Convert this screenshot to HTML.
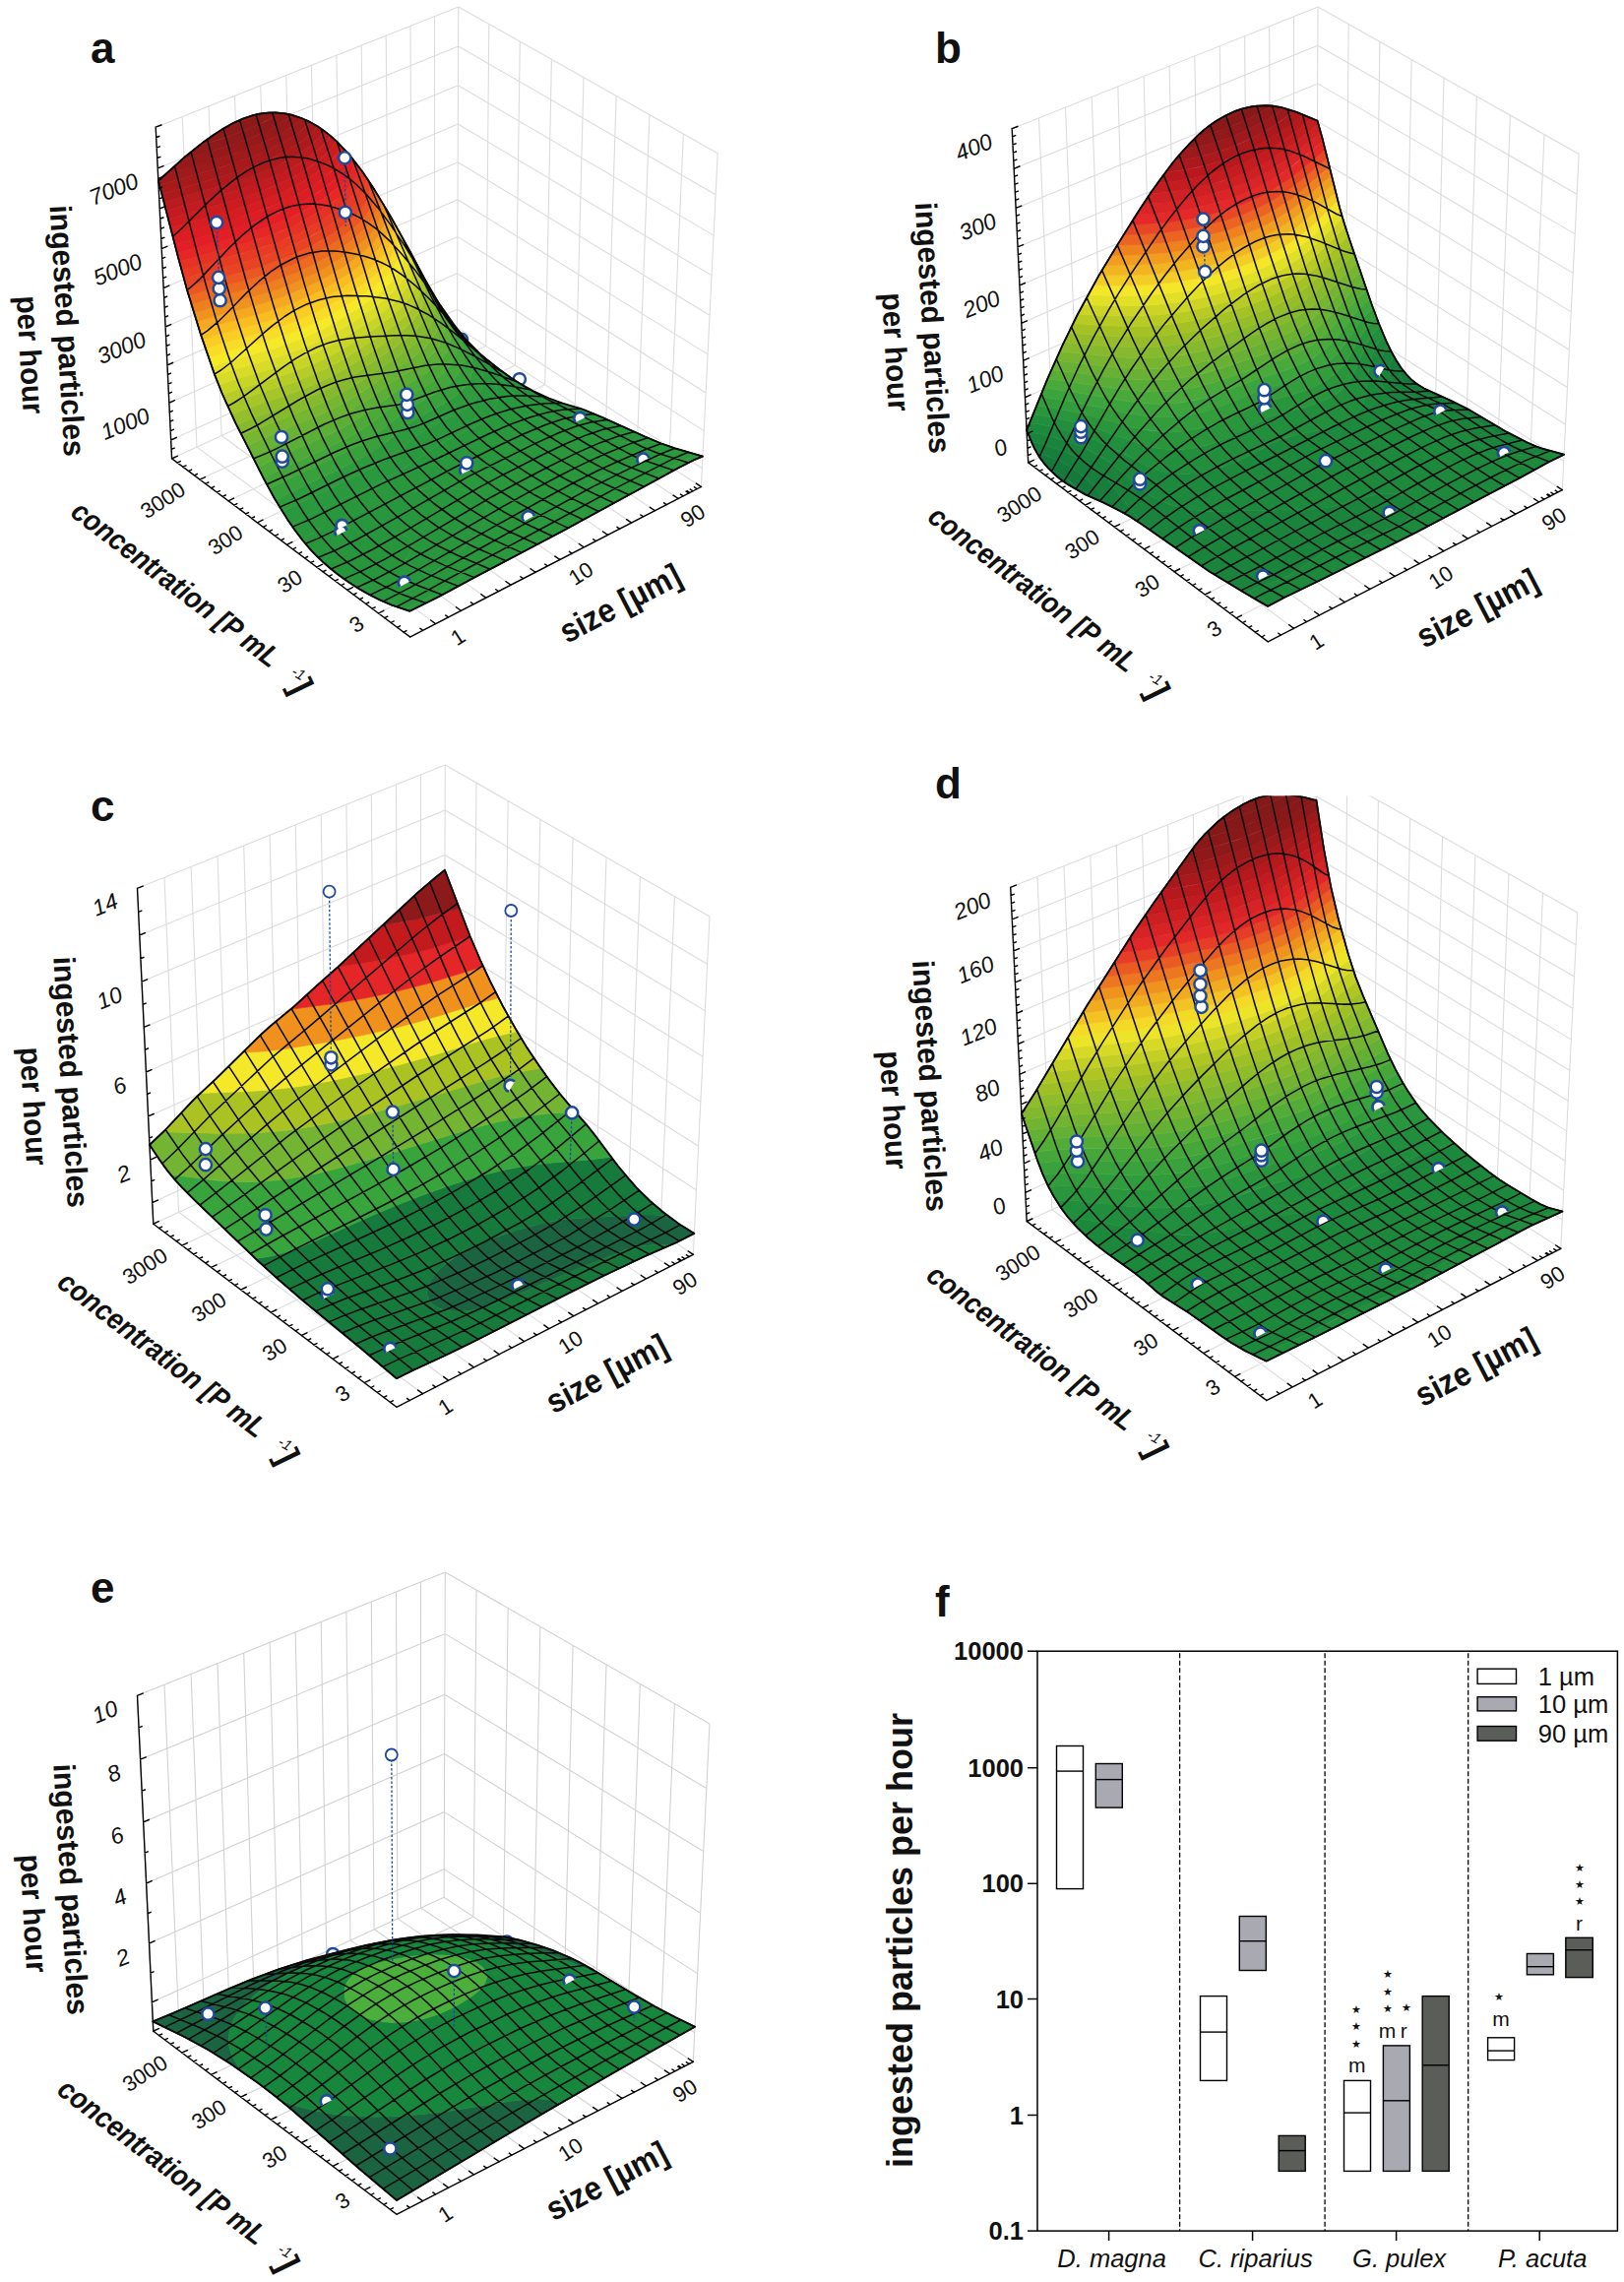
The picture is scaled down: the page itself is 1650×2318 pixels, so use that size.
<!DOCTYPE html>
<html><head><meta charset="utf-8"><title>Figure</title>
<style>html,body{margin:0;padding:0;background:#fff}svg{display:block}text{font-family:"Liberation Sans",Arial,Helvetica,sans-serif;fill:#111}</style>
</head><body>
<svg xmlns="http://www.w3.org/2000/svg" width="1650" height="2318" viewBox="0 0 1650 2318" fill="none">
<rect width="1650" height="2318" fill="#fff"/>
<g id="pa"><path d="M174.6 465.8L158.2 129.2M416.6 647L174.6 465.8M200 454.1L185.2 118.5M442.5 633.6L200 454.1M225.2 442.5L212 107.8M468.3 620.3L225.2 442.5M250.1 431.1L238.5 97.3M493.8 607.2L250.1 431.1M274.8 419.7L264.7 86.9M519 594.2L274.8 419.7M299.3 408.4L290.7 76.5M544 581.3L299.3 408.4M323.5 397.3L316.4 66.3M568.8 568.5L323.5 397.3M347.5 386.2L341.9 56.2M593.3 555.9L347.5 386.2M371.3 375.3L367.2 46.1M617.6 543.4L371.3 375.3M395 364.4L392.2 36.2M641.6 531L395 364.4M418.4 353.7L417 26.3M665.4 518.7L418.4 353.7M441.5 343L441.5 16.6M689.1 506.5L441.5 343M464.5 332.4L465.8 6.9M712.4 494.5L464.5 332.4M712.4 494.5L729.2 155.7M416.6 647L712.4 494.5M679.6 473L694.3 135.9M384.4 623L679.6 473M647.4 452L659.9 116.5M352.9 599.3L647.4 452M615.6 431.2L626.1 97.4M321.9 576.1L615.6 431.2M584.4 410.8L593 78.7M291.4 553.3L584.4 410.8M553.7 390.7L560.4 60.3M261.5 530.8L553.7 390.7M523.5 371L528.3 42.2M232 508.8L523.5 371M493.8 351.5L496.8 24.4M203.1 487.1L493.8 351.5M464.5 332.4L465.8 6.9M174.6 465.8L464.5 332.4M173.7 447L464.6 314.3M464.6 314.3L713.4 475.7M171.9 409.2L464.7 277.6M464.7 277.6L715.3 437.6M170 370.9L464.9 240.4M464.9 240.4L717.2 399M168.1 332L465 202.8M465 202.8L719.1 359.9M166.2 292.6L465.2 164.7M465.2 164.7L721.1 320.2M164.2 252.6L465.4 126M465.4 126L723.1 279.9M162.3 212L465.5 86.8M465.5 86.8L725.1 239.1M160.3 170.9L465.7 47.1M465.7 47.1L727.1 197.7M158.2 129.2L465.8 6.9M465.8 6.9L729.2 155.7M158.2 129.2L465.8 6.9M465.8 6.9L729.2 155.7" stroke="#dcdcde" stroke-width="1.1" fill="none"/>
<circle cx="469" cy="344.9" r="6.1" fill="#fff" stroke="#1f4a9c" stroke-width="2.5"/>
<circle cx="527.8" cy="385.3" r="6.1" fill="#fff" stroke="#1f4a9c" stroke-width="2.5"/>
<path d="M600.3 419.6 603.8 420.5 591.8 415.6 571.6 409.6 557.8 404.5 542.1 397.4 528.2 389.5 508.4 376 481.6 354.8 467.6 341.9 459.7 331.8 462.5 335.9 467.8 341.7 484 356.4 512.7 379.6 522.2 386.6 532.4 393.3 546.4 401.2 562.4 408.2 580.6 414.2 600.3 419.6Z" fill="#26943c" stroke="#26943c" stroke-width="0.6"/>
<path d="M371 595.8 376.1 594.5 383.3 591.7 392.8 586.5 401 580.5 410.2 571.2 415.4 563.8 417.3 559.6 418.2 555.9 418.2 552.6 417.5 549.8 416 547.3 413.7 545.2 410.7 543.5 406.7 542.3 401.7 541.5 395.5 541.4 387.6 542.1 377.3 544 362.3 548.2 348.4 553.8 339.1 558.9 336.1 561 331.7 565.5 328.5 571.3 341.6 582.2 352.1 589.9 363 597 371 595.8ZM636.1 434.9 603.8 420.5 576.8 413.1 559 406.9 546.4 401.2 535 394.9 524.6 388.3 512.7 379.6 479.7 352.7 465.9 339.8 462.5 335.9 456 326.9 460.6 333 467.9 340.6 512.3 381.8 527.6 394.9 542.4 405.3 551.1 410 557.4 412.9 571.6 418 619.4 430.9 636.1 434.9Z" fill="#27953c" stroke="#27953c" stroke-width="0.6"/>
<path d="M392 612.1 393.2 612.6 406.5 606 418.4 598.5 429.6 590.5 456.2 569.3 467.9 558.8 478.8 548 484 542.1 489 535.4 492.1 530 494.5 523.9 495 520.4 494.3 514.3 491.6 509.3 489.6 507.1 484.4 503.3 477.8 500.3 470.1 497.8 461.6 495.7 451.8 494.2 446.3 494.1 437.6 494.9 432.9 495.9 421.3 499 405.3 504.4 344.5 528.3 331.1 534.3 321.6 539.2 312.8 544.7 307.4 548.8 318 561 328.5 571.3 331.7 565.5 336.1 561 339.1 558.9 345.1 555.4 351.7 552.3 366.1 547 382.3 543 395.5 541.4 401.7 541.5 406.7 542.3 410.7 543.5 413.7 545.2 416 547.3 417.5 549.8 418.2 552.6 418.2 555.9 417.3 559.6 415.4 563.8 412.3 568.6 407.6 574.2 398.4 582.6 386.6 590.1 376.1 594.5 371 595.8 363 597 375.9 604.4 392 612.1ZM668.1 449.7 669.7 449.7 636.6 435 619.4 430.9 571.6 418 557.4 412.9 551.1 410 542.4 405.3 532.3 398.5 520.8 389.3 475.7 348.1 460.6 333 452.6 321.9 460.6 331.9 485 356.8 498.1 371 510.6 385.9 531.7 412.8 539.8 420.8 547.4 426.1 553.5 429.2 564.5 432.9 618.2 446.4 632.5 448.7 643.3 449.5 668.1 449.7Z" fill="#28963c" stroke="#28963c" stroke-width="0.6"/>
<path d="M411 619 431.4 609.3 447 600.3 475.6 581 541.1 538.4 551.7 530.8 559.2 524.7 586.7 499.6 594.4 494 602.7 488.8 611.8 484.2 625 478.9 653.5 469.8 676.7 460.8 692 457.2 680.1 453.5 669.7 449.7 649.2 449.8 637.8 449.2 627.5 448 613.8 445.5 560.6 431.8 553.5 429.2 547.4 426.1 539.8 420.8 531.7 412.8 501.3 374.7 486.9 358.7 458.9 330 454 324 449.3 316.9 455.6 324.9 474.2 345.3 483.6 356.4 492.9 369.2 499.4 380.4 503.9 391.7 505.3 398.1 505.6 403 505.4 406.3 504 412.2 499.7 419.7 493.5 426 485.8 431.3 477.3 436.1 452.9 448 444.1 452.8 436 458 412.3 474.6 395.1 484.9 370.1 497.4 317.3 521.3 304.8 528 296.2 533.6 307.4 548.8 315.6 542.8 324.7 537.5 347.9 526.9 410.5 502.6 425.8 497.6 437.6 494.9 445.6 494.1 451.8 494.2 461.6 495.7 470.1 497.8 477.8 500.3 484.4 503.3 487.2 505.1 491.6 509.3 493.2 511.7 494.9 517.2 495 520.7 493.4 527.1 491.1 532.1 488 536.8 481.3 545.2 472.5 554.4 458.2 567.5 442.9 580.2 429.6 590.5 415.5 600.4 403.3 607.8 393.2 612.6 411 619Z" fill="#29973c" stroke="#29973c" stroke-width="0.6"/>
<path d="M416.4 620.8 446.1 606 485.2 584.9 567.9 541.4 638.6 502.7 649 494.9 662.2 486 677.3 476.5 687.1 470.9 699.7 465.3 711.5 462.7 692 457.2 684 458.8 673.2 462 651 470.7 621.6 480.2 605.6 487.2 597 492.2 586.7 499.6 559.2 524.7 546.5 534.6 507.4 560.6 472.7 582.9 447 600.3 431.4 609.3 411.2 619 416.4 620.8ZM294.6 531.3 296.2 533.6 304.8 528 317.3 521.3 370.1 497.4 395.1 484.9 412.3 474.6 436 458 444.1 452.8 452.9 448 477.3 436.1 485.8 431.3 491.1 427.8 495.7 424 501.3 417.3 504 412.2 504.8 409.3 505.6 403 505.5 399.5 503.9 391.7 502.5 387.3 498 377.6 492.9 369.2 485.2 358.5 475.1 346.4 453.9 322.9 449.3 316.9 446.2 311.7 450.7 317.8 465.9 335.6 474 345.8 481.2 356.5 486.6 366.7 488.9 373 490.2 378.2 490.8 386.4 490.5 389.6 488.9 395.4 484.8 402.9 478.9 409.4 471.8 415.1 460.9 421.7 437 433.9 428.6 438.9 423.4 442.5 401.4 460.2 382.4 472.8 358 485.8 305.8 510 296.3 515 287.4 520.3 294.6 531.3Z" fill="#2a983c" stroke="#2a983c" stroke-width="0.6"/>
<path d="M638.6 502.7 693.2 473.1 705.1 467.2 714 463.6 711.5 462.7 703.3 464.3 696.3 466.6 687.1 470.9 677.3 476.5 662.2 486 649 494.9 638.6 502.7ZM286.7 519.3 287.4 520.3 296.3 515 305.8 510 358 485.8 382.4 472.8 401.4 460.2 423.4 442.5 428.6 438.9 437 433.9 460.9 421.7 471.8 415.1 478.9 409.4 484.8 402.9 488.9 395.4 490.5 389.6 490.8 386.4 490.2 378.2 488.9 373 486.6 366.7 481.2 356.5 475.5 347.9 467.6 337.7 449.1 315.8 443.2 306.5 466.7 337 473.4 348 477.6 357.4 480.1 367.6 480.1 375.9 477.7 384.6 473.3 391.9 467.3 398.3 460.2 404 449.5 410.7 420.4 426.4 414.4 430.7 393.6 447.9 374.8 460.7 350.8 473.8 298.7 498.1 279.9 508 286.7 519.3Z" fill="#2e9b3c" stroke="#2e9b3c" stroke-width="0.6"/>
<path d="M278.9 506.3 279.9 508 298.7 498.1 350.8 473.8 372 462.4 380.4 457.2 391.1 449.8 414.4 430.7 420.4 426.4 449.5 410.7 460.2 404 467.3 398.3 473.3 391.9 477.7 384.6 480.1 375.9 480.1 367.6 477.6 357.4 473.4 348 468.1 339.1 460.6 328.7 444.6 308.5 440.3 301.1 454 319.5 461 329.9 466.7 340.2 470.1 349.1 471.8 359 471.3 366.7 468.5 375.1 463.9 382.3 457.9 388.6 450.8 394.3 440.2 401.1 414.2 415.4 384.8 438.7 365.7 451.2 344.5 462.6 292.4 486.7 273.4 496.4 278.9 506.3Z" fill="#38a13b" stroke="#38a13b" stroke-width="0.6"/>
<path d="M271 492 273.4 496.4 295.7 485.2 341.4 464.1 362.8 452.9 374.2 446 384.8 438.7 414.2 415.4 440.2 401.1 450.8 394.3 457.9 388.6 463.9 382.3 468.5 375.1 471.3 366.7 471.8 359 470.1 349.1 466.7 340.2 461.1 330.1 455.5 321.6 440.3 301.1 437.5 295.8 448.9 312 455.9 323.2 460.7 332.9 463.4 341.3 464.5 350 463.6 358.3 460.5 366.4 455.7 373.5 449.6 379.8 442.6 385.5 432 392.4 406.8 407.1 379.5 428.1 363.2 438.9 351.4 445.6 339 451.8 289.9 474.2 267.6 485.4 271 492Z" fill="#42a63a" stroke="#42a63a" stroke-width="0.6"/>
<path d="M265.7 481.7 267.6 485.4 289.9 474.2 339 451.8 357.4 442.3 376.9 430 406.8 407.1 432 392.4 440 387.2 447.4 381.7 453.8 375.7 457.5 371.2 460.5 366.4 463.4 359 464.2 355.3 464.5 350 463.4 341.3 460.7 332.9 455.9 323.2 448.9 312 437.5 295.8 434.7 290.4 445.2 306.2 451.3 316.7 455.2 325.9 457.4 334 458 341.1 456.7 350.3 453.3 358.3 448.3 365.2 442.2 371.5 432.6 378.9 402.7 397.5 374.8 418.1 358.3 428.7 346.5 435.3 334 441.5 284.5 463.5 262.2 474.7 265.7 481.7Z" fill="#4eaa38" stroke="#4eaa38" stroke-width="0.6"/>
<path d="M260.4 471.1 262.2 474.7 281.2 465 330.8 443 352.5 432 372.2 419.9 402.7 397.5 432.6 378.9 439.9 373.4 446.4 367.4 450.1 363 453.3 358.3 456.7 350.3 458 341.1 457.4 334 455.2 325.9 451.3 316.7 445.2 306.2 434.7 290.4 431.9 284.9 441.2 299.7 446 308.6 449.7 318 451.7 326.8 452 333.8 450.2 342.7 446.6 350.4 441.5 357.3 435.3 363.5 425.7 371 398.9 388.1 370.6 408.3 353.9 418.8 329.4 431.4 279.3 452.9 256.8 463.9 260.4 471.1Z" fill="#5bae36" stroke="#5bae36" stroke-width="0.6"/>
<path d="M318.7 436.2 345 423.7 356.8 417.1 367.9 410.1 396.3 389.9 428.2 369.2 437.4 361.5 445 352.8 449.2 345.4 451.1 339.8 452 330.9 451.1 323.1 448.7 314.9 444.9 306.3 440 297.6 431.9 284.9 429.2 279.4 435.3 289.6 440.5 299.5 444.1 308.4 446 316.3 446.5 323.9 445.1 332.5 443.1 337.9 438.7 345.2 431 353.8 419.2 363.3 392.8 380.7 366.7 398.8 352.7 407.5 340.9 414 325.1 421.5 270.8 443.8 251.2 453 256.8 463.9 279.3 452.9 318.7 436.2Z" fill="#68b234" stroke="#68b234" stroke-width="0.6"/>
<path d="M297.7 432.9 315.2 425.8 331.5 418.6 343.9 412.4 358.4 404.1 419.2 363.3 428.8 355.8 436.9 347.5 441.8 340.5 445.1 332.5 446.5 323.9 446 316.3 444.1 308.4 440.5 299.5 426.4 274 432.1 284.1 436.8 293.8 439.6 302.1 441.2 311.1 440.9 319.6 439.5 325.4 435.9 333.2 430.9 340.1 422.6 348.3 410.5 357.6 365.8 387.7 346 399.6 333.8 405.9 317.7 413.3 265.8 433.4 245.6 442.2 251.2 453 270.8 443.8 297.7 432.9Z" fill="#77b631" stroke="#77b631" stroke-width="0.6"/>
<path d="M281.8 427.3 304.2 418.8 321 411.8 336.9 404.4 351.9 396.3 368.5 386 413 355.8 422.6 348.3 430.9 340.1 435.9 333.2 439.5 325.4 441.2 316.7 441.1 309.7 439.6 302.1 436.7 293.6 432.1 284.1 423.6 268.5 428.9 278.6 432.9 287.7 435.3 295.8 436.4 303.7 435.7 312.4 434 318.4 430.2 326 425 332.8 414.3 342.9 402 352 362.4 378.5 342.4 390.3 327 398 310.5 405.1 257.4 424.5 240.3 431.5 245.6 442.2 262.3 434.8 281.8 427.3Z" fill="#86ba2e" stroke="#86ba2e" stroke-width="0.6"/>
<path d="M296.6 410.5 313.9 403.7 330.1 396.5 342.4 390.3 356.9 382 407 348.5 416.6 341 425 332.8 430.2 326 434 318.4 436.2 309.7 436.4 303.1 435.3 295.8 432.3 286.3 428.3 277.2 420.7 263 427.1 276.4 430.3 285.8 431.6 293.5 431.3 303 428.8 311.5 424.7 318.9 419.4 325.7 410.9 333.8 396.2 344.8 364.6 366 347.9 376.2 332.9 384.2 316.9 391.5 299.9 398.3 249.2 415.6 235.2 421 240.3 431.5 257.4 424.5 296.6 410.5Z" fill="#95be2b" stroke="#95be2b" stroke-width="0.6"/>
<path d="M309 394.8 323.4 388.7 336 382.6 350.7 374.6 364.6 366 393.6 346.6 406.2 337.6 415.3 329.8 423.1 321.3 427.6 314.1 430 308.2 431.6 299.9 431.6 293.2 430.3 285.8 427.6 277.5 423.5 268.3 417.8 257.5 422.9 268.7 426.3 279.7 427.2 288.7 426.4 296.4 423.7 304.7 419.4 312 411.9 320.7 402.9 328.6 388 339.5 361.5 357.1 344.7 367.2 329.6 375 313.4 382.3 296.3 388.9 244.8 405.5 230.6 410.8 235.2 421 249.2 415.6 289.3 402.1 309 394.8Z" fill="#a6c529" stroke="#a6c529" stroke-width="0.6"/>
<path d="M285.1 392.7 303.3 386.3 320 379.4 332.7 373.5 347.6 365.5 367 353.6 393.1 335.9 405.3 326.6 413.9 318.6 419.4 312 423.7 304.7 426.2 297.4 427.2 290.2 426.9 283.3 424.6 273.4 420.4 262.8 414.8 252 419.7 263.3 422.3 273.1 422.9 281 421.7 289.8 418.7 297.9 414.1 305.1 406.5 313.7 397.5 321.5 379.9 334.2 355.8 349.9 338.6 359.8 323.2 367.4 310.1 373.1 292.8 379.6 274.6 385.6 240.6 395.7 226.2 400.8 230.6 410.8 244.8 405.5 285.1 392.7Z" fill="#b8cc27" stroke="#b8cc27" stroke-width="0.6"/>
<path d="M289.5 380.7 306.7 374.4 320 368.9 335.6 361.4 350.2 353.2 369.4 341.2 390.1 327 402.1 317.7 410.5 309.5 415.8 302.8 419.9 295.3 422.4 286.9 422.9 280.6 422.4 273.6 420.5 265.7 416.9 256.5 411.8 246.5 415.7 256 418.1 265.3 418.6 274.3 417.1 283.3 413.7 291.2 407.2 300.5 399 308.7 389.6 316.4 371.8 328.9 353 341 335.6 350.8 320.1 358.4 303.5 365.3 285.9 371.6 236.7 386.1 222.2 391.1 226.2 400.8 240.6 395.7 289.5 380.7Z" fill="#c8d426" stroke="#c8d426" stroke-width="0.6"/>
<path d="M292.7 369.3 306.9 364 323.3 356.9 335.6 350.8 350.1 342.7 366.5 332.4 384.7 320 396.7 310.7 405.3 302.6 410.7 296 415 288.7 417.4 282.1 418.6 274.3 418.4 267.6 416.4 258 412.9 248.7 408.8 241 412.3 250.3 414.4 260.1 414.4 268.3 412.2 277.5 408.9 284.5 402.1 293.6 393.7 301.8 381.8 311.2 363.8 323.7 347.3 333.9 329.7 343.5 313.9 350.9 300.4 356.3 282.6 362.4 233.1 376.7 218.5 381.6 222.2 391.1 234.6 386.8 274.8 375.1 292.7 369.3Z" fill="#d8db27" stroke="#d8db27" stroke-width="0.6"/>
<path d="M294.7 358.3 310.6 352.2 323.5 346.5 335.7 340.4 350.1 332.2 366.4 321.9 381.8 311.2 393.7 301.8 402.1 293.6 407.4 286.9 410.2 282.1 413.3 274.3 414.4 268.1 414.4 260.1 413 252.6 409.8 243.2 405.8 235.5 409 244.8 410.5 255.4 409.7 264.8 406.8 273 402.5 280.2 395 288.9 386.2 296.9 374.1 306.1 358.4 316.7 341.7 326.7 326.9 334.6 311 341.9 297.4 347.3 279.5 353.4 229.7 367.4 215.1 372.3 218.5 381.6 233.1 376.7 271.5 365.9 294.7 358.3Z" fill="#e7e227" stroke="#e7e227" stroke-width="0.6"/>
<path d="M295.8 347.9 311 341.9 323.8 336.2 335.9 330 350.2 321.8 366.3 311.4 379 302.5 388.5 294.9 397.1 286.9 402.5 280.2 406.8 273 408.9 267.6 410.4 260.4 410.3 252.3 409 244.8 405.8 235.5 402.7 229.9 405.6 239.4 406.6 249.3 405.3 258.4 402.2 266.4 397.7 273.6 390 282.1 381.1 290 368.8 299.2 353 309.7 336.1 319.6 321 327.3 304.8 334.4 291 339.6 276.5 344.4 226.5 358.2 211.8 363.1 215.1 372.3 229.7 367.4 275.8 354.5 295.8 347.9Z" fill="#f6e928" stroke="#f6e928" stroke-width="0.6"/>
<path d="M295.7 337.9 308.1 333.1 321 327.3 333.2 321.2 347.5 313 363.6 302.7 376.3 293.7 385.7 286.1 394 278 399.3 271.3 402.2 266.4 405.3 258.5 406.4 252.5 406.5 246 405.4 238.7 402.7 229.9 399.5 224.4 402.1 234 402.7 243.2 401 252.1 397.6 259.9 392.9 266.9 385 275.4 373.9 284.7 361 294 344.9 304.3 330.5 312.4 315.1 320 302 325.6 288.1 330.7 273.6 335.4 227.2 348 208.7 354 211.8 363.1 230.3 357.1 272.8 345.5 295.7 337.9Z" fill="#f8dc26" stroke="#f8dc26" stroke-width="0.6"/>
<path d="M294.6 328.4 308.6 322.8 321.4 317.1 344.9 304.3 358.4 295.8 371.1 286.8 380.6 279.3 389.1 271.2 394.6 264.6 397.6 259.9 400.5 253.7 402.3 246.3 402.7 239.1 401.6 231.5 399.5 224.4 396.3 218.9 398.6 228.6 398.7 237.1 396.7 245.7 393 253.4 386.2 262.4 378.2 270.2 366 280 353.1 288.8 339.5 297.3 324.9 305.3 309.2 312.6 295.8 318.1 270.7 326.5 224.2 339 205.7 344.9 208.7 354 227.2 348 273.6 335.4 294.6 328.4Z" fill="#f9cd24" stroke="#f9cd24" stroke-width="0.6"/>
<path d="M292.6 319.3 305.9 314 318.7 308.3 330.8 302.2 342.3 295.7 355.8 287.1 366 280 375.6 272.5 384.2 264.5 389.9 258 393.6 252.4 396.7 245.7 398.2 240.1 398.9 233.8 398.2 226.1 396.3 218.9 393.1 213.3 394.9 223.2 394.7 230.9 392.4 239.4 388.5 246.8 381.4 255.7 372.8 263.8 360.9 273.1 347.9 281.9 334 290.3 322.3 296.6 306.5 303.9 293.1 309.3 267.9 317.6 221.3 330 202.7 335.9 205.7 344.9 224.2 339 270.7 326.5 292.6 319.3Z" fill="#f9bd22" stroke="#f9bd22" stroke-width="0.6"/>
<path d="M289.6 310.6 303.3 305.3 316.1 299.6 328.2 293.5 339.7 287 353.2 278.4 363.3 271.3 372.8 263.8 380.5 256.6 385.2 251.4 389.9 244.4 393.1 237.5 394.6 231.4 395 224.5 394.1 217.4 393.1 213.3 389.8 207.8 391.1 215.2 391.2 220.5 390.7 224.7 388.1 233 383.9 240.3 376.6 249 367.9 257 355.8 266.2 342.7 275 328.6 283.2 316.6 289.4 303.9 295.2 290.5 300.5 265.2 308.8 218.5 321.1 199.9 327 202.7 335.9 221.3 330 267.9 317.6 289.6 310.6Z" fill="#f5a820" stroke="#f5a820" stroke-width="0.6"/>
<path d="M286.1 302.1 310.4 292.3 322.7 286.3 334.4 280 348 271.5 358.3 264.4 367.9 257 376.6 249 382.2 242.6 385.4 237.9 389.1 230.3 390.7 224.7 391.2 218.5 390.6 211.5 389.8 207.8 386.4 202.3 387.4 209.8 386.6 218.5 383.7 226.6 379.3 233.7 371.8 242.3 362.9 250.2 350.7 259.3 337.4 268 323.2 276.1 311 282.2 298.1 287.8 284.4 293 262.6 300 215.9 312.3 197.1 318.1 199.9 327 218.5 321.1 265.2 308.8 286.1 302.1Z" fill="#f0931e" stroke="#f0931e" stroke-width="0.6"/>
<path d="M281.9 293.9 294.7 289.2 307.8 283.6 320.2 277.7 331.9 271.3 342.8 264.6 353.2 257.5 362.9 250.2 371.8 242.3 377.6 236 380.9 231.4 384.7 224.4 386.6 218.5 387.4 212.4 386.9 204.7 386.4 202.3 383 196.7 383.7 204.4 382.5 212.2 379.4 220.1 374.8 227.2 367 235.6 357.9 243.4 345.6 252.5 332.2 261 320.7 267.5 308.5 273.5 295.6 279.1 281.9 284.3 260 291.3 213.2 303.5 194.4 309.2 197.1 318.1 215.9 312.3 262.6 300 281.9 293.9Z" fill="#ee7f1f" stroke="#ee7f1f" stroke-width="0.6"/>
<path d="M277.5 285.8 302.1 276.4 314.7 270.5 326.5 264.3 337.7 257.7 348.1 250.7 357.9 243.4 367 235.6 373 229.4 376.4 224.9 380.6 217.6 382.5 212.2 383.6 206.3 383.4 199.2 383 196.7 379.5 191.2 379.8 199 378.4 205.9 375 213.7 370.1 220.6 362.2 228.9 353 236.5 340.5 245.6 326.9 254 315.2 260.3 302.8 266.3 289.7 271.8 275.8 276.8 253.7 283.6 210.7 294.8 191.8 300.4 194.4 309.2 213.2 303.5 256.2 292.3 277.5 285.8Z" fill="#ec6b21" stroke="#ec6b21" stroke-width="0.6"/>
<path d="M272.7 277.8 286.3 273.1 299.6 267.7 321.2 257.2 332.5 250.7 343.1 243.8 353 236.5 362.2 228.9 368.3 222.7 371.9 218.3 376.3 211.2 378.4 205.9 379.8 199 379.5 191.2 375.9 185.7 375.7 193.7 374.3 199.6 370.6 207.2 365.5 214 357.3 222.2 348 229.7 335.4 238.7 324.4 245.4 312.8 251.7 300.4 257.6 287.2 263.1 273.3 268.1 251.1 274.9 208.3 286.1 189.3 291.7 191.8 300.4 210.7 294.8 253.7 283.6 272.7 277.8Z" fill="#ea5722" stroke="#ea5722" stroke-width="0.6"/>
<path d="M267.8 269.9 293.9 260.4 315.8 250.2 335.4 238.7 345.6 231.6 355.3 223.9 361.6 218.2 367.3 211.8 371 206.4 374.2 199.6 375.7 193.7 375.9 185.7 372.2 180.2 371.7 187.7 370 193.2 366.1 200.6 360.9 207.3 352.8 215.1 343.1 222.9 332.9 230 319.2 238.4 307.3 244.6 294.7 250.3 270.8 259.4 248.7 266.2 205.9 277.4 186.8 283 189.3 291.7 208.3 286.1 251.1 274.9 267.8 269.9Z" fill="#e84423" stroke="#e84423" stroke-width="0.6"/>
<path d="M262.6 262.1 288.1 253.1 310.3 243 330.3 231.7 340.6 224.7 350.2 217.3 356.9 211.5 362.7 205.2 366.1 200.6 369.4 194.6 371.7 187.7 372.2 180.2 368.4 174.7 367.6 181.4 364.6 189.3 359.9 196.3 355.4 201.5 347.7 208.6 335.6 217.9 325.1 224.8 313.8 231.3 292.3 241.7 268.4 250.7 246.3 257.5 203.5 268.8 184.5 274.3 186.8 283 202 278.5 244.9 267.2 262.6 262.1Z" fill="#e73b24" stroke="#e73b24" stroke-width="0.6"/>
<path d="M257.3 254.2 282.3 245.7 304.9 235.9 325.1 224.8 335.6 217.9 345.3 210.5 352.1 204.7 358.1 198.5 362.2 193.2 365.8 186.8 367.9 180.2 368.4 174.7 364.5 169.2 363.5 175 360.2 182.8 355.3 189.7 349.5 196 340.5 203.7 330.6 211 319.9 217.8 308.5 224.2 286.6 234.4 262.4 243.2 243.9 248.8 182.1 265.7 184.5 274.3 257.3 254.2Z" fill="#e63125" stroke="#e63125" stroke-width="0.6"/>
<path d="M252 246.5 276.5 238.3 296.3 230.2 314.3 221.1 330.6 211 345.1 199.9 351.5 193.9 355.3 189.7 358.7 185.2 361.5 180.3 363.5 174.9 364.5 169.2 360.3 163.8 358.9 169.7 355.7 176.3 350.7 183 342.5 191.2 333.1 198.7 322.9 205.8 311.9 212.4 297 220 277.5 228.3 256.3 235.7 179.9 257.1 182.1 265.7 252 246.5Z" fill="#e52825" stroke="#e52825" stroke-width="0.6"/>
<path d="M276.2 228.8 293.8 221.5 311.9 212.4 328.1 202.3 342.5 191.2 348.8 185.2 352.5 180.8 355.7 176.2 358.3 171.3 360.3 163.8 355.9 158.5 354 164.6 351.2 169.6 346 176.3 339.9 182.4 333 188.2 323.1 195.4 312.3 202.1 300.7 208.4 281.7 217 257.6 225.8 235.3 232.6 177.7 248.6 179.9 257.1 245.2 239.1 260 234.5 276.2 228.8Z" fill="#e41e26" stroke="#e41e26" stroke-width="0.6"/>
<path d="M267.4 222.5 285 215.6 300.7 208.4 315 200.5 328.1 191.8 339.9 182.4 347.9 174.2 352.6 167.2 354.9 162.1 355.9 158.5 351.4 153.2 348.8 159.6 345 165.3 339.3 171.6 332.8 177.5 323.1 184.9 312.6 191.8 301.2 198.2 289 204.1 272.7 211 251.6 218.3 175.6 240 177.7 248.6 242.9 230.4 267.4 222.5Z" fill="#dc1d24" stroke="#dc1d24" stroke-width="0.6"/>
<path d="M259.8 215.6 276 209.6 292.1 202.7 307 195 320.6 186.7 332.8 177.5 341.3 169.6 345 165.3 348.1 160.6 351.4 153.2 346.5 148 343.6 154 338.5 160.7 332.4 166.8 325.5 172.5 316.1 179.2 307.3 184.7 295.8 191 283.4 196.8 266.8 203.5 245.5 210.8 173.4 231.4 175.6 240 236.8 222.8 259.8 215.6Z" fill="#d51d22" stroke="#d51d22" stroke-width="0.6"/>
<path d="M252.7 208.5 270.2 202.3 286.6 195.4 301.7 187.9 315.5 179.7 327.8 170.7 336.5 162.8 343.1 154.7 346.5 148 341.4 142.9 337.3 149.5 333.6 154 327.5 159.9 318 167.4 310.3 172.6 299.2 179.2 277.8 189.5 261 196.1 243.2 202.1 171.2 222.8 173.4 231.4 230.7 215.2 252.7 208.5Z" fill="#cd1c20" stroke="#cd1c20" stroke-width="0.6"/>
<path d="M246 201.2 264.4 194.8 281 188.1 296.3 180.7 307.6 174.3 320.5 165.6 329.6 158 337 150 341.4 142.9 335.8 138 332.6 142.7 326.8 149.1 320.2 154.9 312.9 160.4 302.3 167.2 293.8 172 272.1 182.1 255.1 188.6 237.1 194.5 169 214.2 171.2 222.8 246 201.2Z" fill="#c31b1f" stroke="#c31b1f" stroke-width="0.6"/>
<path d="M239.4 193.8 258.6 187.4 272.1 182.1 287.8 175 299.6 168.8 312.1 160.9 322.5 153 330.2 145.5 335.8 138 329.7 133.2 325.9 138 319.7 144.1 312.8 149.7 305.2 155 288.4 164.8 266.3 174.7 249.1 181.1 231.1 186.9 166.8 205.6 169 214.2 239.4 193.8Z" fill="#b91b1e" stroke="#b91b1e" stroke-width="0.6"/>
<path d="M232.8 186.4 252.7 179.9 266.3 174.7 282.3 167.7 294.2 161.6 305.2 155 315.2 147.9 323.9 140.1 329.7 133.2 323 128.6 318.9 133.1 312.4 139 305.1 144.5 297.2 149.6 279.8 159 260.5 167.3 246.7 172.3 226.3 178.9 164.5 196.9 166.8 205.6 232.8 186.4Z" fill="#ae1a1c" stroke="#ae1a1c" stroke-width="0.6"/>
<path d="M226.3 178.9 246.7 172.3 260.5 167.3 273.6 161.8 285.8 156 297.2 149.6 307.6 142.7 316.9 135.1 323 128.6 315.6 124.3 307.2 131.9 294.5 140.7 280.3 148.6 264.6 155.8 247.7 162.3 226.3 169.4 162.1 188.1 164.5 196.9 226.3 178.9Z" fill="#a61a1c" stroke="#a61a1c" stroke-width="0.6"/>
<path d="M256.9 158.9 271 153 283.2 147.1 294.5 140.7 304.8 133.8 315.6 124.3 307.2 120.4 297 128.4 286.3 135.1 274.6 141.3 258.8 148.3 241.7 154.7 223.8 160.6 168.1 177 160.9 183.6 162.1 188.1 222.6 170.6 240.7 164.7 256.9 158.9Z" fill="#9e1a1b" stroke="#9e1a1b" stroke-width="0.6"/>
<path d="M246.9 152.9 262.1 147 277.7 139.8 289.1 133.5 299.5 126.6 307.2 120.4 297.3 117 288.3 123.3 277.9 129.3 268.9 133.8 256.2 139.4 242.7 144.6 225 150.6 183.3 163.2 168.1 177 213.4 163.9 246.9 152.9Z" fill="#97191a" stroke="#97191a" stroke-width="0.6"/>
<path d="M239.4 145.8 256.2 139.4 272 132.4 286.4 124.5 297.3 117 284.8 114.7 269.3 123.4 250.3 131.8 229.6 139.4 201.1 148.5 183.3 163.2 214.1 154.1 239.4 145.8Z" fill="#901919" stroke="#901919" stroke-width="0.6"/>
<path d="M233.1 138.2 250.3 131.8 263.1 126.3 275.1 120.3 284.8 114.7 273.3 114.4 264.2 115.5 247.6 122.9 227.6 130.2 213.8 139.1 201.1 148.5 233.1 138.2Z" fill="#8d1919" stroke="#8d1919" stroke-width="0.6"/>
<path d="M227.6 130.2 247.6 122.9 264.2 115.5 256.8 117.2 246.8 120.5 236.9 125 227.6 130.2Z" fill="#8b1919" stroke="#8b1919" stroke-width="0.6"/>
<path d="M416.4 620.8 397.4 614.4 386.6 609.7 375.9 604.4 365.3 598.4 354.7 591.7 344.2 584.2 336.3 578 328.5 571.2 320.6 563.7 315.4 558.2 307.6 549 299.8 538.7 291.9 527.4 278.9 506.3 268.3 486.9 239.3 429.6 226 400.5 217.9 380.1 204.2 340.4 190.1 294.7 181.5 263.3 160.9 183.6M416.4 620.8 446.1 606 485.2 584.9 571 539.8 690.3 474.7 705.1 467.2 714 463.6M433 612.7 408.5 603.8 389.7 595.1 379 589.3 371.1 584.4 360.6 577.1 352.7 571.1 344.8 564.4 337 556.9 324 542.2 316.1 532 308.3 520.7 295.2 499.3 279.5 469.5 255.7 420.7 242.4 389.7 231.6 360.8 220.6 327.7 209.4 290 200.8 258.5 177.4 168.5M402.8 616.4 429.1 602.6 477.8 575.8 557.1 533.3 628 494.6 682.1 466.9 691 462.8 699.8 459.3M449.4 604.3 422.1 593.8 403.3 585.2 392.7 579.4 384.7 574.5 369 563.1 361.1 556.4 353.3 548.9 340.2 534.3 332.4 524.2 324.6 512.9 311.5 491.5 295.7 461.7 277.3 422.5 264 390.7 250.5 354.1 239.5 320.6 228.4 283 194 154.2M389.3 610.9 415.6 597.4 493 554.2 601.9 494.6 638.2 476.6 671 461.3 685.7 455.3M465.7 595.5 435.7 583.6 416.9 574.9 406.2 569 398.3 564 390.4 558.5 382.5 552.3 374.6 545.4 366.8 537.7 353.7 522.8 340.7 504.8 327.6 483.5 314.6 458.8 298.8 424.9 285.5 392.5 272 355.6 261.2 322.4 250.1 285.7 210.5 141.5M375.9 604.4 392.4 596.5 411.9 586.1 501.5 535.2 557.6 504 585.1 489.2 606.4 478.5 624.4 470.2 657.1 456 671.8 450.5M481.9 586.6 451.8 574.4 433 565.7 422.3 559.8 414.4 554.9 406.4 549.4 398.5 543.3 390.7 536.6 382.8 529 375 520.5 367.2 511.1 354.1 492.8 341.1 471 328 445.4 314.9 415.8 301.6 381.8 290.8 351.2 280 317.5 269 280.7 227 130.6M362.6 596.8 382.3 587.7 405.1 575.6 509.9 515.1 540.9 497.9 568.5 483.2 592.7 471.1 616.7 460.3 640.5 450.6 658 444.7M498.1 578.2 465.2 564.2 446.3 555 435.6 548.9 427.7 543.8 411.9 532 404 525.2 396.1 517.6 383.1 502.9 370.1 485.2 357.1 463.8 344 438.2 333.5 414.4 323 387.4 309.6 349.3 298.8 315.4 287.9 278.8 254.7 160 243.5 121.9M349.4 588.1 369.1 579.3 391.8 567.6 420.8 551.2 499.6 504.7 524.4 491.2 558 473.7 585.3 460.4 609.2 449.9 626.9 443.4 644.4 438.6M514.1 569.8 481.1 555.2 462.2 545.7 443.6 534.4 427.7 522.8 419.8 516.2 412 509 399 495 386 478.1 378.2 466.3 373 457.5 362.6 437.7 352.1 414.6 341.6 388.1 328.3 350.2 320.3 325.2 309.5 289.4 273.9 162.9 260.1 116.3M336.3 578 356 569.5 378.7 558 413.9 538.1 486.3 495.4 508 483.9 550.7 462.2 574.8 450.7 595.7 441.9 613.4 436.1 630.9 432.4M530 561.4 497 546.3 478.1 536.5 459.4 525 440.9 511.5 425.1 497.9 417.3 490.2 409.5 481.5 401.7 471.7 396.5 464.4 386.2 447.8 375.8 427.8 365.4 404 354.9 376.6 344.3 345.6 325.6 284.6 290.3 159.6 276.6 114.3M323.3 566.3 339.6 559.5 362.3 548.2 407.2 523.4 476.2 483.9 543.5 450.6 567.5 439.8 585.3 433 600 429 617.5 426.3M545.9 553 515.5 539 496.5 528.9 475.1 515.6 453.9 500.2 435.6 484.8 422.6 471.7 414.8 462.4 409.6 455.4 399.3 439.2 388.9 419.2 381.2 401.4 373.3 381.2 362.9 351.1 344.3 291.6 306.6 160 293.1 116M310.2 552.2 323.3 546.9 339.6 539.1 460 475.7 509.1 451.5 533.3 440.2 554.3 431.5 572.1 425.6 586.8 422.4 595.5 421.2 604.2 420.6M561.6 544.7 531.2 530.5 512.2 520.1 490.7 506.5 466.9 489.1 448.6 474.6 435.6 462.2 427.8 453.4 422.6 446.8 412.3 431.3 404.6 416.9 396.8 399.5 389.1 379.5 378.6 349.7 360.3 291.6 322.9 163.9 309.5 121.3M297.2 535.1 316.8 526.9 387.4 491.6 443.9 466 496 441 517.2 431.6 538.2 423.9 556 419 564.8 417.3 573.6 416.1 582.3 415.4 590.5 415.3M577.2 536.4 546.8 521.9 525.1 509.7 503.6 495.9 474.5 474.9 461.4 464.8 448.4 452.7 438.1 440.8 427.8 426.2 420.1 412.6 412.4 396 404.6 376.9 394.3 348.5 376.1 293 339.1 171 325.9 130.5M284.1 515.1 303.7 506.7 348.9 484.5 368.1 475.7 390.2 466.7 434 451 446.4 445.6 480 429.8 498.2 422.3 510.2 418.2 519.2 415.6 537 411.8 554.7 409.8 571.6 409.6M592.8 528 565.1 514.6 543.2 502.8 519 487.7 492.5 469.3 476.8 457.3 463.8 445.3 453.5 433.7 443.2 419.3 432.9 401.4 425.2 385.4 417.5 367.3 407.3 340.5 391.7 295.9 355.2 181.7 342.1 143.6M271 492 293.9 481.8 339.1 459.8 358.2 451.5 367.8 448 380.4 444 411.8 436.3 421.1 433.6 433.5 428.8 461.1 416.5 479.3 409.9 497.4 405.2 515.2 402.6 524.1 402 535.9 401.9 554.5 403.1M608.3 519.5 580.5 506.1 558.6 494.4 534.4 479.7 510.5 463.7 494.7 451.9 481.7 440.5 471.4 429.6 461.1 416.5 450.8 400.6 443.1 386.6 432.9 365.3 422.7 341.2 404.7 293.6 371.1 196.3 358.2 161.2M257.8 465.8 270.9 460.4 280.7 455.9 329.2 431 348.4 422.9 357.9 419.7 370.6 416.4 383.2 414 405.1 411 411.3 409.5 442.1 398.1 457.4 393.6 466.5 391.7 475.5 390.5 484.6 389.8 496.5 389.8 505.4 390.3 517.2 391.7 539.2 395.9M623.7 510.9 595.8 497.8 573.9 486.3 552.3 473.5 528.3 458 512.6 446.6 499.5 435.9 486.6 423.1 476.3 410.8 466 396.3 455.8 379.3 445.6 359.8 435.4 338 417.6 295.2 386.9 214.9 374.1 183M244.6 440.2 254.5 435.5 264.3 430.2 303.1 406.5 322.4 396 332 391.7 341.6 388.1 351.2 385.3 360.7 383.1 398.4 378.1 432.4 371.3 444.6 370.1 453.7 369.9 468.8 371.1 483.8 374 501.5 379.2 525.6 387.9M638.9 502.5 613.8 491.2 594.6 481.6 572.9 469.2 548.8 454.1 530.3 441.6 514.6 429.5 501.6 417.6 491.3 406.5 481.1 393.7 470.9 378.9 460.7 362.1 450.6 343.4 440.5 322.9 430.3 301 389.8 207.9M231.4 412.6 237.9 409 247.7 402.7 289.8 371.3 299.4 364.8 309.1 359.1 321.9 352.8 331.5 349.1 344.3 345.6 357.1 343.5 376 341.9 407.3 340.5 422.7 341.2 438 343.7 453.1 348.2 468.1 354.6 483 362.2 513.2 379.4M654.1 494.2 629 483.5 615.2 477.1 598.8 468.3 577.2 455.4 550.6 438.5 532.2 425.9 516.6 413.4 503.7 401.1 493.5 389.7 483.3 376.8 473.2 362.3 460.6 342.2 450.5 324.6 437.9 300.9 405.3 234.6M217.9 380.1 224.5 376 234.3 368.5 266.6 339.4 276.3 331.2 289.2 321.5 298.8 315.4 311.7 308.9 324.6 304.4 337.4 301.6 353.4 300.2 372.4 300.8 391.2 303 406.8 306.8 416 310.1 422.2 312.7 434.4 319.2 449.5 329.1 461.5 338.2 490.9 362.4 501.5 370.7M669.3 486 635.7 472.8 624.7 467.5 611 460 544.5 419.5 528.9 408.4 516 397.8 503.2 385.5 493.1 374.4 483 362.2 470.4 345.4 457.8 327 445.4 307.1 432.9 285.5 420.5 262.5M204.2 340.4 210.8 335.9 220.6 327.7 230.3 318.3 249.7 298.3 262.6 286.2 275.5 275.7 285.2 269.2 298.1 262.5 304.6 259.9 314.3 257.1 327.2 255.1 333.6 254.8 343.3 255.2 352.9 256.4 362.4 258.2 371.9 260.7 378.2 262.8 387.6 266.7 393.9 269.9 400.1 273.5 409.4 279.9 421.7 289.8 436.9 304.3 448.9 317.1 475.5 346.8 490.3 361.9M684.3 477.8 653.4 467.3 645.1 463.7 636.8 459.6 620.5 450.7 588.3 432 554 413.3 538.4 403.7 525.6 394.6 512.8 384.4 502.7 375.4 490.1 363 477.5 349.3 465.1 334.5 455.2 321.6 445.3 307.5 435.4 291.7M190.1 294.7 196.7 289.3 203.3 283.1 232.4 252.3 245.4 239.6 258.4 228.8 271.4 220 281.2 214.9 287.7 212.2 294.2 210 300.7 208.5 307.2 207.5 316.9 207.1 323.4 207.5 333.1 209.1 339.5 210.7 349.2 213.8 358.8 217.7 365.1 220.9 374.6 226.8 380.9 231.4 387.2 236.6 396.6 245.4 409 258.9 421.3 273.9 436.4 294.3 466 336.2 479.5 353M699.2 470.1 668.2 460.3 651.6 453.5 600.3 427.1 558.2 406.8 545.3 399.9 532.4 392.4 519.7 384.2 507.1 375.1 494.5 365.2 482.1 354.4 472.2 344.9 462.3 334.4 455 325.2 450.1 318.1M175.6 240.2 185.5 231.2 211.7 205.1 224.7 193.1 241.1 180.1 250.9 173.6 257.5 169.9 267.3 165.3 273.9 162.9 283.7 160.5 290.3 159.6 296.8 159.3 306.6 160 313.1 161.1 322.9 163.9 332.7 167.8 339.1 171 348.8 177 355.2 181.7 361.6 187 368 193.1 374.3 199.7 383.8 210.9 396.3 227.6 411.7 250.6 426.9 275.3 453.6 321 462.3 334.4 469.4 343.8M714 463.6 685.7 455.3 671.8 450.5 655.3 443.5 612.1 424 591.8 415.6M160.9 183.6 187.3 159.8 207.2 143.9 217.1 136.9 227 130.6 236.9 125 246.8 120.5 256.8 117.2 263.4 115.6 273.3 114.4 279.9 114.3 289.8 115.3 296.4 116.7 306.2 120 312.8 122.9 322.6 128.3 329.1 132.8 335.6 137.9 342.1 143.6 355 157.3 367.8 173.8 380.4 192.6 396 218.4 417.4 256.8 444.2 308.4 453 322.5 461.3 333.9" fill="none" stroke="#0a0a0a" stroke-width="1.55" stroke-linejoin="round"/>
<path d="M416.4 620.8 446.1 606 485.2 584.9 571 539.8 690.3 474.7 705.1 467.2 714 463.6M714 463.6 685.7 455.3 671.8 450.5 655.3 443.5 612.1 424 591.8 415.6M160.9 183.6 187.3 159.8 207.2 143.9 217.1 136.9 227 130.6 236.9 125 246.8 120.5 256.8 117.2 263.4 115.6 273.3 114.4 279.9 114.3 289.8 115.3 296.4 116.7 306.2 120 312.8 122.9 322.6 128.3 329.1 132.8 335.6 137.9 342.1 143.6 355 157.3 367.8 173.8 380.4 192.6 396 218.4 417.4 256.8 444.2 308.4 453 322.5 461.3 333.9M416.4 620.8 397.4 614.4 386.6 609.7 375.9 604.4 365.3 598.4 354.7 591.7 344.2 584.2 336.3 578 328.5 571.2 320.6 563.7 315.4 558.2 307.6 549 299.8 538.7 291.9 527.4 278.9 506.3 268.3 486.9 239.3 429.6 226 400.5 217.9 380.1 204.2 340.4 190.1 294.7 181.5 263.3 160.9 183.6M591.8 415.6 571.6 409.6 557.8 404.5 542.1 397.4 528.2 389.5 518 382.9 508.4 376 483.7 356.6 469.4 343.8 464.2 338 461.3 333.9" fill="none" stroke="#0a0a0a" stroke-width="1.8" stroke-linejoin="round" stroke-linecap="round"/>
<path d="M220.1 226L222.5 282.9" stroke="#1f4a9c" stroke-width="1.3" stroke-dasharray="2.5 2" fill="none"/>
<circle cx="223.6" cy="305.2" r="6.1" fill="#fff" stroke="#1f4a9c" stroke-width="2.5"/>
<circle cx="222.7" cy="293.1" r="6.1" fill="#fff" stroke="#1f4a9c" stroke-width="2.5"/>
<circle cx="222.1" cy="281.9" r="6.1" fill="#fff" stroke="#1f4a9c" stroke-width="2.5"/>
<circle cx="220.1" cy="226" r="6.1" fill="#fff" stroke="#1f4a9c" stroke-width="2.5"/>
<path d="M350.2 160.4L351.2 230.1" stroke="#1f4a9c" stroke-width="1.3" stroke-dasharray="2.5 2" fill="none"/>
<circle cx="350.8" cy="215.8" r="6.1" fill="#fff" stroke="#1f4a9c" stroke-width="2.5"/>
<circle cx="350.2" cy="160.4" r="6.1" fill="#fff" stroke="#1f4a9c" stroke-width="2.5"/>
<circle cx="414.2" cy="419" r="6.1" fill="#fff" stroke="#1f4a9c" stroke-width="2.5"/>
<circle cx="413.8" cy="410.9" r="6.1" fill="#fff" stroke="#1f4a9c" stroke-width="2.5"/>
<circle cx="413.2" cy="400.8" r="6.1" fill="#fff" stroke="#1f4a9c" stroke-width="2.5"/>
<g transform="translate(589.3,425) rotate(-27)"><path d="M-5.9 1.6A6.1 6.1 0 1 1 5.9 1.6Z" fill="#fff"/><path d="M-5.9 1.6A6.1 6.1 0 1 1 5.9 1.6" fill="none" stroke="#1f4a9c" stroke-width="2.7"/></g>
<g transform="translate(653.4,466.6) rotate(-27)"><path d="M-5.9 1.6A6.1 6.1 0 1 1 5.9 1.6Z" fill="#fff"/><path d="M-5.9 1.6A6.1 6.1 0 1 1 5.9 1.6" fill="none" stroke="#1f4a9c" stroke-width="2.7"/></g>
<g transform="translate(473.3,477.7) rotate(-27)"><path d="M-5.9 1.6A6.1 6.1 0 1 1 5.9 1.6Z" fill="#fff"/><path d="M-5.9 1.6A6.1 6.1 0 1 1 5.9 1.6" fill="none" stroke="#1f4a9c" stroke-width="2.7"/></g>
<circle cx="474.2" cy="470.3" r="6.1" fill="#fff" stroke="#1f4a9c" stroke-width="2.5"/>
<circle cx="286.7" cy="468.7" r="6.1" fill="#fff" stroke="#1f4a9c" stroke-width="2.5"/>
<circle cx="286.7" cy="463.7" r="6.1" fill="#fff" stroke="#1f4a9c" stroke-width="2.5"/>
<circle cx="286" cy="444" r="6.1" fill="#fff" stroke="#1f4a9c" stroke-width="2.5"/>
<g transform="translate(346.3,540.1) rotate(-27)"><path d="M-5.9 1.6A6.1 6.1 0 1 1 5.9 1.6Z" fill="#fff"/><path d="M-5.9 1.6A6.1 6.1 0 1 1 5.9 1.6" fill="none" stroke="#1f4a9c" stroke-width="2.7"/></g>
<g transform="translate(347.5,533.9) rotate(-27)"><path d="M-5.9 1.6A6.1 6.1 0 1 1 5.9 1.6Z" fill="#fff"/><path d="M-5.9 1.6A6.1 6.1 0 1 1 5.9 1.6" fill="none" stroke="#1f4a9c" stroke-width="2.7"/></g>
<g transform="translate(410.8,591.8) rotate(-27)"><path d="M-5.9 1.6A6.1 6.1 0 1 1 5.9 1.6Z" fill="#fff"/><path d="M-5.9 1.6A6.1 6.1 0 1 1 5.9 1.6" fill="none" stroke="#1f4a9c" stroke-width="2.7"/></g>
<g transform="translate(536.7,525.3) rotate(-27)"><path d="M-5.9 1.6A6.1 6.1 0 1 1 5.9 1.6Z" fill="#fff"/><path d="M-5.9 1.6A6.1 6.1 0 1 1 5.9 1.6" fill="none" stroke="#1f4a9c" stroke-width="2.7"/></g>
<path d="M174.6 465.8L158.2 129.2M174.6 465.8L416.6 647M416.6 647L712.4 494.5M174.6 465.8l2.9 -1.3M174.2 456.4l2.9 -1.3M173.7 447l5.5 -2.5M173.3 437.6l2.9 -1.3M172.8 428.2l2.9 -1.3M172.3 418.7l2.9 -1.3M171.9 409.2l5.5 -2.5M171.4 399.7l2.9 -1.3M170.9 390.1l2.9 -1.3M170.5 380.5l2.9 -1.3M170 370.9l5.5 -2.4M169.5 361.2l2.9 -1.3M169.1 351.5l2.9 -1.3M168.6 341.8l2.9 -1.3M168.1 332l5.5 -2.4M167.6 322.2l2.9 -1.3M167.2 312.4l2.9 -1.3M166.7 302.5l2.9 -1.3M166.2 292.6l5.5 -2.4M165.7 282.6l2.9 -1.3M165.2 272.7l2.9 -1.2M164.7 262.6l2.9 -1.2M164.2 252.6l5.5 -2.3M163.8 242.5l3 -1.2M163.3 232.4l3 -1.2M162.8 222.2l3 -1.2M162.3 212l5.5 -2.3M161.8 201.8l3 -1.2M161.3 191.6l3 -1.2M160.8 181.3l3 -1.2M160.3 170.9l5.6 -2.3M159.8 160.5l3 -1.2M159.2 150.1l3 -1.2M158.7 139.7l3 -1.2M158.2 129.2l5.6 -2.2M416.6 647l5.3 -2.7M410.1 642.2l2.8 -1.5M403.6 637.3l2.8 -1.5M397.2 632.5l2.8 -1.5M390.8 627.7l2.9 -1.5M384.4 623l5.3 -2.7M378.1 618.2l2.9 -1.4M371.7 613.4l2.9 -1.4M365.4 608.7l2.9 -1.4M359.1 604l2.9 -1.4M352.9 599.3l5.4 -2.7M346.6 594.6l2.9 -1.4M340.4 590l2.9 -1.4M334.2 585.3l2.9 -1.4M328 580.7l2.9 -1.4M321.9 576.1l5.4 -2.7M315.7 571.5l2.9 -1.4M309.6 566.9l2.9 -1.4M303.5 562.3l2.9 -1.4M297.5 557.8l2.9 -1.4M291.4 553.3l5.4 -2.6M285.4 548.7l2.9 -1.4M279.4 544.2l2.9 -1.4M273.4 539.7l2.9 -1.4M267.4 535.3l2.9 -1.4M261.5 530.8l5.4 -2.6M255.5 526.4l2.9 -1.4M249.6 522l2.9 -1.4M243.7 517.5l2.9 -1.4M237.9 513.1l2.9 -1.4M232 508.8l5.4 -2.6M226.2 504.4l2.9 -1.4M220.4 500l2.9 -1.4M214.6 495.7l2.9 -1.4M208.8 491.4l2.9 -1.4M203.1 487.1l5.4 -2.5M197.4 482.8l2.9 -1.3M191.7 478.5l2.9 -1.3M186 474.2l2.9 -1.3M180.3 470l2.9 -1.3M174.6 465.8l5.5 -2.5M416.6 647l-4.8 -3.6M429.6 640.3l-2.6 -1.9M442.5 633.6l-4.8 -3.6M455.5 627l-2.6 -1.9M468.3 620.3l-4.8 -3.5M481.1 613.8l-2.6 -1.9M493.8 607.2l-4.9 -3.5M506.4 600.7l-2.6 -1.9M519 594.2l-4.9 -3.5M531.5 587.7l-2.6 -1.9M544 581.3l-4.9 -3.5M556.4 574.9l-2.6 -1.8M568.8 568.5l-4.9 -3.4M581.1 562.2l-2.6 -1.8M593.3 555.9l-4.9 -3.4M605.5 549.6l-2.6 -1.8M617.6 543.4l-5 -3.4M629.6 537.2l-2.6 -1.8M641.6 531l-5 -3.4M653.6 524.8l-2.7 -1.8M665.4 518.7l-5 -3.3M677.3 512.6l-2.7 -1.8M689.1 506.5l-5 -3.3M700.8 500.5l-2.7 -1.8M712.4 494.5l-5 -3.3M694.2 503.9l-2.7 -1.8M699.8 501l-2.7 -1.8M704 498.8l-2.7 -1.8M708.2 496.6l-2.7 -1.8" stroke="#000" stroke-width="1.4" fill="none" stroke-linecap="square"/>
<text transform="translate(153.9,428.2) rotate(-22)" font-size="23" text-anchor="end" font-style="italic">1000</text>
<text transform="translate(150.1,351) rotate(-22)" font-size="23" text-anchor="end" font-style="italic">3000</text>
<text transform="translate(146.2,271.6) rotate(-22)" font-size="23" text-anchor="end" font-style="italic">5000</text>
<text transform="translate(142.3,189.9) rotate(-22)" font-size="23" text-anchor="end" font-style="italic">7000</text>
<text transform="translate(190.1,501.1) rotate(-33)" font-size="22" text-anchor="end">3000</text>
<text transform="translate(248.5,544.8) rotate(-33)" font-size="22" text-anchor="end">300</text>
<text transform="translate(308.9,590.1) rotate(-33)" font-size="22" text-anchor="end">30</text>
<text transform="translate(371.4,637) rotate(-33)" font-size="22" text-anchor="end">3</text>
<text transform="translate(469.3,653.3) rotate(-33)" font-size="22" text-anchor="middle">1</text>
<text transform="translate(594.3,588.9) rotate(-33)" font-size="22" text-anchor="middle">10</text>
<text transform="translate(708.1,530.2) rotate(-33)" font-size="22" text-anchor="middle">90</text></g>
<g id="pb"><path d="M1044.7 469.9L1028.2 130.7M1288.3 651.9L1044.7 469.9M1070.4 458.1L1055.5 119.9M1314.6 638.4L1070.4 458.1M1095.8 446.4L1082.5 109.1M1340.6 625L1095.8 446.4M1121 434.8L1109.3 98.5M1366.3 611.7L1121 434.8M1145.9 423.3L1135.8 87.9M1391.8 598.5L1145.9 423.3M1170.7 411.9L1162.1 77.5M1417.1 585.5L1170.7 411.9M1195.2 400.6L1188.1 67.1M1442.1 572.6L1195.2 400.6M1219.5 389.5L1213.8 56.9M1466.9 559.8L1219.5 389.5M1243.5 378.4L1239.3 46.7M1491.4 547.2L1243.5 378.4M1267.4 367.4L1264.6 36.7M1515.7 534.6L1267.4 367.4M1291 356.5L1289.7 26.7M1539.8 522.2L1291 356.5M1314.5 345.8L1314.5 16.9M1563.6 509.9L1314.5 345.8M1337.7 335.1L1339 7.1M1587.3 497.7L1337.7 335.1M1587.3 497.7L1604.2 156.4M1288.3 651.9L1587.3 497.7M1554.2 476.2L1569 136.5M1256 627.8L1554.2 476.2M1521.8 455.1L1534.4 117.1M1224.2 604L1521.8 455.1M1489.8 434.2L1500.4 97.9M1193 580.7L1489.8 434.2M1458.4 413.8L1467 79.1M1162.3 557.8L1458.4 413.8M1427.5 393.6L1434.2 60.7M1132.1 535.2L1427.5 393.6M1397.1 373.8L1401.9 42.5M1102.5 513.1L1397.1 373.8M1367.1 354.3L1370.2 24.6M1073.3 491.3L1367.1 354.3M1337.7 335.1L1339 7.1M1044.7 469.9L1337.7 335.1M1043.3 440.7L1337.8 306.7M1337.8 306.7L1588.7 468.4M1041.5 403.7L1337.9 270.9M1337.9 270.9L1590.6 431.2M1039.6 366.3L1338.1 234.7M1338.1 234.7L1592.4 393.5M1037.8 328.3L1338.2 197.9M1338.2 197.9L1594.3 355.3M1035.9 289.9L1338.4 160.8M1338.4 160.8L1596.2 316.6M1034 250.9L1338.5 123.1M1338.5 123.1L1598.2 277.4M1032.1 211.4L1338.7 84.9M1338.7 84.9L1600.1 237.6M1030.2 171.3L1338.9 46.3M1338.9 46.3L1602.1 197.3M1028.2 130.7L1339 7.1M1339 7.1L1604.2 156.4M1028.2 130.7L1339 7.1M1339 7.1L1604.2 156.4" stroke="#dcdcde" stroke-width="1.1" fill="none"/>
<path d="M1095.3 498.2 1097.2 499.3 1093.6 495.7 1082.9 485.8 1075.1 480.6 1064.8 475.2 1070.9 481.3 1078.2 487.5 1095.3 498.2Z" fill="#17733d" stroke="#17733d" stroke-width="0.6"/>
<path d="M1472.5 406.7 1475.6 407.7 1473.4 406.6 1449.5 395.9 1441.7 391.5 1433.9 385.5 1428.7 380.1 1424.1 374.3 1423.1 377.2 1422.8 380.2 1424.2 385.4 1427.3 389.8 1431.8 393.5 1437.6 396.7 1444.7 399.2 1472.5 406.7ZM1122.4 511.1 1115.3 499.2 1112.1 494.7 1106.1 488.5 1094.7 478.9 1086.9 473.7 1078 469 1064.8 463.4 1053.3 459.8 1058.5 467.7 1064.8 475.2 1075.1 480.6 1082.9 485.8 1087.5 489.6 1097.2 499.3 1105.1 503.5 1122.4 511.1Z" fill="#16793c" stroke="#16793c" stroke-width="0.6"/>
<path d="M1548.3 448.7 1551 449.2 1530.1 438.4 1497.5 418.8 1475.6 407.7 1444.7 399.2 1437.6 396.7 1431.8 393.5 1427.3 389.8 1424.2 385.4 1422.8 380.2 1423.1 377.2 1424.1 374.3 1416.4 362.2 1414.7 364.4 1412.2 369.5 1411.5 372.8 1411.3 375.8 1412 381.3 1413.9 386.3 1416.8 390.8 1423.2 396.6 1428.9 399.8 1435.7 402.5 1463.8 409.9 1478.4 414.9 1490.9 421.1 1512.7 435 1521.4 440 1528 443 1534.4 445.3 1548.3 448.7ZM1175.8 543.6 1178.1 545.2 1159.7 529.2 1153.4 522.9 1147.7 516.3 1125.2 487.3 1119 481.1 1112 475.5 1098.8 466.8 1083.3 459.2 1061.7 451.7 1047.9 448.8 1053.3 459.8 1064.8 463.4 1081.1 470.5 1089.6 475.4 1099.4 482.7 1106.1 488.5 1112.1 494.7 1122.7 511.3 1137.4 518.7 1147.6 524.4 1157.8 530.9 1175.8 543.6Z" fill="#187e3c" stroke="#187e3c" stroke-width="0.6"/>
<path d="M1568.4 460.3 1577.1 458.5 1563.4 454.5 1551 449.2 1535.5 445.6 1524.6 441.6 1515.5 436.7 1490.9 421.1 1481.7 416.4 1475 413.6 1464.5 410.1 1435.7 402.5 1428.9 399.8 1423.2 396.6 1416.8 390.8 1413.9 386.3 1412 381.3 1411.3 375.8 1412.2 369.6 1413.8 366 1416.4 362.2 1410.8 351.5 1406.6 356.6 1403 364.1 1401.6 370.5 1401.3 376.5 1402.4 384.7 1405.2 392.3 1408.1 396.8 1411.9 400.9 1416.9 404.5 1423.2 407.5 1430.8 409.8 1456.3 414.5 1465.1 417.5 1470.4 421 1474.9 424.9 1488.7 439.9 1495.3 446 1503.3 451.5 1513.1 456.1 1529.6 460.6 1539.3 462.1 1551.5 462.4 1568.4 460.3ZM1404.6 539.9 1416.8 535.8 1426.4 531 1434.2 525.1 1438 520.2 1439.4 515.7 1439.1 512.6 1437.8 510 1435.7 507.8 1433 505.9 1425.7 503 1415.8 501.5 1409.5 501.4 1400.7 502.1 1388.1 504.7 1353.2 514.4 1344.6 516.1 1330.4 517.5 1284.5 518.2 1240.4 519.6 1223.2 518.9 1208.3 517.3 1195.2 514.5 1187 511.9 1180 509 1170.6 504.2 1157.3 495.1 1139.9 479 1130.4 471.5 1116.9 462.9 1101.9 455.1 1088.4 449.6 1069.5 443.7 1057.1 440.7 1043.9 439 1047.9 448.8 1061.7 451.7 1083.3 459.2 1098.8 466.8 1112 475.5 1119 481.1 1125.2 487.3 1147.7 516.3 1153.4 522.9 1159.7 529.2 1178.1 545.2 1225.7 578.6 1266.4 603.3 1269 601 1275.5 597.6 1294.5 590.9 1308.4 584.7 1320.8 577.4 1346.7 560.1 1359.2 553.3 1373.5 547.8 1404.6 539.9Z" fill="#1b843c" stroke="#1b843c" stroke-width="0.6"/>
<path d="M1288.1 615.9 1304.8 607 1438.2 541.1 1543.8 485.6 1574.1 469 1589.1 461.7 1577.1 458.5 1564.7 460.9 1555.8 462 1545.8 462.5 1539.3 462.1 1529.6 460.6 1513.1 456.1 1503.3 451.5 1495.3 446 1488.7 439.9 1474.9 424.9 1470.4 421 1465.1 417.5 1456.3 414.5 1435.1 410.8 1426.9 408.7 1419.9 406.1 1414.3 402.8 1409.9 398.9 1405.2 392.3 1403.1 387.3 1401.5 379.3 1401.6 370.5 1403 364.1 1406.6 356.6 1410.8 351.5 1406.2 341.5 1402.3 345.5 1398.7 350.5 1396.3 354.9 1393.6 361.5 1390.7 374.5 1387.8 400.2 1385.5 409.1 1384.4 411.8 1381.3 416.8 1374.8 423 1369.5 426.5 1363.5 429.6 1349.8 434.6 1338.1 437.5 1317.4 441.5 1302.4 445.8 1292.7 450.2 1271.6 461.6 1259 467.8 1245.3 473.3 1230.2 477.9 1217.5 480.4 1203 481.4 1191.5 480.8 1182.1 479.1 1175.2 477.1 1167.2 474 1127.4 453.7 1114.4 447.8 1100.7 442.4 1089.5 438.9 1069.3 433.6 1056 431 1046.1 429.8 1043.1 436.9 1043.9 439 1057.1 440.7 1073.4 444.8 1092 450.9 1105.1 456.6 1119.7 464.5 1130.4 471.5 1139.9 479 1155 493.2 1168.4 502.8 1176.7 507.5 1185.3 511.2 1195.2 514.5 1203.3 516.4 1217 518.4 1240.4 519.6 1284.5 518.2 1331.7 517.5 1344.6 516.1 1353.2 514.4 1391.9 503.7 1400.7 502.1 1409.5 501.4 1416 501.5 1425.7 503 1433 505.9 1435.7 507.8 1437.8 510 1439.1 512.6 1439.4 515.7 1438.4 519.5 1434.2 525.1 1429.2 529.2 1423.4 532.7 1416.8 535.8 1409.6 538.4 1377.4 546.7 1362.6 551.8 1355.9 554.9 1346.7 560.1 1320.8 577.4 1308.4 584.7 1294.5 590.9 1275.5 597.6 1269 601 1266.4 603.3 1288.1 615.9Z" fill="#1d893c" stroke="#1d893c" stroke-width="0.6"/>
<path d="M1357.4 432 1366.6 428.1 1374.8 423 1381.3 416.8 1384.4 411.8 1386.4 406.2 1387.8 400.2 1390.7 374.5 1393.6 361.5 1396.3 354.9 1398.7 350.5 1402.3 345.5 1406.2 341.5 1402.2 331.8 1394.7 339.6 1389.3 347.8 1385.7 355.3 1377.4 375.8 1371.8 385.9 1366.4 392.7 1362 396.7 1357 400.4 1348.5 405.2 1335.4 410.6 1324.5 413.9 1297.6 420.8 1290.4 423.1 1280.7 427.4 1250.3 443.2 1236.8 448.8 1225.8 452.3 1213.6 455.1 1199.8 456.7 1189.1 456.7 1176.3 455.3 1168.7 453.7 1156.9 450.4 1113.3 435.1 1098.1 430.5 1073 424.6 1054.7 421.4 1049.7 420.8 1046.1 429.8 1056 431 1069.3 433.6 1097.1 441.2 1111.1 446.4 1124.2 452.2 1139.8 459.8 1162.2 471.6 1170.6 475.4 1178 478 1186.6 480 1196.9 481.3 1202.8 481.4 1212.9 480.9 1221.9 479.7 1238 475.7 1248.9 472 1259 467.8 1271.6 461.6 1292.7 450.2 1305.9 444.6 1319.8 440.9 1346 435.7 1357.4 432Z" fill="#228f3c" stroke="#228f3c" stroke-width="0.6"/>
<path d="M1342.2 408 1351.5 403.7 1359.6 398.6 1366.4 392.7 1371.8 385.9 1377.4 375.8 1385.7 355.3 1389.3 347.8 1394.7 339.6 1402.2 331.8 1398.4 322.3 1392.3 328.1 1385.3 336.9 1371.3 361.3 1364.9 370.7 1356.9 379.2 1347 386.5 1338.4 391.3 1325.4 396.7 1314.8 400.2 1288.5 407.4 1281.4 409.8 1246.3 425.9 1236.1 429.9 1225.2 433.4 1213.3 436.3 1200 438.3 1185.2 438.8 1172.7 437.9 1164.2 436.7 1151 433.9 1111 423 1094.4 419 1072.2 414.7 1053.3 411.8 1049.7 420.8 1073 424.6 1098.1 430.5 1113.3 435.1 1153.2 449.2 1168.7 453.7 1183 456.2 1189.1 456.7 1199.8 456.7 1209.2 455.8 1217.8 454.3 1233.3 450 1243.7 446.1 1253.5 441.7 1280.7 427.4 1290.4 423.1 1297.6 420.8 1328.3 412.9 1342.2 408Z" fill="#2a963c" stroke="#2a963c" stroke-width="0.6"/>
<path d="M1327.6 395.9 1338.4 391.3 1349.7 384.8 1359.1 377.2 1364.9 370.7 1371.3 361.3 1385.3 336.9 1392.3 328.1 1398.4 322.3 1395 312.9 1388.7 318.7 1382.7 325.4 1376.4 334 1365.5 350.3 1358.4 359.2 1349.9 367.4 1339.8 374.5 1331.1 379.2 1318.3 384.7 1278.8 397.2 1242.1 412 1224 418 1207.9 421.7 1194.4 423.4 1178.9 423.8 1167.2 423.1 1146.8 420.1 1089.9 408 1056.9 402.8 1053.3 411.8 1076.8 415.5 1098.7 420 1142.8 431.9 1159.7 435.8 1178.9 438.5 1195.2 438.7 1204.6 437.8 1213.3 436.3 1228.9 432.3 1249.6 424.5 1281.4 409.8 1288.5 407.4 1314.8 400.2 1327.6 395.9Z" fill="#339d3c" stroke="#339d3c" stroke-width="0.6"/>
<path d="M1314 386.2 1324.9 382.1 1337 376.2 1347.5 369.3 1356.4 361.4 1363.8 352.6 1382.7 325.4 1388.7 318.7 1395 312.9 1391.8 303.8 1385.3 309.4 1377.6 317.6 1362.3 337.7 1352.9 348.5 1344.1 356.4 1333.9 363.4 1322.1 369.5 1309.1 374.9 1273.7 386.5 1242.8 398 1228.4 402.8 1212.8 406.8 1200 409 1185.8 410.3 1169.8 410.3 1157.8 409.3 1144.7 407.6 1094.1 398.7 1060.5 393.8 1056.9 402.8 1094.4 408.8 1139.4 418.6 1155.5 421.6 1173.2 423.6 1184.3 423.9 1194.4 423.4 1212.1 420.9 1227.8 416.9 1245.5 410.7 1278.8 397.2 1314 386.2Z" fill="#3ba43c" stroke="#3ba43c" stroke-width="0.6"/>
<path d="M1317.1 371.7 1328.1 366.6 1339.2 360 1346.5 354.5 1354.9 346.4 1362.3 337.7 1377.6 317.6 1385.3 309.4 1391.8 303.8 1388.7 294.6 1382.1 300.2 1376.1 306.2 1356.1 329.8 1348.2 338.2 1339.1 345.9 1328.7 352.8 1317 358.9 1300.7 365.5 1230.1 389.4 1214.6 393.4 1197.6 396.4 1183.5 397.7 1167.7 397.9 1143.6 396 1064.3 384.7 1060.5 393.8 1094.1 398.7 1151.4 408.6 1169.8 410.3 1180.7 410.4 1190.7 410 1208.7 407.6 1228.4 402.8 1242.8 398 1273.7 386.5 1302.2 377.3 1317.1 371.7Z" fill="#49a93a" stroke="#49a93a" stroke-width="0.6"/>
<path d="M1310.1 361.9 1320 357.5 1331.5 351.2 1341.5 344 1350.3 336.1 1358 327.7 1376.1 306.2 1382.1 300.2 1388.7 294.6 1385.7 285.5 1372.8 296.9 1354.1 317.9 1346 326.2 1337 333.9 1326.9 340.9 1315.4 347.2 1299.5 354.1 1282.4 360.2 1236.1 375.5 1221 379.7 1204.7 383.1 1186.8 385.4 1171.7 386.1 1155.1 385.7 1136.9 384.1 1068.3 375.5 1064.3 384.7 1150 396.7 1173.2 398 1193.1 397 1210.5 394.3 1230.1 389.4 1293.8 368 1310.1 361.9Z" fill="#59ad37" stroke="#59ad37" stroke-width="0.6"/>
<path d="M1295.6 355.5 1312.4 348.7 1324.1 342.6 1334.6 335.7 1343.9 328.2 1352.1 320 1372.8 296.9 1385.7 285.5 1382.5 276.4 1369.7 287.7 1350.4 308.4 1342.1 316.4 1333 324 1322.7 330.9 1311.2 337.2 1295.4 344.1 1274.8 351.4 1246.3 360.7 1227.8 366.2 1207.9 370.7 1190.4 373.4 1170.9 374.7 1154.7 374.5 1137.1 373.4 1072.4 366.3 1068.3 375.5 1130.6 383.4 1149.2 385.3 1166.4 386.1 1186.8 385.4 1208.9 382.3 1228.7 377.6 1250.6 370.8 1295.6 355.5Z" fill="#68b134" stroke="#68b134" stroke-width="0.6"/>
<path d="M1279.8 349.7 1298.7 342.8 1314.2 335.7 1325.4 329.3 1337.7 320.3 1348.4 310.4 1369.7 287.7 1382.5 276.4 1379.3 267.2 1366.7 278.6 1340.7 304.9 1331.6 312.5 1324.1 317.8 1313.2 324.3 1298 331.6 1281.4 338 1260.4 345.1 1238.5 351.8 1219.4 356.9 1203 360.2 1189.8 362.1 1170.5 363.5 1149 363.4 1119.4 361.3 1076.6 357 1072.4 366.3 1124.7 372.2 1143.1 373.9 1165.7 374.7 1185.7 373.8 1203.7 371.5 1223.9 367.2 1246.3 360.7 1279.8 349.7Z" fill="#77b531" stroke="#77b531" stroke-width="0.6"/>
<path d="M1291.4 334.3 1307.3 327.4 1318.8 321.2 1329.2 314.3 1340.7 304.9 1366.7 278.6 1379.3 267.2 1376.1 258 1364.6 268.6 1341.6 291.6 1332.8 299.3 1323.1 306.5 1312.3 313.1 1297.4 320.5 1281.1 327.1 1263.8 333.1 1238.3 340.9 1219.1 345.8 1198.3 349.8 1180.1 351.9 1160 352.8 1138 352.3 1108.4 350.2 1081 347.6 1076.6 357 1119.4 361.3 1149 363.4 1170.5 363.5 1189.8 362.1 1211.4 358.6 1231 353.9 1263.9 344 1291.4 334.3Z" fill="#86b92d" stroke="#86b92d" stroke-width="0.6"/>
<path d="M1269.6 331.2 1291.1 323.3 1306.6 316.2 1320.5 308.2 1332.8 299.3 1343.7 289.6 1363.7 269.5 1376.1 258 1372.9 248.8 1338.4 282.3 1329.4 289.9 1322.2 295.3 1308.8 303.6 1297 309.6 1284.3 315 1267.3 321.2 1242 329 1219 334.9 1198.3 338.8 1181 340.9 1160.2 342 1138.6 341.8 1115.6 340.6 1085.5 338.2 1081 347.6 1108.4 350.2 1138 352.3 1160 352.8 1180.1 351.9 1198.3 349.8 1219.1 345.8 1242 339.8 1269.6 331.2Z" fill="#96bd29" stroke="#96bd29" stroke-width="0.6"/>
<path d="M1276.1 318.1 1290.7 312.3 1306 305.1 1319.6 297 1331.8 288 1342.6 278.4 1372.9 248.8 1369.9 239.6 1337.5 271.2 1328.6 278.7 1318.9 285.9 1308.3 292.5 1296.7 298.6 1284.1 304.2 1267.3 310.4 1245.8 317.2 1223 323.2 1202.6 327.4 1184.9 329.8 1165.6 331.2 1144.8 331.5 1116.7 330.5 1090.2 328.6 1085.5 338.2 1115.6 340.6 1144.2 342 1165.4 341.9 1184.7 340.6 1206.7 337.4 1226.9 333.1 1253 325.7 1276.1 318.1Z" fill="#a5c224" stroke="#a5c224" stroke-width="0.6"/>
<path d="M1287.7 302.7 1302.6 295.7 1316.3 287.6 1328.6 278.7 1339.6 269.2 1369.9 239.6 1366.9 230.5 1338.9 258.2 1327.9 267.7 1318.3 274.9 1307.8 281.6 1296.4 287.8 1284 293.4 1267.4 299.8 1246.1 306.6 1223.3 312.6 1202.8 316.7 1185.1 319.1 1166 320.6 1145.5 321.1 1123.5 320.7 1095 319 1090.2 328.6 1122.5 330.8 1150.2 331.6 1170.6 331 1193.9 328.7 1215 325 1238.4 319.3 1263.8 311.6 1287.7 302.7Z" fill="#b8ca24" stroke="#b8ca24" stroke-width="0.6"/>
<path d="M1258.5 302.8 1277.5 296 1296.4 287.8 1310.5 280 1325.6 269.5 1341 256.2 1366.9 230.5 1364.1 221.6 1338.2 247.2 1327.3 256.7 1317.8 263.9 1307.4 270.7 1296.2 276.9 1284 282.7 1267.6 289.1 1246.4 296 1227.5 301.1 1207.4 305.3 1190 308 1171.4 309.8 1147.7 310.7 1124.5 310.5 1100.2 309.3 1095 319 1117.8 320.4 1140.1 321.1 1161 320.8 1180.5 319.6 1198.5 317.4 1219.3 313.5 1238.6 308.7 1258.5 302.8Z" fill="#cdd425" stroke="#cdd425" stroke-width="0.6"/>
<path d="M1261.4 291.3 1280.8 284 1296.2 276.9 1310.1 269 1325 258.5 1342.4 243.3 1364.1 221.6 1361.6 212.7 1335.5 238.2 1324.4 247.6 1314.8 254.7 1304.4 261.4 1293.1 267.6 1280.9 273.3 1267.8 278.5 1246.7 285.5 1227.9 290.5 1207.8 294.8 1190.5 297.5 1172 299.3 1152.1 300.3 1128.8 300.4 1105.5 299.4 1100.2 309.3 1124.5 310.5 1146.2 310.7 1166.5 310.1 1185.5 308.5 1203.1 306.1 1223.6 302 1242.7 297.1 1261.4 291.3Z" fill="#e2df27" stroke="#e2df27" stroke-width="0.6"/>
<path d="M1264.5 279.7 1280.9 273.3 1296 266.1 1309.8 258.2 1324.4 247.6 1339.7 234.3 1361.6 212.7 1359.3 204 1332.8 229.2 1324 236.7 1314.5 243.9 1304.2 250.6 1293.1 256.9 1281 262.7 1268.1 267.9 1250.8 273.9 1232.3 279.1 1212.5 283.5 1194.1 286.6 1176.9 288.5 1154.9 289.8 1131.8 290.1 1111 289.5 1105.5 299.4 1128.8 300.4 1152.1 300.3 1172 299.3 1190.5 297.5 1207.8 294.8 1227.9 290.5 1246.7 285.5 1264.5 279.7Z" fill="#f5e628" stroke="#f5e628" stroke-width="0.6"/>
<path d="M1268.4 267.8 1284.1 261.3 1298.7 253.8 1312 245.6 1326.3 234.9 1337.1 225.4 1354.7 208 1359.3 204 1357.1 195.4 1350.6 200.9 1330.2 220.3 1321.3 227.7 1311.7 234.8 1301.3 241.5 1290.1 247.7 1281.1 252 1268.3 257.4 1251.2 263.4 1232.8 268.6 1213.1 273.1 1196.1 276 1178 278.1 1158.6 279.3 1138 279.8 1116.6 279.6 1111 289.5 1131.8 290.1 1154.9 289.8 1176.9 288.5 1194.1 286.6 1212.5 283.5 1232.3 279.1 1250.8 273.9 1268.4 267.8Z" fill="#f3cd25" stroke="#f3cd25" stroke-width="0.6"/>
<path d="M1277.2 253.8 1290.1 247.7 1304 239.8 1316.6 231.3 1328.1 222.2 1352.7 199 1357.1 195.4 1354.9 186.8 1348.3 192.2 1327.7 211.4 1311.5 224 1301.2 230.7 1290.1 237 1281.3 241.4 1268.6 246.8 1255.1 251.7 1237.1 257.2 1217.8 261.9 1201.1 264.9 1183.4 267.3 1164.3 268.8 1144.1 269.5 1122.4 269.5 1116.6 279.6 1138 279.8 1163.6 279.1 1182.7 277.6 1200.5 275.3 1221.1 271.4 1240.3 266.6 1258.2 261 1277.2 253.8Z" fill="#f2b522" stroke="#f2b522" stroke-width="0.6"/>
<path d="M1244.7 255 1265.3 248.1 1281.3 241.4 1295.8 233.9 1311.5 224 1327.7 211.4 1348.3 192.2 1354.9 186.8 1352.7 178.1 1346.1 183.5 1322.9 204.3 1306.3 216.7 1295.7 223.2 1284.4 229.3 1272.1 234.9 1259 240 1245 244.6 1230.2 248.8 1214.4 252.3 1197.5 255.2 1179.5 257.4 1165.1 258.4 1128.7 259.3 1122.4 269.5 1155.1 269.2 1178.7 267.7 1201.1 264.9 1221.7 261 1244.7 255Z" fill="#f19d1f" stroke="#f19d1f" stroke-width="0.6"/>
<path d="M1245.2 244.6 1265.7 237.5 1281.4 230.8 1295.7 223.2 1311.2 213.3 1325.2 202.5 1346.1 183.5 1352.7 178.1 1350.6 169.5 1320.4 195.4 1303.6 207.6 1293 214.1 1281.6 220.2 1269.2 225.7 1259.4 229.5 1245.5 234.2 1230.8 238.4 1215.1 241.9 1202.6 244.2 1185.3 246.6 1170.9 247.8 1135.2 248.9 1128.7 259.3 1160.2 258.7 1184.1 256.9 1204.1 254.2 1226.3 249.7 1245.2 244.6Z" fill="#ee821f" stroke="#ee821f" stroke-width="0.6"/>
<path d="M1245.7 234.2 1266 227 1281.6 220.2 1295.7 212.5 1311.1 202.5 1322.7 193.6 1342.4 176.2 1350.6 169.5 1348.6 160.9 1320.2 184.7 1303.5 196.9 1293 203.5 1281.7 209.5 1269.5 215.2 1259.8 219 1246.1 223.8 1231.4 228 1215.8 231.6 1203.4 233.9 1185.8 236.3 1171.7 237.6 1141.7 238.6 1135.2 248.9 1161 248.4 1185 246.6 1203.9 244 1226.9 239.3 1245.7 234.2Z" fill="#eb6422" stroke="#eb6422" stroke-width="0.6"/>
<path d="M1246.1 223.7 1263.1 217.8 1278.7 211 1293 203.5 1308.5 193.5 1320.2 184.7 1348.6 160.9 1346.5 152.3 1317.7 175.8 1300.9 187.9 1281.8 198.9 1269.8 204.6 1260.2 208.5 1246.6 213.3 1235.8 216.6 1220.5 220.4 1208.3 222.8 1193.7 225.1 1177.4 226.9 1148.2 228.2 1141.7 238.6 1161.9 238.1 1181.2 236.8 1203.7 233.8 1223.7 229.8 1246.1 223.7Z" fill="#e84725" stroke="#e84725" stroke-width="0.6"/>
<path d="M1246.6 213.3 1263.5 207.3 1278.9 200.4 1293 192.8 1308.4 182.8 1320 174 1346.5 152.3 1344.3 143.6 1315.3 166.9 1300.8 177.2 1282 188.3 1270.1 194 1260.6 198 1247.2 202.8 1236.4 206.1 1221.2 210 1209.1 212.5 1182.9 216.2 1154.7 217.9 1148.2 228.2 1162.8 227.8 1184.8 226.2 1204.2 223.5 1224.4 219.5 1246.6 213.3Z" fill="#e42928" stroke="#e42928" stroke-width="0.6"/>
<path d="M1247.2 202.8 1263.8 196.7 1279.1 189.8 1293 182.1 1308.2 172.1 1344.3 143.6 1342 134.9 1312.8 158 1298.2 168.2 1279.2 179.2 1260.9 187.5 1248.1 192.2 1237 195.7 1213.9 201.3 1188.3 205.4 1161.4 207.5 1154.7 217.9 1168.7 217.3 1187.5 215.7 1209.1 212.5 1228.9 208.1 1247.2 202.8Z" fill="#da2425" stroke="#da2425" stroke-width="0.6"/>
<path d="M1248.1 192.2 1264.1 186.2 1279.2 179.2 1293.1 171.5 1308.1 161.5 1342 134.9 1339.5 126 1312.7 147.3 1298.2 157.5 1279.4 168.5 1261.3 176.9 1241.1 184.2 1218.6 190.1 1193.6 194.5 1168.4 196.9 1161.4 207.5 1168.6 207.1 1188.3 205.4 1209.9 202.1 1229.5 197.8 1248.1 192.2Z" fill="#cf2023" stroke="#cf2023" stroke-width="0.6"/>
<path d="M1249.4 181.4 1261.3 176.9 1273.5 171.5 1285 165.5 1298.2 157.5 1312.7 147.3 1339.5 126 1338.5 122.6 1333.2 120.2 1310.3 138.4 1293 150.1 1273.7 160.8 1255.1 169 1234.4 175.9 1215.3 180.6 1194.4 184.2 1176 186.1 1168.4 196.9 1170.4 196.8 1192.9 194.6 1210.6 191.8 1230.2 187.3 1249.4 181.4Z" fill="#c51c20" stroke="#c51c20" stroke-width="0.6"/>
<path d="M1251.7 170.2 1261.5 166.4 1273.7 160.8 1293 150.1 1310.3 138.4 1333.2 120.2 1324.3 116.6 1305.4 131.1 1287.7 142.6 1267.9 153 1248.9 160.9 1231.3 166.4 1215.9 170.2 1199.4 173.2 1184.1 175.1 1176 186.1 1194.4 184.2 1215.3 180.6 1234.4 175.9 1251.7 170.2Z" fill="#b9191d" stroke="#b9191d" stroke-width="0.6"/>
<path d="M1228 167.3 1238.5 164.3 1252.2 159.7 1264.9 154.4 1276.7 148.7 1287.7 142.6 1300.5 134.5 1310.1 127.7 1324.3 116.6 1314.9 113 1300.4 123.8 1287.7 131.9 1273.9 139.5 1258.8 146.5 1242.4 152.7 1228.1 157 1212.5 160.5 1192.8 163.8 1184.1 175.1 1203.7 172.5 1228 167.3Z" fill="#ac191c" stroke="#ac191c" stroke-width="0.6"/>
<path d="M1228.5 156.8 1238.9 153.8 1252.4 149.1 1273.9 139.5 1285 133.5 1295.4 127.1 1314.9 113 1304.6 109.8 1295.2 116.3 1282.2 124.3 1268.1 131.7 1255.8 137.1 1242.7 142.1 1229.6 146.2 1217 149.2 1203 151.9 1192.8 163.8 1212.5 160.5 1228.5 156.8Z" fill="#9e191b" stroke="#9e191b" stroke-width="0.6"/>
<path d="M1229.6 146.2 1249.4 139.7 1268.1 131.7 1287.5 121.2 1304.6 109.8 1292 107.5 1273.8 118.1 1255.9 126.5 1236.1 133.7 1215.4 139.1 1203 151.9 1217 149.2 1229.6 146.2Z" fill="#91191a" stroke="#91191a" stroke-width="0.6"/>
<path d="M1231.3 135.2 1246.3 130.2 1262.1 123.8 1276.6 116.6 1292 107.5 1283.2 107.2 1271.6 108.3 1252.8 117 1234.4 123.6 1223.4 131.9 1215.4 139.1 1231.3 135.2Z" fill="#891919" stroke="#891919" stroke-width="0.6"/>
<path d="M1234.4 123.6 1252.8 117 1271.6 108.3 1264.4 109.8 1255 112.8 1245.5 117.2 1234.4 123.6Z" fill="#851919" stroke="#851919" stroke-width="0.6"/>
<path d="M1288.1 615.9 1263.4 601.5 1228.4 580.3 1160.3 532.7 1147.6 524.4 1137.4 518.7 1122.4 511.1 1102.7 502.4 1085.5 492.4 1078.2 487.5 1073.3 483.5 1065.9 476.4 1061 470.9 1056 464.2 1050.9 455.3 1048.4 449.9 1043.1 436.9M1288.1 615.9 1304.8 607 1344.6 587.7 1438.2 541.1 1543.8 485.6 1574.1 469 1589.1 461.7M1304.8 607 1272 588.5 1250.4 574.5 1234.3 563.3 1210.5 545.8 1174.1 517.4 1161.3 507.9 1146.1 497.8 1118.6 481.7 1108.7 474.8 1101.2 468.9 1093.8 462.1 1088.8 456.7 1083.8 450.2 1078.8 442.7 1073.7 434 1068.5 423.8 1058.1 399.8M1274.3 607.9 1284.4 602.5 1317.6 586.3 1369.8 559.8 1424.2 533.2 1493 496.2 1520.6 482 1550.9 467.4 1574.7 458M1321.5 598.9 1294 583.7 1285.8 578.8 1269.6 567.7 1250.8 554.1 1221.7 531.7 1172.4 490.6 1142 467.3 1127 454.2 1119.4 446.6 1111.9 437.7 1106.8 431 1101.7 423.2 1096.6 414.3 1088.9 399.2 1073.2 364.5M1260.7 599.9 1294 583.7 1359.3 549.7 1413.5 523.4 1469.8 492.1 1500.6 476.2 1518.8 467.6 1530.8 462.7 1542.8 458.6 1560.6 453.4M1338 590.9 1310.4 575 1296.8 566.4 1275.3 551.1 1251.3 532.8 1230.2 515.6 1209.3 497.4 1175.8 466.7 1158 449.2 1147.8 438 1137.7 425.3 1130 414.3 1122.3 402 1109.4 377.6 1088.5 331.9M1247.2 591.8 1280.4 575.2 1342.4 542.4 1399.8 513.9 1452.9 484.2 1480.6 469.9 1495.9 462.8 1511 456.8 1522.9 453 1546.6 447M1354.4 582.8 1326.8 566.4 1310.5 555.8 1291.6 542.3 1267.6 523.9 1246.5 506.5 1225.6 487.9 1207.4 470.4 1191.9 453.9 1179.1 438.8 1168.8 425.4 1158.6 410.5 1148.3 393.8 1140.5 379.9 1130.1 359.5 1104 302.2M1233.7 583.7 1247 576.3 1315.9 539.6 1383 504.8 1439.3 474.3 1463.9 461.7 1482.2 453.5 1497.2 448.1 1512.2 444.1 1532.8 439.9M1370.7 574.6 1345.8 559.6 1326.7 547.2 1307.8 533.6 1283.8 515.1 1262.6 497.9 1244.3 481.7 1228.7 466.3 1215.7 451.8 1202.8 435.4 1192.5 420.7 1182.2 404.3 1171.8 386.2 1161.4 366.4 1151 344.9 1119.5 274.4M1220.4 575 1233.7 567.1 1250.2 557.8 1363.2 497 1422.6 465.8 1450.3 451.9 1468.5 443.8 1483.6 438.6 1498.5 435.1 1519.2 431.8M1387 566.5 1362 551.5 1342.9 538.8 1321.2 523 1294.5 502.2 1273.4 485.1 1257.7 471.2 1244.7 457.9 1234.4 445.7 1224 431.8 1213.6 415.9 1203.2 398 1192.8 378.3 1182.4 356.9 1172 334 1135.2 248.9M1207.2 565.7 1223.7 555.5 1246.8 542.4 1356.1 482.5 1371.8 474.3 1436.8 442.3 1458.1 432.9 1473.1 427.9 1485 425.6 1505.6 423.6M1403.1 558.5 1378.1 543.6 1358.9 530.7 1340 516.6 1292 479.1 1278.9 468.2 1268.5 458.5 1258.1 447.3 1250.3 437.6 1239.9 422.5 1232.1 409.5 1221.7 390.1 1211.3 368.4 1193 326.6 1150.9 223.9M1194 556.5 1210.5 545.8 1240.1 528.3 1307.9 491.4 1345.9 470 1417.3 435.9 1441.6 425 1450.7 421.5 1459.7 418.6 1468.6 417 1492.1 415.9M1419.1 550.7 1394.1 535.9 1377.6 524.9 1361.3 512.5 1326.4 484.6 1300 464.7 1289.6 456 1281.8 448.7 1274 440.3 1266.2 430.4 1258.4 418.7 1248 400.2 1240.2 384.3 1229.8 361 1211.4 315.8 1179.8 233.1 1166.6 199.6M1181 547.3 1194.2 537.9 1207.3 529.3 1223.7 519.4 1243.2 508.3 1335.8 459.1 1388.6 433.7 1403.9 426.8 1419.2 420.5 1431.3 416.1 1440.3 413.4 1449.2 411.4 1455.2 410.6 1478.7 409.2M1435 542.7 1409.9 528.3 1396.2 519.1 1379.9 506.4 1342.3 475.6 1310.6 452.6 1300.1 443.8 1292.3 436 1284.5 426.9 1279.4 419.7 1274.2 411.4 1266.4 396.7 1258.6 380 1248.2 355.3 1232.4 314.5 1198.2 219.5 1182.3 177.4M1168 538.1 1181.2 527.9 1197.6 516.4 1213.9 506.2 1230.1 496.9 1259.2 481.6 1306.9 457.8 1353.8 433.8 1372.3 424.9 1384.6 419.5 1396.8 414.8 1408.9 410.9 1418 408.6 1427 406.8 1435.9 405.5 1465.4 402.9M1450.8 534.5 1428.5 521.7 1414.7 512.8 1398.3 500.3 1358 467.4 1326.3 444.6 1315.8 435.6 1308 427.7 1300.2 418.3 1295 410.8 1289.8 402.2 1282.1 387 1274.3 369.6 1263.9 343.9 1248.2 301.2 1214 201.4 1198.1 157.4M1155.2 529.2 1168.3 518 1184.6 505.7 1200.9 494.7 1220.4 483.1 1236.5 474.2 1252.5 466.1 1303.3 442.2 1343.8 420.2 1359.2 412.6 1371.5 407.6 1380.6 404.5 1389.8 402.1 1398.8 400.3 1413.8 398.6 1440.4 398 1452.2 397.1M1466.5 526.4 1444.2 513 1427.7 501.9 1414 491.6 1379 464 1344.5 438.6 1334 429.5 1326.2 421.4 1318.4 411.9 1313.2 404.5 1305.4 391.6 1297.7 376.4 1289.9 359.1 1279.5 333.2 1263.9 289.5 1227.1 178.2 1213.9 140.6M1142.5 521.4 1158.8 506.1 1175 492.6 1191.2 480.9 1210.6 468.4 1226.7 458.9 1242.7 450.4 1293.4 426.9 1302.8 421.6 1327.7 406.3 1337 401.2 1346.2 396.8 1355.4 393.2 1364.6 390.4 1373.7 388.4 1382.8 387.2 1397.8 387 1427.4 389.8 1433.2 390 1439.1 389.7M1482.2 518.1 1459.8 504.3 1443.3 493.1 1362.6 432.9 1352.1 423.8 1344.3 415.7 1336.5 406.3 1328.7 395.3 1318.4 377.4 1310.6 361.6 1302.9 343.8 1292.5 317.2 1276.9 272.4 1242.9 165.9 1229.7 126.9M1129.9 514.9 1149.3 494.5 1162.2 482.5 1184.9 464 1207.4 447.7 1223.4 437.4 1239.3 428.2 1252.1 421.8 1280.5 408.2 1311.6 387.6 1320.9 382.2 1330.2 377.6 1339.4 373.9 1348.6 371.3 1357.8 369.6 1369.9 368.9 1378.9 369.4 1387.9 370.7 1411.5 375.9 1417.4 376.8 1426.2 377.1M1497.7 509.8 1478.1 497.6 1458.8 484.5 1380.7 427.7 1370.1 418.9 1359.7 408.4 1351.9 399 1344.1 388 1333.8 370.3 1326.1 354.8 1315.8 330.9 1305.5 303.7 1290 257.8 1258.7 157.2 1245.5 117.2M1117.5 508.8 1140 483.4 1159.2 463.3 1181.7 442 1200.9 425.6 1213.6 415.9 1229.5 404.9 1264.3 383.8 1295.6 363.1 1308 355.9 1320.4 350.2 1329.6 347.2 1338.8 345.3 1351 344.5 1360.1 345.1 1369.1 346.6 1378.1 348.8 1401.8 355.7 1407.6 356.8 1413.5 357M1513.2 501.6 1493.6 489.4 1474.2 476.4 1430.7 445.2 1401.3 424.9 1390.7 417.1 1380.2 408 1372.4 399.9 1364.6 390.4 1356.8 379.1 1346.5 361.2 1338.8 345.3 1331.2 327.4 1320.9 300.6 1313.2 278.3 1302.9 246.4 1274.4 152 1261.3 110.7M1105.1 503.5 1137 463.2 1156.1 440 1175.2 418.5 1191.1 402.2 1210.2 384.8 1229.2 369.4 1263.9 343.9 1276.4 335.2 1285.8 329.3 1298.2 322.6 1310.6 317.7 1319.9 315.3 1326 314.4 1332.2 314 1341.3 314.3 1350.4 315.7 1362.5 318.8 1389.2 327.2 1395.1 328.4 1401 328.8M1528.5 493.5 1511.7 483.3 1492.3 470.7 1440.5 434.3 1411.2 415.4 1400.6 408 1392.8 401.4 1385 393.6 1377.2 384.2 1369.5 373.1 1359.2 355 1351.5 339 1343.9 320.9 1333.7 293.5 1326 270.9 1315.8 238.3 1287.4 141.5 1277 107.6M1092.9 496.7 1108.7 474.8 1140.2 428.6 1152.8 410.8 1165.5 394.1 1181.3 374.9 1200.3 354.2 1222.4 332.8 1244.5 313.6 1263.4 299.3 1279 289.5 1291.5 283.6 1297.7 281.5 1303.9 279.8 1310.1 278.7 1316.3 278.1 1325.5 278.3 1337.7 280.2 1346.8 282.7 1373.7 291.6 1382.6 293.5 1388.5 294.1M1543.8 485.6 1521.3 472.4 1499.2 458.5 1482.7 447.4 1455.7 427.9 1447.6 422.7 1423.6 409.4 1413.1 402.9 1405.2 397 1397.4 389.7 1389.6 380.7 1384.5 373.6 1379.4 365.6 1374.2 356.6 1366.6 341.2 1356.4 317.1 1346.3 289.3 1338.7 266.2 1328.5 233.1 1292.6 107.5M1080.6 489.3 1099.4 459.3 1124.3 415.8 1136.8 394.7 1149.4 375 1165.1 352.4 1184 327.9 1206.2 302.2 1218.8 288.8 1228.2 279.5 1237.7 270.9 1247.1 263.1 1256.6 256.1 1262.9 252 1275.4 245.2 1284.8 241.5 1291 239.7 1297.2 238.5 1303.4 237.9 1309.6 237.8 1315.8 238.3 1328 240.7 1340.2 244.9 1364.2 254.8 1370.1 256.6 1376.1 257.9M1559 477.2 1536.4 465.7 1511.5 451.5 1495 440.8 1462.6 417.9 1457.3 415 1433.3 404.2 1422.7 398.3 1414.9 392.6 1409.7 387.9 1401.9 379.4 1396.8 372.5 1391.7 364.6 1386.6 355.5 1379 339.8 1368.9 315.1 1358.8 286.8 1348.7 255.6 1338.6 221.7 1308 110.7M1068.4 478.9 1080.7 456.3 1108.4 400.1 1120.8 376.2 1133.2 354.1 1148.9 328.8 1170.9 296.8 1183.5 279.8 1196.1 263.7 1215.1 241.9 1224.5 232.2 1234 223.4 1243.4 215.7 1249.7 211.1 1259.2 205.3 1265.5 202.1 1274.9 198.3 1281.1 196.5 1287.4 195.3 1296.7 194.6 1302.9 194.8 1309.1 195.6 1315.2 196.9 1324.4 199.9 1336.6 205.4 1357.6 217.2 1363.6 219.8M1574.1 469 1551.4 460.2 1537.4 453.7 1526.3 447.7 1515.3 441.2 1485.5 421.4 1477.4 416.5 1466.7 411.1 1445.4 401.9 1434.9 396.7 1427 391.6 1421.8 387.3 1414.1 379.1 1409 372.3 1401.4 359.8 1396.3 349.9 1391.3 338.7 1381.2 313.1 1371.2 284.2 1358.7 245.8 1348.6 212.1 1323.4 116.2M1056 464.2 1062.1 450.9 1083.2 400.5 1095.4 373.7 1110.9 342.9 1126.4 314.9 1135.8 299.2 1148.3 279.4 1176.6 237.5 1189.2 220.4 1198.7 208.4 1208.2 197.3 1217.6 187.2 1227.1 178.2 1233.4 172.9 1242.9 165.9 1249.2 162 1255.5 158.6 1264.9 154.7 1271.2 152.7 1280.6 150.9 1286.9 150.3 1296.2 150.5 1302.4 151.3 1311.6 153.6 1323.9 158.3 1351.1 171.5M1589.1 461.7 1566.2 455.4 1560.6 453.4 1552.2 449.7 1530.1 438.4 1492.1 415.9 1473.4 406.6 1446.9 394.6 1439.1 389.7 1433.9 385.5 1428.7 380.1 1423.6 373.7 1418.6 366 1413.5 357 1408.5 346.6 1401 328.8 1393.5 308.7 1371.1 243.3 1366.1 228 1361.1 211 1343.6 140.7 1338.5 122.6M1043.1 436.9 1064.1 385.2 1079.3 351.2 1094.7 319.7 1116.4 279.9 1135.2 248.9 1157.1 214 1169.7 195 1179.2 181.7 1191.8 165 1198.1 157.4 1207.6 147 1217.1 137.5 1223.4 131.9 1229.7 126.9 1236.1 122.6 1245.5 117.2 1255 112.8 1261.3 110.7 1270.7 108.5 1277 107.6 1286.4 107.2 1292.6 107.5 1301.9 109.1 1317.3 113.8 1338.5 122.6" fill="none" stroke="#0a0a0a" stroke-width="1.55" stroke-linejoin="round"/>
<path d="M1288.1 615.9 1304.8 607 1344.6 587.7 1438.2 541.1 1543.8 485.6 1574.1 469 1589.1 461.7M1589.1 461.7 1566.2 455.4 1560.6 453.4 1552.2 449.7 1530.1 438.4 1492.1 415.9 1473.4 406.6 1446.9 394.6 1439.1 389.7 1433.9 385.5 1428.7 380.1 1423.6 373.7 1418.6 366 1413.5 357 1408.5 346.6 1401 328.8 1393.5 308.7 1371.1 243.3 1366.1 228 1361.1 211 1343.6 140.7 1338.5 122.6M1043.1 436.9 1064.1 385.2 1079.3 351.2 1094.7 319.7 1116.4 279.9 1135.2 248.9 1157.1 214 1169.7 195 1179.2 181.7 1191.8 165 1198.1 157.4 1207.6 147 1217.1 137.5 1223.4 131.9 1229.7 126.9 1236.1 122.6 1245.5 117.2 1255 112.8 1261.3 110.7 1270.7 108.5 1277 107.6 1286.4 107.2 1292.6 107.5 1301.9 109.1 1317.3 113.8 1338.5 122.6M1288.1 615.9 1263.4 601.5 1228.4 580.3 1160.3 532.7 1147.6 524.4 1137.4 518.7 1122.4 511.1 1102.7 502.4 1085.5 492.4 1078.2 487.5 1073.3 483.5 1065.9 476.4 1061 470.9 1056 464.2 1050.9 455.3 1048.4 449.9 1043.1 436.9" fill="none" stroke="#0a0a0a" stroke-width="1.8" stroke-linejoin="round" stroke-linecap="round"/>
<circle cx="1098.3" cy="444.2" r="6.1" fill="#fff" stroke="#1f4a9c" stroke-width="2.5"/>
<circle cx="1098.3" cy="438.7" r="6.1" fill="#fff" stroke="#1f4a9c" stroke-width="2.5"/>
<circle cx="1098.3" cy="433.1" r="6.1" fill="#fff" stroke="#1f4a9c" stroke-width="2.5"/>
<path d="M1222.5 222.6L1224.3 276.1" stroke="#1f4a9c" stroke-width="1.3" stroke-dasharray="2.5 2" fill="none"/>
<circle cx="1224.3" cy="276.1" r="6.1" fill="#fff" stroke="#1f4a9c" stroke-width="2.5"/>
<circle cx="1222.5" cy="250.3" r="6.1" fill="#fff" stroke="#1f4a9c" stroke-width="2.5"/>
<circle cx="1222.5" cy="239.9" r="6.1" fill="#fff" stroke="#1f4a9c" stroke-width="2.5"/>
<circle cx="1222.5" cy="222.6" r="6.1" fill="#fff" stroke="#1f4a9c" stroke-width="2.5"/>
<g transform="translate(1402.4,377) rotate(-60)"><path d="M-5.9 1.6A6.1 6.1 0 1 1 5.9 1.6Z" fill="#fff"/><path d="M-5.9 1.6A6.1 6.1 0 1 1 5.9 1.6" fill="none" stroke="#1f4a9c" stroke-width="2.7"/></g>
<circle cx="1158.2" cy="491.5" r="6.1" fill="#fff" stroke="#1f4a9c" stroke-width="2.5"/>
<circle cx="1158.2" cy="486.7" r="6.1" fill="#fff" stroke="#1f4a9c" stroke-width="2.5"/>
<g transform="translate(1285.3,415.4) rotate(-27)"><path d="M-5.9 1.6A6.1 6.1 0 1 1 5.9 1.6Z" fill="#fff"/><path d="M-5.9 1.6A6.1 6.1 0 1 1 5.9 1.6" fill="none" stroke="#1f4a9c" stroke-width="2.7"/></g>
<circle cx="1284.5" cy="404.3" r="6.1" fill="#fff" stroke="#1f4a9c" stroke-width="2.5"/>
<circle cx="1284.5" cy="396.2" r="6.1" fill="#fff" stroke="#1f4a9c" stroke-width="2.5"/>
<g transform="translate(1463.3,417.6) rotate(-27)"><path d="M-5.9 1.6A6.1 6.1 0 1 1 5.9 1.6Z" fill="#fff"/><path d="M-5.9 1.6A6.1 6.1 0 1 1 5.9 1.6" fill="none" stroke="#1f4a9c" stroke-width="2.7"/></g>
<g transform="translate(1218.8,539.2) rotate(-27)"><path d="M-5.9 1.6A6.1 6.1 0 1 1 5.9 1.6Z" fill="#fff"/><path d="M-5.9 1.6A6.1 6.1 0 1 1 5.9 1.6" fill="none" stroke="#1f4a9c" stroke-width="2.7"/></g>
<circle cx="1347" cy="468.2" r="6.1" fill="#fff" stroke="#1f4a9c" stroke-width="2.5"/>
<g transform="translate(1528,460.1) rotate(-27)"><path d="M-5.9 1.6A6.1 6.1 0 1 1 5.9 1.6Z" fill="#fff"/><path d="M-5.9 1.6A6.1 6.1 0 1 1 5.9 1.6" fill="none" stroke="#1f4a9c" stroke-width="2.7"/></g>
<g transform="translate(1283.1,585.4) rotate(-27)"><path d="M-5.9 1.6A6.1 6.1 0 1 1 5.9 1.6Z" fill="#fff"/><path d="M-5.9 1.6A6.1 6.1 0 1 1 5.9 1.6" fill="none" stroke="#1f4a9c" stroke-width="2.7"/></g>
<g transform="translate(1411.6,520.7) rotate(-27)"><path d="M-5.9 1.6A6.1 6.1 0 1 1 5.9 1.6Z" fill="#fff"/><path d="M-5.9 1.6A6.1 6.1 0 1 1 5.9 1.6" fill="none" stroke="#1f4a9c" stroke-width="2.7"/></g>
<path d="M1044.7 469.9L1028.2 130.7M1044.7 469.9L1288.3 651.9M1288.3 651.9L1587.3 497.7M1044.7 469.9l2.9 -1.3M1044.3 462.6l2.9 -1.3M1044 455.3l2.9 -1.3M1043.6 448l2.9 -1.3M1043.3 440.7l5.5 -2.5M1042.9 433.3l2.9 -1.3M1042.6 426l2.9 -1.3M1042.2 418.6l2.9 -1.3M1041.8 411.2l2.9 -1.3M1041.5 403.7l5.5 -2.5M1041.1 396.3l2.9 -1.3M1040.7 388.8l2.9 -1.3M1040.4 381.3l2.9 -1.3M1040 373.8l2.9 -1.3M1039.6 366.3l5.5 -2.4M1039.3 358.7l2.9 -1.3M1038.9 351.2l2.9 -1.3M1038.5 343.6l2.9 -1.3M1038.2 336l2.9 -1.3M1037.8 328.3l5.5 -2.4M1037.4 320.7l2.9 -1.3M1037.1 313l2.9 -1.3M1036.7 305.3l2.9 -1.3M1036.3 297.6l2.9 -1.3M1035.9 289.9l5.5 -2.4M1035.5 282.1l2.9 -1.3M1035.2 274.4l2.9 -1.2M1034.8 266.6l2.9 -1.2M1034.4 258.7l2.9 -1.2M1034 250.9l5.5 -2.3M1033.6 243.1l3 -1.2M1033.3 235.2l3 -1.2M1032.9 227.3l3 -1.2M1032.5 219.3l3 -1.2M1032.1 211.4l5.5 -2.3M1031.7 203.4l3 -1.2M1031.3 195.4l3 -1.2M1030.9 187.4l3 -1.2M1030.5 179.4l3 -1.2M1030.2 171.3l5.6 -2.3M1029.8 163.3l3 -1.2M1029.4 155.2l3 -1.2M1029 147l3 -1.2M1028.6 138.9l3 -1.2M1028.2 130.7l5.6 -2.2M1288.3 651.9l5.3 -2.7M1281.8 647l2.8 -1.5M1275.3 642.2l2.8 -1.5M1268.8 637.4l2.8 -1.5M1262.4 632.6l2.9 -1.5M1256 627.8l5.3 -2.7M1249.6 623l2.9 -1.4M1243.2 618.2l2.9 -1.4M1236.8 613.5l2.9 -1.4M1230.5 608.7l2.9 -1.4M1224.2 604l5.4 -2.7M1217.9 599.3l2.9 -1.4M1211.6 594.6l2.9 -1.4M1205.4 590l2.9 -1.4M1199.2 585.3l2.9 -1.4M1193 580.7l5.4 -2.7M1186.8 576.1l2.9 -1.4M1180.6 571.5l2.9 -1.4M1174.5 566.9l2.9 -1.4M1168.4 562.3l2.9 -1.4M1162.3 557.8l5.4 -2.6M1156.2 553.2l2.9 -1.4M1150.2 548.7l2.9 -1.4M1144.1 544.2l2.9 -1.4M1138.1 539.7l2.9 -1.4M1132.1 535.2l5.4 -2.6M1126.2 530.8l2.9 -1.4M1120.2 526.3l2.9 -1.4M1114.3 521.9l2.9 -1.4M1108.4 517.5l2.9 -1.4M1102.5 513.1l5.4 -2.6M1096.6 508.7l2.9 -1.4M1090.8 504.3l2.9 -1.4M1084.9 500l2.9 -1.4M1079.1 495.6l2.9 -1.4M1073.3 491.3l5.4 -2.5M1067.6 487l2.9 -1.3M1061.8 482.7l2.9 -1.3M1056.1 478.4l2.9 -1.3M1050.4 474.1l2.9 -1.3M1044.7 469.9l5.5 -2.5M1288.3 651.9l-4.8 -3.6M1301.5 645.1l-2.6 -1.9M1314.6 638.4l-4.8 -3.6M1327.6 631.6l-2.6 -1.9M1340.6 625l-4.8 -3.5M1353.5 618.3l-2.6 -1.9M1366.3 611.7l-4.9 -3.5M1379.1 605.1l-2.6 -1.9M1391.8 598.5l-4.9 -3.5M1404.5 592l-2.6 -1.8M1417.1 585.5l-4.9 -3.5M1429.6 579l-2.6 -1.8M1442.1 572.6l-4.9 -3.4M1454.5 566.2l-2.6 -1.8M1466.9 559.8l-4.9 -3.4M1479.2 553.5l-2.6 -1.8M1491.4 547.2l-5 -3.4M1503.6 540.9l-2.6 -1.8M1515.7 534.6l-5 -3.4M1527.8 528.4l-2.7 -1.8M1539.8 522.2l-5 -3.3M1551.8 516.1l-2.7 -1.8M1563.6 509.9l-5 -3.3M1575.5 503.8l-2.7 -1.8M1587.3 497.7l-5 -3.3M1568.9 507.2l-2.7 -1.8M1574.5 504.3l-2.7 -1.8M1578.8 502.1l-2.7 -1.8M1583 499.9l-2.7 -1.7" stroke="#000" stroke-width="1.4" fill="none" stroke-linecap="square"/>
<text transform="translate(1025.3,459.7) rotate(-22)" font-size="23" text-anchor="end" font-style="italic">0</text>
<text transform="translate(1021.6,385.3) rotate(-22)" font-size="23" text-anchor="end" font-style="italic">100</text>
<text transform="translate(1017.9,308.9) rotate(-22)" font-size="23" text-anchor="end" font-style="italic">200</text>
<text transform="translate(1014.1,230.4) rotate(-22)" font-size="23" text-anchor="end" font-style="italic">300</text>
<text transform="translate(1010.2,149.7) rotate(-22)" font-size="23" text-anchor="end" font-style="italic">400</text>
<text transform="translate(1060.3,505.3) rotate(-33)" font-size="22" text-anchor="end">3000</text>
<text transform="translate(1119.1,549.2) rotate(-33)" font-size="22" text-anchor="end">300</text>
<text transform="translate(1180,594.7) rotate(-33)" font-size="22" text-anchor="end">30</text>
<text transform="translate(1243,641.8) rotate(-33)" font-size="22" text-anchor="end">3</text>
<text transform="translate(1341.6,658) rotate(-33)" font-size="22" text-anchor="middle">1</text>
<text transform="translate(1467.9,592.8) rotate(-33)" font-size="22" text-anchor="middle">10</text>
<text transform="translate(1582.9,533.5) rotate(-33)" font-size="22" text-anchor="middle">90</text></g>
<g id="pc"><path d="M155.8 1243.2L139.5 902.3M403 1429.3L155.8 1243.2M181.6 1231.3L167 891.3M429.5 1415.7L181.6 1231.3M207.2 1219.5L194.1 880.4M455.6 1402.2L207.2 1219.5M232.5 1207.8L221 869.6M481.5 1388.9L232.5 1207.8M257.7 1196.2L247.7 858.9M507.2 1375.7L257.7 1196.2M282.6 1184.8L274.1 848.3M532.7 1362.6L282.6 1184.8M307.3 1173.4L300.2 837.8M557.9 1349.6L307.3 1173.4M331.7 1162.1L326.2 827.4M582.8 1336.8L331.7 1162.1M356 1150.9L351.9 817.1M607.6 1324L356 1150.9M380.1 1139.8L377.3 806.9M632.1 1311.4L380.1 1139.8M403.9 1128.9L402.5 796.8M656.4 1298.9L403.9 1128.9M427.6 1118L427.5 786.8M680.5 1286.5L427.6 1118M451.1 1107.2L452.3 776.9M704.3 1274.3L451.1 1107.2M704.3 1274.3L721 931M403 1429.3L704.3 1274.3M670.9 1252.2L685.4 910.6M370.3 1404.6L670.9 1252.2M637.9 1230.5L650.4 890.5M338.1 1380.4L637.9 1230.5M605.5 1209.1L616 870.8M306.4 1356.5L605.5 1209.1M573.7 1188.1L582.1 851.4M275.3 1333.1L573.7 1188.1M542.3 1167.3L548.9 832.3M244.7 1310.1L542.3 1167.3M511.4 1147L516.2 813.5M214.5 1287.4L511.4 1147M481 1126.9L484 795M184.9 1265.1L481 1126.9M451.1 1107.2L452.3 776.9M155.8 1243.2L451.1 1107.2M154.8 1221.6L451.1 1086.2M451.1 1086.2L705.4 1252.6M152.7 1178.1L451.3 1043.9M451.3 1043.9L707.5 1208.8M150.6 1133.9L451.5 1001M451.5 1001L709.7 1164.3M148.4 1089L451.6 957.5M451.6 957.5L711.9 1119.1M146.3 1043.4L451.8 913.3M451.8 913.3L714.1 1073.2M144.1 997.1L452 868.5M452 868.5L716.3 1026.6M141.8 950L452.1 823M452.1 823L718.6 979.2M139.5 902.3L452.3 776.9M452.3 776.9L721 931M139.5 902.3L452.3 776.9M452.3 776.9L721 931" stroke="#dcdcde" stroke-width="1.1" fill="none"/>
<path d="M675.6 1264.5 682.1 1264.5 705.4 1252.9 691.1 1244.1 679 1235.4 664.1 1234.1 651.3 1234 593.7 1236.9 570.1 1239 551 1242.5 524.3 1249.7 499.4 1258.4 479.5 1267 464.5 1275.4 451.3 1285.1 444.8 1291.3 440.2 1296.8 437.1 1301.6 435.2 1305.8 433.9 1311.5 434.1 1316.3 435.9 1320.8 438.5 1324.1 444.1 1327.9 451.9 1330.7 462.2 1332.3 468.4 1332.2 482.3 1330.4 498.1 1325.9 516.2 1319.3 580.2 1291.7 634.6 1269.8 644.3 1267.1 654.3 1265.3 662.1 1264.7 675.6 1264.5Z" fill="#1b6441" stroke="#1b6441" stroke-width="0.6"/>
<path d="M402.9 1400.2 479.3 1363.8 572.8 1316.1 613.6 1295.8 653.8 1276.7 682.1 1264.5 664.5 1264.6 654.7 1265.3 646.1 1266.7 638.3 1268.7 626.1 1273 586.9 1288.8 530 1313.6 509.1 1322 498.1 1325.9 486.5 1329.4 477.6 1331.3 468.4 1332.2 456.6 1331.7 448.3 1329.7 444.1 1327.9 438.5 1324.1 436.4 1321.7 435 1319.1 434.1 1316.3 433.8 1313.1 434.1 1309.6 435.6 1304.9 438.6 1299.2 442.3 1294.1 452 1284.4 459 1279.1 467.4 1273.6 476.4 1268.6 486 1264 509.9 1254.5 536.1 1246.2 560.5 1240.5 572.2 1238.8 586.4 1237.4 650.4 1234.1 664.1 1234.1 679 1235.4 663.1 1222.4 649.4 1209.2 635.7 1193.9 620.8 1175.2 598.8 1178 552.9 1181.8 530 1184.9 509.6 1188.9 486.5 1194.8 460.9 1202.7 429.2 1213.9 398.4 1226 368.2 1238.9 318.4 1261.5 300.9 1268.6 281.7 1274.5 273.2 1276.4 259.5 1278.4 280.7 1297.8 304.6 1318.5 366.8 1369.7 402.9 1400.2Z" fill="#167a3c" stroke="#167a3c" stroke-width="0.6"/>
<path d="M616.5 1175.8 620.8 1175.2 598.1 1145.1 584.9 1129.9 571.1 1130.2 555.6 1131.3 537.8 1133.4 519.4 1136.6 501.5 1140.6 463.3 1150.9 383.7 1175.4 353.5 1184.1 321.9 1192 296.5 1196.8 268.7 1200 253.4 1200.7 242.6 1200.6 223 1199.4 187.3 1194.8 173.6 1193.5 182.6 1203.7 192.8 1214.2 259.5 1278.4 273.2 1276.4 281.7 1274.5 300.9 1268.6 321.8 1260 378.2 1234.6 412 1220.6 450.2 1206.3 486.5 1194.8 513.5 1188.1 538.6 1183.6 556.5 1181.5 598.8 1178 616.5 1175.8Z" fill="#37a53c" stroke="#37a53c" stroke-width="0.6"/>
<path d="M584.4 1129.9 584.9 1129.9 566.1 1107.7 549.5 1085.1 528.7 1088.6 509.1 1093 487.3 1099 425.7 1117.3 388.4 1127.8 353.6 1136.6 325.3 1142.7 308.2 1145.7 290.4 1148.2 271.6 1150 256.8 1150.9 220 1151.3 165.9 1149.7 152 1162.9 164.8 1182 173.6 1193.5 231 1200.1 248.1 1200.7 268.7 1200 287.5 1198.1 302.5 1195.8 321.9 1192 341.9 1187.2 379.9 1176.5 467.8 1149.7 490.1 1143.5 509.3 1138.8 529.4 1134.7 548.2 1132 564.9 1130.5 584.4 1129.9Z" fill="#73b432" stroke="#73b432" stroke-width="0.6"/>
<path d="M543.2 1086 549.5 1085.1 537.2 1066.9 525.4 1047.8 509.9 1051.2 495.2 1055.1 438.4 1072.5 405.3 1081.8 370.7 1090.4 334.6 1098.2 305.1 1103.4 278.1 1106.8 253.9 1108.5 203.7 1110.4 193.9 1120 165.9 1149.7 220 1151.3 251.8 1151.1 281.2 1149.2 312.6 1145 341.7 1139.3 373.2 1131.8 414.6 1120.5 502 1094.9 522.1 1089.9 543.2 1086Z" fill="#aac323" stroke="#aac323" stroke-width="0.6"/>
<path d="M520.1 1048.8 525.4 1047.8 506.5 1013.8 488.3 1018.7 449.9 1030.7 424.7 1038.1 398.4 1044.9 371 1051.1 336.3 1057.9 291.7 1065.2 269.1 1067.9 246.3 1069.2 219.6 1095.7 203.7 1110.4 253.9 1108.5 278.1 1106.8 305.1 1103.4 334.6 1098.2 370.7 1090.4 405.3 1081.8 438.4 1072.5 495.2 1055.1 520.1 1048.8Z" fill="#f5e828" stroke="#f5e828" stroke-width="0.6"/>
<path d="M503.8 1014.4 506.5 1013.8 491 982 434.9 999 397.3 1008.5 373.4 1013.4 340.3 1019.3 295.3 1025.3 270.7 1045.8 246.3 1069.2 269.1 1067.9 291.7 1065.2 336.3 1057.9 371 1051.1 398.4 1044.9 424.7 1038.1 449.9 1030.7 487.8 1018.8 503.8 1014.4Z" fill="#f0911e" stroke="#f0911e" stroke-width="0.6"/>
<path d="M487.9 982.8 491 982 477.9 951.6 443.1 962.3 413.3 969.8 377.4 976.9 343.4 982.1 295.3 1025.3 340.3 1019.3 373.4 1013.4 397.3 1008.5 434.9 999 487.9 982.8Z" fill="#e42628" stroke="#e42628" stroke-width="0.6"/>
<path d="M476.1 952.1 477.9 951.6 466.5 922.3 445.4 928.5 430.7 932.3 411.2 936.4 388.4 940.3 343.4 982.1 377.4 976.9 413.3 969.8 439.5 963.3 476.1 952.1Z" fill="#c31a1e" stroke="#c31a1e" stroke-width="0.6"/>
<path d="M452.4 926.5 466.5 922.3 451.9 883.8 442.7 891.1 424.2 906.9 388.4 940.3 423 934 452.4 926.5Z" fill="#8c1a1a" stroke="#8c1a1a" stroke-width="0.6"/>
<path d="M402.9 1400.2 366.8 1369.7 307.3 1320.7 283.4 1300.1 262.3 1281 197.8 1219.2 185.1 1206.4 177.5 1198.1 169.9 1188.9 162.2 1178.3 152 1162.9M402.9 1400.2 419.7 1391.9 453 1376.5 479.3 1363.8 572.8 1316.1 613.6 1295.8 653.8 1276.7 687.2 1262.1 705.4 1252.9M419.7 1391.9 332 1320.1 305.3 1296.6 281.6 1274.4 224.5 1217 204 1195.4 193.8 1183.5 186.1 1173.6 168.2 1147.5M389 1388.4 405.7 1380.4 455.5 1358.9 488.1 1343.8 599.4 1288.7 636.5 1270.8 673 1253.7 691.1 1244.1M436.4 1384.2 383.8 1342.8 356.7 1320.4 327.2 1294.1 300.7 1268.4 282.3 1249.5 256.3 1221.7 238.2 1201.9 225.4 1187.1 215.1 1174.5 204.8 1160.8 184.3 1130.4M375.1 1376.7 398.6 1366.3 461.2 1341.3 493.5 1326.7 606.9 1271.3 655.9 1246.1 677.1 1233.9M453 1376.5 405.8 1341.3 381.3 1321.4 367.8 1309.7 351.7 1294.8 322.5 1265.7 304 1246.1 285.7 1225.7 264.9 1201.7 249.3 1182.9 236.4 1166.4 226.1 1152.3 215.8 1137.4 200.3 1113.6M361.3 1365.2 374.8 1359.3 388.1 1354 453.9 1330 473.2 1321.6 505.3 1306.9 577.5 1271.5 592.9 1263.6 638.9 1237.5 663.1 1222.4M469.5 1368.6 427.8 1339.7 405.9 1322.8 392.3 1311.2 376.2 1296.2 362.8 1283.1 346.8 1266.5 330.9 1249.3 312.5 1228.2 294.1 1206.3 275.9 1183.4 260.3 1162.9 247.4 1144.9 216.4 1098.8M347.7 1354 361.1 1348.2 377.8 1341.8 443.4 1319.1 469.1 1308.1 504.2 1292.2 563.6 1262.4 579.1 1254.1 622 1227.4 649.4 1209.2M485.9 1360.5 444.1 1333.7 433.1 1326 424.9 1319.5 411.3 1307.9 397.8 1295.3 381.7 1279.2 365.7 1262.2 349.8 1244.2 331.3 1222.2 312.9 1199.2 297.3 1178.6 281.6 1157 266.1 1134.5 232.4 1083.1M334.1 1342.9 347.5 1337.1 364.2 1330.7 416.8 1312.7 436.2 1305.4 468.3 1291.8 496.8 1278.4 540.6 1255.9 565.4 1241.9 596.1 1221.9 635.7 1193.9M502.2 1352.3 460.3 1327.3 449.3 1319.9 441.1 1313.6 427.5 1301.9 414 1289.1 400.6 1275.4 384.6 1257.9 368.6 1239.4 352.7 1219.9 334.3 1196 318.6 1174.5 302.9 1152.2 287.3 1128.8 248.4 1067.1M320.6 1331.9 334 1326 350.7 1319.3 406.5 1299.3 429.1 1290.5 461.1 1276.6 492.7 1261.2 527 1242.8 542.5 1233.7 554.9 1226 582.6 1206.9 622.2 1177.1M518.4 1344 479.2 1321.9 468.2 1314.8 457.2 1306.8 446.4 1297.8 432.8 1285.2 419.4 1271.5 403.3 1253.7 387.3 1234.7 371.5 1214.6 355.6 1193.5 337.3 1167.6 321.6 1144.3 303.3 1115.9 264.3 1051.6M307.3 1320.7 320.6 1314.6 337.2 1307.6 396.3 1284.9 425.3 1272.9 457.1 1258.3 488.6 1242.2 519.8 1224.4 535.3 1214.7 547.6 1206.5 572.2 1188.5 608.8 1159M534.5 1335.6 495.3 1314.4 484.2 1307.6 473.3 1299.8 462.4 1290.9 448.8 1278.3 435.4 1264.3 419.3 1246.2 403.3 1226.6 387.4 1205.9 371.6 1184 355.9 1161 340.1 1137 321.8 1107.7 280.2 1037.7M294 1309.4 323.9 1295.5 386.1 1269.6 415.1 1256.8 446.9 1241.5 478.3 1224.9 509.5 1206.5 537.3 1188 561.9 1169.6 595.4 1141.8M550.5 1327.5 511.2 1306.9 500.1 1300.3 489.2 1292.6 478.3 1283.7 464.7 1271 451.3 1256.9 437.9 1241.6 421.9 1221.8 406 1200.7 390.2 1178.4 374.4 1154.8 358.6 1130.2 343 1104.5 296.1 1024.6M280.7 1297.8 313.9 1281.4 376 1253.3 404.9 1239.7 436.7 1223.6 465 1208.1 496.2 1189.5 524 1171.1 548.5 1153.1 582.1 1126.7M566.4 1319.3 527.1 1299.2 516 1292.7 505 1285.1 494.1 1276.1 480.5 1263.3 467.1 1249 453.7 1233.5 437.7 1213.4 421.8 1191.9 406 1169 390.2 1144.8 374.5 1119.4 358.8 1093 311.9 1010.3M267.6 1285.9 300.7 1268.4 366 1236.2 394.8 1221.5 423.4 1206.3 451.7 1190.3 482.9 1171.6 510.7 1153.4 538.3 1134 568.8 1111M582.2 1311.4 542.8 1291.5 531.7 1284.8 520.7 1277.1 509.8 1268.1 496.2 1255.3 482.8 1240.8 466.7 1221.8 450.8 1201.2 434.9 1179 419.1 1155.5 403.3 1130.6 387.6 1104.3 371.9 1076.9 327.6 996M254.5 1273.5 284.3 1256.8 381.6 1204.1 413.4 1186.2 441.7 1169.6 475.9 1148.7 506.7 1128.7 534.3 1109.7 555.5 1093.7M598 1303.5 558.5 1283.8 547.4 1277.1 536.4 1269.2 525.4 1260 511.9 1246.9 498.4 1232.2 482.4 1213 466.4 1192.1 450.6 1169.8 434.8 1145.9 419 1120.5 403.3 1093.7 387.6 1065.5 343.4 982.1M241.5 1260.9 381.2 1178.3 444.1 1140.2 478.2 1118.8 505.9 1101 527.2 1086.3 542.4 1074.8M613.6 1295.8 574.1 1276.2 562.9 1269.4 551.9 1261.2 538.3 1249.1 524.7 1235.3 511.3 1220.1 495.3 1200.3 479.3 1179.1 463.5 1156.4 447.7 1132.1 432 1106.2 418.9 1083.2 403.3 1054.2 359 967.5M228.5 1248.4 348.9 1171 492.8 1079.9 514.2 1065.7 529.4 1054.5M629.1 1288.4 589.5 1268.5 578.4 1261.6 567.4 1253 553.8 1240.3 540.2 1225.9 524.1 1207.2 505.5 1183.6 489.6 1162 473.7 1138.8 458 1113.9 444.9 1091.7 431.9 1068.1 416.2 1038 374.6 953M215.7 1236.2 248.6 1213.3 310.2 1169.4 348.6 1142.9 424.1 1092.5 495.1 1047.3 507.2 1038.9 516.4 1032.1M644.6 1281 616.2 1266.6 605 1260.3 593.8 1252.8 582.8 1243.9 569.2 1230.6 553 1212.8 534.2 1190.2 512.9 1162.7 497.1 1140.6 483.9 1121 468.2 1095.5 455.2 1072.6 442.1 1048 429.1 1021.8 390.2 938.7M202.9 1224.1 225.9 1206.7 293.9 1153.2 338.7 1120 386.1 1086.3 420.4 1062.5 445.2 1046 488.2 1018.5 503.4 1007.7M659.9 1274.1 634.3 1260.3 620.3 1251.7 606.4 1241.3 595.5 1231.4 581.9 1217.3 563 1195.4 536.3 1162.3 517.7 1137.8 504.5 1119 491.4 1098.7 478.4 1076.9 465.4 1053.2 455 1032.8 442 1005.7 405.7 924.1M190.2 1211.7 206.6 1198.3 245.5 1164.2 274.5 1139.4 296.9 1121 319.2 1103.5 382.4 1055.9 419.8 1028.4 444.6 1011.2 478.3 989.4 490.5 980.9M675.1 1267.6 652.4 1254.4 638.4 1245.1 624.5 1234.2 610.8 1221.3 597.2 1206.5 583.7 1190.3 543.6 1140.8 525.1 1116.2 512 1096.9 498.9 1076 485.9 1053.2 475.5 1033.5 465.1 1012.3 454.8 989.6 421.1 909.7M177.5 1198.1 190.6 1186.5 222.9 1155.4 242.2 1137.5 274.3 1108.6 296.6 1089.6 391.3 1013.9 419.2 992 444 973.8 477.6 951M690.3 1260.7 670.4 1248.6 656.3 1238.7 642.4 1227.3 628.7 1213.9 612.4 1195.3 582.9 1157.8 556.2 1126 545.6 1112.4 535.1 1097.8 522 1078.3 508.9 1056.9 496 1033.6 485.6 1013.3 475.3 991.4 464.9 967.6 436.6 896.3M164.8 1182 177.8 1169.8 213.2 1133.5 277.3 1073.3 315.4 1041.6 424.8 948 443.3 933.3 464.8 917.6M705.4 1252.9 691.1 1244.1 674.3 1231.7 660.4 1219.9 646.6 1206.3 638.5 1197.1 627.6 1184 603.5 1151.9 595.4 1141.8 579.4 1123.7 568.8 1111 558.2 1097.3 547.7 1082.5 534.6 1062.9 524.2 1045.7 511.2 1022.6 498.3 997.3 487.9 975.1 477.6 951 451.9 883.8M152 1162.9 168.2 1147.5 197.1 1116.7 219.6 1095.7 264.3 1051.6 273.8 1043 299.3 1021.9 321.4 1001.6 343.4 982.1 424.2 906.9 442.7 891.1 451.9 883.8" fill="none" stroke="#0a0a0a" stroke-width="1.55" stroke-linejoin="round"/>
<path d="M402.9 1400.2 419.7 1391.9 453 1376.5 479.3 1363.8 572.8 1316.1 613.6 1295.8 653.8 1276.7 687.2 1262.1 705.4 1252.9M705.4 1252.9 691.1 1244.1 674.3 1231.7 660.4 1219.9 646.6 1206.3 638.5 1197.1 627.6 1184 603.5 1151.9 595.4 1141.8 579.4 1123.7 568.8 1111 558.2 1097.3 547.7 1082.5 534.6 1062.9 524.2 1045.7 511.2 1022.6 498.3 997.3 487.9 975.1 477.6 951 451.9 883.8M152 1162.9 168.2 1147.5 197.1 1116.7 219.6 1095.7 264.3 1051.6 273.8 1043 299.3 1021.9 321.4 1001.6 343.4 982.1 424.2 906.9 442.7 891.1 451.9 883.8M402.9 1400.2 366.8 1369.7 307.3 1320.7 283.4 1300.1 262.3 1281 197.8 1219.2 185.1 1206.4 177.5 1198.1 169.9 1188.9 162.2 1178.3 152 1162.9" fill="none" stroke="#0a0a0a" stroke-width="1.8" stroke-linejoin="round" stroke-linecap="round"/>
<circle cx="208.9" cy="1183.2" r="6.1" fill="#fff" stroke="#1f4a9c" stroke-width="2.5"/>
<circle cx="208.9" cy="1167.1" r="6.1" fill="#fff" stroke="#1f4a9c" stroke-width="2.5"/>
<path d="M334.6 905.7L336.4 1074.3" stroke="#1f4a9c" stroke-width="1.3" stroke-dasharray="2.5 2" fill="none"/>
<circle cx="334.6" cy="905.7" r="6" fill="#fff" stroke="#1f4a9c" stroke-width="1.8"/>
<circle cx="336.4" cy="1081.4" r="6.1" fill="#fff" stroke="#1f4a9c" stroke-width="2.5"/>
<circle cx="336.4" cy="1074.3" r="6.1" fill="#fff" stroke="#1f4a9c" stroke-width="2.5"/>
<path d="M519.3 925L518.6 1102.9" stroke="#1f4a9c" stroke-width="1.3" stroke-dasharray="2.5 2" fill="none"/>
<circle cx="519.3" cy="925" r="6" fill="#fff" stroke="#1f4a9c" stroke-width="1.8"/>
<g transform="translate(518.6,1102.9) rotate(-60)"><path d="M-5.9 1.6A6.1 6.1 0 1 1 5.9 1.6Z" fill="#fff"/><path d="M-5.9 1.6A6.1 6.1 0 1 1 5.9 1.6" fill="none" stroke="#1f4a9c" stroke-width="2.7"/></g>
<path d="M398.9 1129.6L399.6 1187.9" stroke="#1f4a9c" stroke-width="1.3" stroke-dasharray="2.5 2" fill="none"/>
<circle cx="398.9" cy="1129.6" r="6.1" fill="#fff" stroke="#1f4a9c" stroke-width="2.5"/>
<circle cx="399.6" cy="1187.9" r="6.1" fill="#fff" stroke="#1f4a9c" stroke-width="2.5"/>
<path d="M581.1 1130.4L579.3 1177.9" stroke="#1f4a9c" stroke-width="1.3" stroke-dasharray="2.5 2" fill="none"/>
<circle cx="581.1" cy="1130.4" r="6.1" fill="#fff" stroke="#1f4a9c" stroke-width="2.5"/>
<circle cx="270.4" cy="1248.6" r="6.1" fill="#fff" stroke="#1f4a9c" stroke-width="2.5"/>
<circle cx="269.6" cy="1234.3" r="6.1" fill="#fff" stroke="#1f4a9c" stroke-width="2.5"/>
<g transform="translate(332.9,1315.4) rotate(-27)"><path d="M-5.9 1.6A6.1 6.1 0 1 1 5.9 1.6Z" fill="#fff"/><path d="M-5.9 1.6A6.1 6.1 0 1 1 5.9 1.6" fill="none" stroke="#1f4a9c" stroke-width="2.7"/></g>
<circle cx="332.9" cy="1309.3" r="6.1" fill="#fff" stroke="#1f4a9c" stroke-width="2.5"/>
<circle cx="644.3" cy="1238.6" r="6.1" fill="#fff" stroke="#1f4a9c" stroke-width="2.5"/>
<g transform="translate(526.4,1305.7) rotate(-27)"><path d="M-5.9 1.6A6.1 6.1 0 1 1 5.9 1.6Z" fill="#fff"/><path d="M-5.9 1.6A6.1 6.1 0 1 1 5.9 1.6" fill="none" stroke="#1f4a9c" stroke-width="2.7"/></g>
<g transform="translate(396.4,1370) rotate(-27)"><path d="M-5.9 1.6A6.1 6.1 0 1 1 5.9 1.6Z" fill="#fff"/><path d="M-5.9 1.6A6.1 6.1 0 1 1 5.9 1.6" fill="none" stroke="#1f4a9c" stroke-width="2.7"/></g>
<path d="M155.8 1243.2L139.5 902.3M155.8 1243.2L403 1429.3M403 1429.3L704.3 1274.3M155.8 1243.2l2.9 -1.3M154.8 1221.6l5.5 -2.5M153.7 1200l2.9 -1.3M152.7 1178.1l5.5 -2.5M151.6 1156.1l2.9 -1.3M150.6 1133.9l5.5 -2.4M149.5 1111.5l2.9 -1.3M148.4 1089l5.5 -2.4M147.4 1066.3l2.9 -1.3M146.3 1043.4l5.5 -2.3M145.2 1020.3l2.9 -1.2M144.1 997.1l5.5 -2.3M142.9 973.7l3 -1.2M141.8 950l5.6 -2.3M140.7 926.3l3 -1.2M139.5 902.3l5.6 -2.2M403 1429.3l5.3 -2.7M396.4 1424.3l2.8 -1.5M389.9 1419.4l2.8 -1.5M383.3 1414.4l2.9 -1.5M376.8 1409.5l2.9 -1.5M370.3 1404.6l5.4 -2.7M363.8 1399.7l2.9 -1.4M357.3 1394.9l2.9 -1.4M350.9 1390l2.9 -1.4M344.5 1385.2l2.9 -1.4M338.1 1380.4l5.4 -2.7M331.7 1375.6l2.9 -1.4M325.3 1370.8l2.9 -1.4M319 1366l2.9 -1.4M312.7 1361.3l2.9 -1.4M306.4 1356.5l5.4 -2.7M300.1 1351.8l2.9 -1.4M293.9 1347.1l2.9 -1.4M287.7 1342.4l2.9 -1.4M281.5 1337.8l2.9 -1.4M275.3 1333.1l5.4 -2.6M269.1 1328.5l2.9 -1.4M263 1323.8l2.9 -1.4M256.8 1319.2l2.9 -1.4M250.7 1314.6l2.9 -1.4M244.7 1310.1l5.4 -2.6M238.6 1305.5l2.9 -1.4M232.5 1301l2.9 -1.4M226.5 1296.4l2.9 -1.4M220.5 1291.9l2.9 -1.4M214.5 1287.4l5.4 -2.6M208.6 1282.9l2.9 -1.4M202.6 1278.4l2.9 -1.4M196.7 1274l2.9 -1.4M190.8 1269.5l2.9 -1.4M184.9 1265.1l5.4 -2.5M179.1 1260.7l2.9 -1.4M173.2 1256.3l2.9 -1.3M167.4 1251.9l2.9 -1.3M161.6 1247.5l2.9 -1.3M155.8 1243.2l5.4 -2.5M403 1429.3l-4.8 -3.6M416.3 1422.5l-2.6 -1.9M429.5 1415.7l-4.8 -3.6M442.6 1409l-2.6 -1.9M455.6 1402.2l-4.8 -3.6M468.6 1395.6l-2.6 -1.9M481.5 1388.9l-4.9 -3.5M494.4 1382.3l-2.6 -1.9M507.2 1375.7l-4.9 -3.5M520 1369.1l-2.6 -1.9M532.7 1362.6l-4.9 -3.5M545.3 1356.1l-2.6 -1.8M557.9 1349.6l-4.9 -3.5M570.4 1343.2l-2.6 -1.8M582.8 1336.8l-4.9 -3.4M595.2 1330.4l-2.6 -1.8M607.6 1324l-4.9 -3.4M619.9 1317.7l-2.6 -1.8M632.1 1311.4l-5 -3.4M644.3 1305.2l-2.6 -1.8M656.4 1298.9l-5 -3.4M668.5 1292.7l-2.7 -1.8M680.5 1286.5l-5 -3.3M692.4 1280.4l-2.7 -1.8M704.3 1274.3l-5 -3.3M685.7 1283.8l-2.7 -1.8M691.5 1280.9l-2.7 -1.8M695.8 1278.7l-2.7 -1.8M700.1 1276.5l-2.7 -1.8" stroke="#000" stroke-width="1.4" fill="none" stroke-linecap="square"/>
<text transform="translate(134.7,1197.1) rotate(-22)" font-size="23" text-anchor="end" font-style="italic">2</text>
<text transform="translate(130.4,1108) rotate(-22)" font-size="23" text-anchor="end" font-style="italic">6</text>
<text transform="translate(126.1,1016.1) rotate(-22)" font-size="23" text-anchor="end" font-style="italic">10</text>
<text transform="translate(121.5,921.3) rotate(-22)" font-size="23" text-anchor="end" font-style="italic">14</text>
<text transform="translate(171.9,1279.1) rotate(-33)" font-size="22" text-anchor="end">3000</text>
<text transform="translate(231.7,1324.1) rotate(-33)" font-size="22" text-anchor="end">300</text>
<text transform="translate(293.4,1370.5) rotate(-33)" font-size="22" text-anchor="end">30</text>
<text transform="translate(357.3,1418.6) rotate(-33)" font-size="22" text-anchor="end">3</text>
<text transform="translate(456.6,1435.2) rotate(-33)" font-size="22" text-anchor="middle">1</text>
<text transform="translate(583.8,1369.8) rotate(-33)" font-size="22" text-anchor="middle">10</text>
<text transform="translate(699.9,1310.1) rotate(-33)" font-size="22" text-anchor="middle">90</text></g>
<clipPath id="clipd"><rect x="0" y="808.5" width="1650" height="2318"/></clipPath>
<g id="pd" clip-path="url(#clipd)"><path d="M1043.2 1240.5L1026.7 901.3M1286.8 1422.5L1043.2 1240.5M1068.9 1228.7L1054 890.5M1313.1 1409L1068.9 1228.7M1094.3 1217L1081 879.7M1339.1 1395.6L1094.3 1217M1119.5 1205.4L1107.8 869.1M1364.8 1382.3L1119.5 1205.4M1144.4 1193.9L1134.3 858.5M1390.3 1369.1L1144.4 1193.9M1169.2 1182.5L1160.6 848.1M1415.6 1356.1L1169.2 1182.5M1193.7 1171.2L1186.6 837.7M1440.6 1343.2L1193.7 1171.2M1218 1160.1L1212.3 827.5M1465.4 1330.4L1218 1160.1M1242 1149L1237.8 817.3M1489.9 1317.8L1242 1149M1265.9 1138L1263.1 807.3M1514.2 1305.2L1265.9 1138M1289.5 1127.1L1288.2 797.3M1538.3 1292.8L1289.5 1127.1M1313 1116.4L1313 787.5M1562.1 1280.5L1313 1116.4M1336.2 1105.7L1337.5 777.7M1585.8 1268.3L1336.2 1105.7M1585.8 1268.3L1602.7 927M1286.8 1422.5L1585.8 1268.3M1552.7 1246.8L1567.5 907.1M1254.5 1398.4L1552.7 1246.8M1520.3 1225.7L1532.9 887.7M1222.7 1374.6L1520.3 1225.7M1488.3 1204.8L1498.9 868.5M1191.5 1351.3L1488.3 1204.8M1456.9 1184.4L1465.5 849.7M1160.8 1328.4L1456.9 1184.4M1426 1164.2L1432.7 831.3M1130.6 1305.8L1426 1164.2M1395.6 1144.4L1400.4 813.1M1101 1283.7L1395.6 1144.4M1365.6 1124.9L1368.7 795.2M1071.8 1261.9L1365.6 1124.9M1336.2 1105.7L1337.5 777.7M1043.2 1240.5L1336.2 1105.7M1041.8 1211.3L1336.3 1077.3M1336.3 1077.3L1587.2 1239M1040.3 1181.8L1336.4 1048.7M1336.4 1048.7L1588.7 1209.3M1038.9 1151.9L1336.5 1019.8M1336.5 1019.8L1590.2 1179.2M1037.4 1121.8L1336.7 990.6M1336.7 990.6L1591.7 1148.9M1035.9 1091.3L1336.8 961.1M1336.8 961.1L1593.2 1118.2M1034.4 1060.5L1336.9 931.4M1336.9 931.4L1594.7 1087.2M1032.9 1029.3L1337 901.3M1337 901.3L1596.3 1055.9M1031.4 997.9L1337.1 870.8M1337.1 870.8L1597.8 1024.2M1029.8 966L1337.3 840.1M1337.3 840.1L1599.4 992.1M1028.3 933.9L1337.4 809.1M1337.4 809.1L1601 959.7M1026.7 901.3L1337.5 777.7M1337.5 777.7L1602.7 927M1026.7 901.3L1337.5 777.7M1337.5 777.7L1602.7 927" stroke="#dcdcde" stroke-width="1.1" fill="none"/>
<path d="M1187.2 1320.5 1189.1 1321.7 1186.8 1317.3 1185 1315 1182.7 1312.9 1179.6 1311.3 1172.3 1309.3 1179.4 1315.3 1187.2 1320.5Z" fill="#1a833c" stroke="#1a833c" stroke-width="0.6"/>
<path d="M1400.4 1320.5 1426.5 1309.3 1439.2 1302.8 1447.7 1297.4 1465.7 1283.5 1476.7 1276.2 1496.8 1264.2 1523.4 1249.7 1536 1243.8 1546.3 1240 1573 1233 1583.8 1229.6 1573.3 1226.8 1564.9 1223.1 1553.7 1216.9 1528.9 1201.9 1517.9 1194.4 1507.1 1186.1 1491 1173.1 1478.4 1161.9 1463.5 1165.7 1452.9 1169 1439.7 1174 1427.2 1179.6 1409.2 1188.4 1376.6 1205.4 1335.5 1228.1 1324.1 1231.3 1299.7 1235.2 1287.8 1237.9 1251.4 1247.9 1235 1251.6 1221.6 1253.6 1211.7 1254.2 1200.8 1254.2 1188.8 1253.3 1148 1247.2 1100.7 1238.5 1085.3 1236.7 1097.9 1250.4 1113 1263.9 1125.6 1273.6 1153.5 1293.6 1172.3 1309.3 1179.6 1311.3 1182.7 1312.9 1185 1315 1186.8 1317.3 1189.1 1321.7 1208.2 1333.8 1251 1363.9 1261.9 1370.4 1277 1378 1286.9 1372.8 1308.8 1364.1 1326.2 1356.3 1361.4 1337.5 1371.4 1332.7 1400.4 1320.5Z" fill="#1c883c" stroke="#1c883c" stroke-width="0.6"/>
<path d="M1286.6 1382.6 1339.8 1356.5 1436.8 1308 1554.6 1245.5 1587.6 1230.5 1583.8 1229.6 1573 1233 1550 1238.9 1536 1243.8 1523.4 1249.7 1496.8 1264.2 1476.7 1276.2 1465.7 1283.5 1444.9 1299.2 1433 1306.2 1419.8 1312.3 1371.4 1332.7 1322.8 1357.9 1308.8 1364.1 1286.9 1372.8 1280.1 1376.1 1277 1378 1286.6 1382.6ZM1475.4 1162.6 1478.4 1161.9 1464.5 1149.3 1451.8 1136.3 1441.7 1139.8 1432.5 1143.9 1421 1150 1384.8 1170.8 1369.7 1178.2 1353.6 1185 1332.4 1192.1 1294.3 1202.3 1254.6 1215.4 1231.3 1221.6 1218.7 1224 1205.1 1225.7 1190.4 1226.8 1174.5 1226.9 1145.4 1225.3 1096.6 1219.9 1085.1 1219.3 1073.1 1219.5 1080.3 1230.2 1085.3 1236.7 1100.7 1238.5 1141 1246 1182.4 1252.6 1195 1253.8 1206.4 1254.3 1216.8 1254 1226.3 1253.1 1247.4 1248.9 1294.1 1236.4 1324.1 1231.3 1332 1229.3 1338.7 1226.6 1373.6 1207 1406.2 1189.9 1427.2 1179.6 1439.7 1174 1452.9 1169 1463.5 1165.7 1475.4 1162.6Z" fill="#208e3c" stroke="#208e3c" stroke-width="0.6"/>
<path d="M1364.5 1180.5 1387.7 1169.2 1429.5 1145.4 1441.7 1139.8 1451.8 1136.3 1443.6 1126.9 1437.4 1118.6 1428 1122.6 1416.6 1128.5 1387.5 1146.8 1373.5 1154.8 1361.5 1160.7 1348.7 1166.2 1327.9 1173.5 1286 1184.5 1250.2 1196.5 1227.1 1202.7 1214.6 1205.2 1201.3 1207.1 1187.1 1208.4 1171.9 1209 1144.3 1208.4 1091.6 1204.7 1078.8 1204.7 1065.3 1205.5 1073.1 1219.5 1085.1 1219.3 1096.6 1219.9 1139.2 1224.7 1163.3 1226.6 1180 1227 1200.3 1226.2 1223 1223.2 1247.1 1217.6 1292.3 1202.8 1324.9 1194.2 1339.7 1189.9 1353.6 1185 1364.5 1180.5Z" fill="#29953c" stroke="#29953c" stroke-width="0.6"/>
<path d="M1334.6 1171.3 1352 1164.9 1370.6 1156.3 1384.8 1148.4 1416.6 1128.5 1428 1122.6 1437.4 1118.6 1427.8 1104 1418.8 1108.1 1407.6 1114.2 1381.5 1131 1367.8 1139.1 1356.1 1145.2 1343.6 1150.8 1319.5 1159.3 1281.7 1169.5 1249.2 1180 1230.2 1185.2 1214 1188.8 1201 1190.9 1187.2 1192.5 1172.5 1193.4 1146.1 1193.7 1094.6 1191.3 1075.3 1191.8 1059.6 1193.1 1065.3 1205.5 1078.8 1204.7 1096.5 1204.9 1138.5 1208.1 1161.2 1209 1177.1 1208.9 1192 1208.1 1214.6 1205.2 1235.1 1200.8 1253.9 1195.3 1286 1184.5 1320.5 1175.6 1334.6 1171.3Z" fill="#319c3c" stroke="#319c3c" stroke-width="0.6"/>
<path d="M1332.1 1155.2 1350 1148.1 1365 1140.7 1378.9 1132.7 1407.6 1114.2 1418.8 1108.1 1427.8 1104 1420.1 1090.7 1403.2 1099.6 1371.9 1119.6 1360.9 1126.1 1349.2 1132.1 1336.7 1137.7 1323.3 1142.8 1309.1 1147.4 1231 1169.9 1214.9 1173.6 1202.2 1175.8 1174.5 1178.9 1143.8 1179.8 1091.1 1178.8 1069.6 1179.9 1055.1 1181.5 1059.6 1193.1 1074 1191.8 1089.3 1191.3 1151.5 1193.8 1172.5 1193.4 1187.2 1192.5 1209.7 1189.5 1234.1 1184.3 1252.9 1178.8 1281.7 1169.5 1315.8 1160.4 1332.1 1155.2Z" fill="#39a23c" stroke="#39a23c" stroke-width="0.6"/>
<path d="M1316.7 1145 1336.7 1137.7 1355.1 1129.2 1369.2 1121.2 1403.2 1099.6 1420.1 1090.7 1413.7 1078.1 1394.4 1088.8 1357.7 1112.1 1346.3 1118.2 1334 1124 1320.9 1129.2 1303.4 1135.1 1232.7 1155.3 1204.3 1161.5 1191.2 1163.5 1172.6 1165.4 1147.7 1166.7 1092 1166.8 1070 1168 1051.1 1170.3 1055.1 1181.5 1069.6 1179.9 1091.1 1178.8 1149.1 1179.8 1169.6 1179.2 1184.1 1178.1 1206.5 1175.1 1231 1169.9 1316.7 1145Z" fill="#45a73a" stroke="#45a73a" stroke-width="0.6"/>
<path d="M1316.6 1130.7 1334 1124 1352.1 1115.2 1365.9 1107.2 1397.1 1087.2 1413.7 1078.1 1408.2 1066.1 1389 1076.9 1352.4 1100.1 1341 1106.3 1328.8 1112 1315.7 1117.2 1298.3 1123.2 1235.1 1141.2 1219.4 1145 1202.8 1148.3 1189.8 1150.3 1171.4 1152.4 1141.8 1154.1 1085.1 1155.4 1061.5 1157.3 1047.5 1159.4 1051.1 1170.3 1064.7 1168.5 1084.9 1167.1 1098.7 1166.6 1147.7 1166.7 1167.8 1165.8 1182.1 1164.5 1208.5 1160.7 1232.7 1155.3 1296.1 1137.3 1316.6 1130.7Z" fill="#54ac38" stroke="#54ac38" stroke-width="0.6"/>
<path d="M1311.4 1118.8 1328.8 1112 1346.8 1103.2 1360.6 1095.2 1391.7 1075.3 1408.2 1066.1 1403.4 1054.6 1386.7 1063.6 1347.6 1088.5 1336.2 1094.6 1324 1100.3 1307.6 1106.8 1290.1 1112.7 1238 1127.4 1206 1134.7 1175.3 1139.2 1146.6 1141.5 1084.7 1143.9 1061.8 1145.9 1043.9 1148.5 1047.5 1159.4 1061.5 1157.3 1085.1 1155.4 1146.9 1153.9 1161.8 1153.2 1180.7 1151.5 1207 1147.5 1231.2 1142.2 1283.8 1127.5 1311.4 1118.8Z" fill="#63b035" stroke="#63b035" stroke-width="0.6"/>
<path d="M1301.7 1108.9 1324 1100.3 1342 1091.6 1358.4 1081.9 1386.7 1063.6 1403.4 1054.6 1398.6 1043 1382 1052.1 1346 1075.4 1334.7 1081.7 1322.7 1087.5 1310 1092.9 1292.9 1099 1274.9 1104.6 1245 1112.9 1209.5 1121.3 1192.7 1124.3 1174.9 1126.8 1146.5 1129.3 1081.8 1132.7 1058.2 1135 1040.1 1137.4 1043.9 1148.5 1061.8 1145.9 1084.7 1143.9 1146.6 1141.5 1175.3 1139.2 1201.8 1135.4 1226.3 1130.3 1268.1 1119.2 1301.7 1108.9Z" fill="#72b432" stroke="#72b432" stroke-width="0.6"/>
<path d="M1289.6 1100.1 1313.2 1091.6 1334.7 1081.7 1351.3 1072.2 1382 1052.1 1398.6 1043 1393.6 1031.4 1377.5 1040.7 1344.5 1062.6 1324.7 1073.4 1312.4 1079 1295.8 1085.4 1263.5 1095.5 1237 1102.5 1217.3 1107.2 1196.6 1111.2 1179.2 1113.9 1146.7 1117.3 1082.9 1121.3 1041.8 1125.4 1037.9 1131.3 1040.1 1137.4 1058.2 1135 1081.8 1132.7 1146.5 1129.3 1179.4 1126.2 1205.4 1122.1 1229.6 1116.8 1260.1 1108.8 1289.6 1100.1Z" fill="#81b82e" stroke="#81b82e" stroke-width="0.6"/>
<path d="M1300.2 1083.8 1318.7 1076.3 1336.3 1067.4 1349.8 1059.3 1380.1 1039 1393.6 1031.4 1388.4 1019.6 1375.6 1027.7 1348.5 1046.6 1329.6 1057.9 1317.9 1063.8 1305.3 1069.3 1292 1074.3 1274.3 1080.1 1252.1 1086.4 1225.1 1093.1 1204.9 1097.4 1183.6 1101.1 1147.1 1105.3 1084 1109.9 1049.5 1113.2 1041.8 1125.4 1083.3 1121.2 1156.3 1116.5 1174.7 1114.5 1192.4 1111.9 1217.3 1107.2 1244.7 1100.6 1274.5 1092.3 1300.2 1083.8Z" fill="#8fbc2a" stroke="#8fbc2a" stroke-width="0.6"/>
<path d="M1282.4 1077.5 1295.4 1073.1 1308.5 1067.9 1329.6 1057.9 1348.5 1046.6 1375.6 1027.7 1388.4 1019.6 1383.3 1007.8 1349.8 1032.2 1339.6 1039 1328.8 1045.4 1317.2 1051.4 1304.9 1057 1291.7 1062.1 1277.8 1066.8 1255.9 1073.3 1229.1 1080.1 1205 1085.3 1183.8 1089 1147.6 1093.5 1056.8 1101.1 1049.5 1113.2 1084 1109.9 1147.1 1105.3 1183.6 1101.1 1204.9 1097.4 1229 1092.2 1255.9 1085.4 1282.4 1077.5Z" fill="#9ec026" stroke="#9ec026" stroke-width="0.6"/>
<path d="M1289.1 1063 1301.6 1058.3 1314.2 1052.8 1334.3 1042.2 1349.8 1032.2 1383.3 1007.8 1378.9 996.5 1346.3 1021.4 1328.1 1033 1316.7 1039.1 1304.5 1044.7 1291.6 1050 1277.8 1054.8 1256 1061.3 1229.2 1068.1 1205.2 1073.3 1184.1 1077.1 1148.2 1081.7 1064 1089 1056.8 1101.1 1147.6 1093.5 1170.6 1090.9 1188.1 1088.4 1213.1 1083.7 1240.7 1077.3 1267 1070.1 1289.1 1063Z" fill="#aec523" stroke="#aec523" stroke-width="0.6"/>
<path d="M1300.7 1046.3 1319.6 1037.6 1336.1 1028.1 1351.1 1017.8 1373.7 1000.1 1378.9 996.5 1375 985.5 1367.8 990.6 1345.3 1008.8 1327.5 1020.6 1316.3 1026.8 1304.3 1032.6 1291.5 1037.9 1277.9 1042.8 1256.3 1049.3 1233.4 1055.2 1209.6 1060.5 1184.5 1065.2 1144.2 1070.4 1071.2 1077 1064 1089 1152.8 1081.2 1175.4 1078.4 1196.9 1074.9 1225.3 1069 1256 1061.3 1281.3 1053.6 1300.7 1046.3Z" fill="#c3cf25" stroke="#c3cf25" stroke-width="0.6"/>
<path d="M1273.2 1044.3 1291.5 1037.9 1310.4 1029.8 1324.8 1022.2 1340.4 1012.3 1350 1005.3 1367.8 990.6 1375 985.5 1371.5 974.7 1364.3 979.8 1342.1 998.2 1327 1008.3 1316 1014.6 1304.2 1020.5 1291.5 1025.9 1278.1 1030.8 1260.3 1036.4 1237.7 1042.4 1214 1047.8 1189.3 1052.6 1149.6 1058.2 1078.3 1065 1071.2 1077 1144.2 1070.4 1184.5 1065.2 1205.5 1061.4 1229.5 1056.1 1252.6 1050.3 1273.2 1044.3Z" fill="#d8d926" stroke="#d8d926" stroke-width="0.6"/>
<path d="M1276.2 1031.4 1294.8 1024.6 1313.1 1016.1 1327 1008.3 1342.1 998.2 1364.3 979.8 1371.5 974.7 1368.3 964.1 1361.1 969.2 1339 987.6 1323.9 997.7 1312.9 1004 1301.1 1009.8 1278.4 1018.9 1260.7 1024.6 1238.2 1030.6 1214.5 1036 1189.9 1040.8 1150.3 1046.5 1085.4 1053 1078.3 1065 1145 1058.7 1185 1053.3 1210 1048.7 1233.8 1043.3 1256.6 1037.4 1276.2 1031.4Z" fill="#ece427" stroke="#ece427" stroke-width="0.6"/>
<path d="M1279.3 1018.5 1294.8 1012.5 1310 1005.5 1323.9 997.7 1339 987.6 1361.1 969.2 1368.3 964.1 1365.2 953.6 1358.1 958.7 1338.3 975.3 1320.9 987.2 1301.1 997.8 1278.7 1007 1261.2 1012.8 1242.6 1017.9 1219.1 1023.4 1194.7 1028.3 1155.7 1034.3 1092.6 1041 1085.4 1053 1150.3 1046.5 1189.9 1040.8 1214.5 1036 1242 1029.6 1260.7 1024.6 1279.3 1018.5Z" fill="#f4da26" stroke="#f4da26" stroke-width="0.6"/>
<path d="M1283.2 1005.3 1301.1 997.8 1315.5 990.4 1328.7 982.2 1340.6 973.5 1358.1 958.7 1365.2 953.6 1362.3 943.2 1355.2 948.3 1335.5 964.8 1320.7 975.1 1312.6 979.8 1301.1 985.8 1288.8 991.3 1275.7 996.4 1261.7 1001 1243.2 1006.1 1219.8 1011.6 1195.4 1016.6 1156.5 1022.7 1099.9 1028.9 1092.6 1041 1155.7 1034.3 1194.7 1028.3 1219.1 1023.4 1246.4 1016.9 1264.8 1011.7 1283.2 1005.3Z" fill="#f3c324" stroke="#f3c324" stroke-width="0.6"/>
<path d="M1257.3 1002.3 1275.7 996.4 1295.1 988.6 1309.8 981.4 1325.8 971.8 1337.8 963 1355.2 948.3 1362.3 943.2 1359.6 932.8 1352.6 938 1332.8 954.4 1317.9 964.6 1298.3 975.3 1276.1 984.6 1262.3 989.2 1243.9 994.4 1220.5 999.9 1196.2 1004.9 1157.4 1011.1 1107.4 1016.7 1099.9 1028.9 1152 1023.2 1182.8 1018.8 1223.8 1010.8 1257.3 1002.3Z" fill="#f1ab21" stroke="#f1ab21" stroke-width="0.6"/>
<path d="M1257.2 990.8 1276.1 984.6 1295.3 976.7 1309.8 969.4 1325.6 959.6 1335.1 952.6 1352.6 938 1359.6 932.8 1357.1 922.6 1350.1 927.7 1332.5 942.3 1317.9 952.6 1298.5 963.4 1276.5 972.8 1262.9 977.5 1244.7 982.8 1225.3 987.4 1201.1 992.4 1162.8 998.8 1115.2 1004.4 1107.4 1016.7 1157.4 1011.1 1187.8 1006.4 1228.5 998.2 1257.2 990.8Z" fill="#f0931e" stroke="#f0931e" stroke-width="0.6"/>
<path d="M1256.7 979.4 1276.5 972.8 1292.5 966.2 1307.1 958.9 1322.9 949.3 1332.5 942.3 1350.1 927.7 1357.1 922.6 1354.7 912.5 1347.7 917.6 1330 932 1315.2 942.2 1295.8 952.9 1277 961 1263.5 965.8 1245.4 971.1 1210.1 979.2 1168.1 986.6 1123.1 992 1115.2 1004.4 1158.4 999.4 1188.6 994.8 1229.3 986.5 1256.7 979.4Z" fill="#ed7721" stroke="#ed7721" stroke-width="0.6"/>
<path d="M1255.9 968.1 1273.7 962.2 1289.7 955.7 1304.4 948.5 1320.4 938.9 1330 932 1347.7 917.6 1354.7 912.5 1352.6 902.4 1345.5 907.5 1327.6 921.8 1315.3 930.2 1296 941 1277.5 949.2 1264.1 954 1249.9 958.4 1219.1 965.9 1173.4 974.3 1130.9 979.7 1123.1 992 1159.3 987.8 1189.5 983.1 1226.2 975.8 1255.9 968.1Z" fill="#ea5a23" stroke="#ea5a23" stroke-width="0.6"/>
<path d="M1254.8 957 1274.3 950.4 1290.1 943.8 1304.6 936.5 1320.4 926.9 1329.9 920 1345.5 907.5 1352.6 902.4 1350.6 892.4 1343.5 897.4 1325.3 911.6 1312.8 919.9 1296.3 929.1 1278 937.4 1253.4 946 1239.6 949.8 1224.1 953.5 1178.7 962 1138.7 967.4 1130.9 979.7 1164.7 975.6 1194.6 970.7 1231 963.3 1254.8 957Z" fill="#e63d26" stroke="#e63d26" stroke-width="0.6"/>
<path d="M1253.4 946 1271.5 939.9 1287.4 933.4 1302 926.2 1317.9 916.7 1327.6 909.8 1343.5 897.4 1350.6 892.4 1348.7 882.5 1343.3 886.1 1323 901.4 1310.4 909.6 1293.8 918.7 1278.6 925.6 1255.1 934 1229 941 1185.7 949.4 1146.5 955.1 1138.7 967.4 1166.1 964 1199.7 958.3 1231.9 951.7 1253.4 946Z" fill="#e12727" stroke="#e12727" stroke-width="0.6"/>
<path d="M1251.8 935 1268.8 929.4 1284.8 922.9 1299.5 915.8 1315.6 906.4 1348.7 882.5 1346.9 872.6 1320.8 891.2 1305.4 900.9 1285.3 911.1 1266.1 918.9 1245.1 925.6 1222 931.2 1184.9 938.1 1154.6 942.6 1146.5 955.1 1175.2 951.1 1204.8 946 1232.9 940.1 1251.8 935Z" fill="#d72325" stroke="#d72325" stroke-width="0.6"/>
<path d="M1250 924.2 1269.4 917.6 1285.3 911.1 1299.9 903.9 1315.8 894.5 1346.9 872.6 1345.2 862.8 1318.6 881.1 1303 890.6 1285.8 899.3 1266.8 907.1 1246 914 1227 918.8 1194.4 925 1163.2 930 1154.6 942.6 1184.6 938.1 1214 932.8 1233.8 928.5 1250 924.2Z" fill="#cc1f22" stroke="#cc1f22" stroke-width="0.6"/>
<path d="M1248.1 913.3 1266.8 907.1 1282.7 900.7 1297.4 893.6 1313.6 884.3 1345.2 862.8 1343.6 853 1316.5 870.9 1303.4 878.8 1286.3 887.5 1267.4 895.4 1246.8 902.3 1228.1 907.2 1204.4 911.8 1172.1 917.2 1163.2 930 1185.9 926.5 1217.4 920.8 1234.8 916.9 1248.1 913.3Z" fill="#c21b1f" stroke="#c21b1f" stroke-width="0.6"/>
<path d="M1246 902.5 1264.1 896.6 1283.2 888.9 1297.9 881.8 1313.9 872.5 1343.6 853 1342 843.2 1314.4 860.7 1301.1 868.5 1283.8 877.1 1268.1 883.6 1247.7 890.6 1229.1 895.6 1213.1 898.9 1181.3 904.3 1172.1 917.2 1220.1 908.9 1246 902.5Z" fill="#b6191d" stroke="#b6191d" stroke-width="0.6"/>
<path d="M1243.9 891.8 1261.5 886.1 1280.7 878.5 1295.5 871.5 1311.8 862.3 1342 843.2 1340.5 833.4 1312.3 850.6 1298.8 858.2 1284.3 865.3 1268.7 871.9 1252 877.8 1233.9 883.1 1218.3 886.6 1190.8 891.3 1181.3 904.3 1221.2 897.3 1243.9 891.8Z" fill="#a9191c" stroke="#a9191c" stroke-width="0.6"/>
<path d="M1241.8 880.9 1258.8 875.5 1278.2 868 1296 859.7 1312.3 850.6 1340.5 833.4 1339 823.6 1299.3 846.4 1284.9 853.5 1269.4 860.1 1252.7 866.1 1234.8 871.4 1219.4 875 1200.2 878.3 1190.8 891.3 1222.3 885.8 1241.8 880.9Z" fill="#9c191b" stroke="#9c191b" stroke-width="0.6"/>
<path d="M1239.8 870 1259.5 863.8 1275.7 857.5 1293.7 849.3 1310.2 840.4 1339 823.6 1337.5 813.8 1297.1 836.1 1285.5 841.8 1273.2 847.1 1256.9 853.2 1239.4 858.7 1224.4 862.6 1209.2 865.5 1200.2 878.3 1219.4 875 1239.8 870Z" fill="#8f1919" stroke="#8f1919" stroke-width="0.6"/>
<path d="M1237.9 859.1 1263.5 850.8 1288.5 840.4 1305.4 831.7 1337.5 813.8 1337.4 812.7 1325.1 809.7 1294.8 825.8 1273.8 835.3 1247.3 844.8 1232.9 849 1219.8 852.1 1209.2 865.5 1224.4 862.6 1237.9 859.1Z" fill="#891919" stroke="#891919" stroke-width="0.6"/>
<path d="M1236.2 848.1 1257.6 841.4 1280.1 832.7 1297.7 824.4 1325.1 809.7 1318.9 808.4 1308.6 807.3 1289.7 816.8 1274.5 823.5 1254.9 830.8 1234.8 836.9 1227.5 843.8 1219.8 852.1 1236.2 848.1Z" fill="#841919" stroke="#841919" stroke-width="0.6"/>
<path d="M1234.8 836.9 1254.9 830.8 1274.5 823.5 1289.7 816.8 1308.6 807.3 1297.1 807.1 1287.7 808 1278.4 810.3 1268.7 814.2 1262.4 817.4 1252.9 823.1 1243.4 829.8 1234.8 836.9Z" fill="#841919" stroke="#841919" stroke-width="0.6"/>
<path d="M1268.7 814.2 1278.4 810.3 1268.7 814.2Z" fill="#841919" stroke="#841919" stroke-width="0.6"/>
<path d="M1286.6 1382.6 1264.6 1371.9 1251 1363.9 1240.3 1356.7 1208.2 1333.8 1182 1317.2 1176.8 1313.3 1163.8 1301.8 1153.5 1293.6 1125.6 1273.6 1115.5 1265.9 1105.4 1257.4 1095.4 1247.9 1085.3 1236.7 1077.7 1226.6 1070.1 1214.4 1064.9 1204.8 1059.6 1193.2 1054.3 1179.4 1037.9 1131.3M1286.6 1382.6 1339.8 1356.5 1436.8 1308 1554.6 1245.5 1587.6 1230.5M1303.3 1374.2 1275.9 1361.3 1270.4 1358.2 1262.3 1352.7 1222.2 1321.7 1193.3 1301.5 1172.6 1285.4 1147 1266.7 1131.8 1254 1116.6 1239.2 1106.5 1227.6 1098.9 1217.4 1091.2 1205.2 1083.4 1190 1078.1 1177.7 1072.8 1163.6 1053.6 1106.4M1272.8 1376 1309.5 1358.1 1368.4 1327.7 1425.9 1299.8 1476.1 1272.9 1525.3 1247.7 1546.4 1237.7 1573.3 1226.8M1320 1366.2 1292.5 1353.4 1287 1350.3 1278.9 1344.7 1228.1 1304.1 1196.7 1281.8 1168.4 1260.3 1160.8 1253.7 1153.1 1246.5 1140.4 1233 1130.2 1220.5 1120 1206 1112.2 1193.1 1104.4 1177.8 1099.2 1165.9 1091.2 1145.1 1069.3 1080.2M1259.2 1368.9 1289.2 1355.1 1328.6 1333.5 1354.6 1320.1 1415.2 1291.6 1459 1267.8 1489.9 1252 1514.2 1240.4 1559.3 1220.1M1336.5 1358.2 1317.2 1348.6 1306.2 1342.7 1298 1337.6 1287.2 1329.9 1247.1 1298 1213 1272.9 1197.5 1260.8 1187.2 1251.9 1179.5 1244.6 1171.8 1236.5 1164.1 1227.6 1153.9 1214.2 1143.6 1198.7 1133.2 1180.5 1125.4 1164.5 1117.5 1146.3 1109.5 1125.5 1098.7 1094.7 1085.1 1053.5M1245.6 1360.4 1275.6 1346.4 1314.9 1325.1 1337.6 1313.4 1357 1304.1 1398.3 1285.1 1463.7 1251 1488.2 1239.2 1524.4 1222.4 1545.4 1211.9M1352.9 1349.9 1330.8 1338.3 1319.9 1332 1306.3 1323.1 1290.1 1311.2 1234.5 1268.5 1218.9 1255.9 1203.4 1241.3 1195.6 1232.9 1187.9 1223.7 1177.6 1209.6 1167.3 1193.4 1156.9 1174.6 1146.4 1152.9 1138.5 1134.4 1127.9 1106.9 1117.1 1076.3 1100.8 1027.4M1232.2 1350.8 1320.9 1305.8 1384.7 1275.5 1440.8 1247.6 1507.7 1215.6 1531.6 1203.6M1369.3 1341.7 1341.6 1326.7 1322.5 1314.7 1303.6 1301.2 1263.7 1270.8 1245.4 1256.2 1232.4 1244.5 1219.5 1230.9 1209.1 1218.1 1196.2 1199.1 1185.8 1181.3 1175.4 1160.8 1164.9 1137.5 1154.3 1111.4 1143.6 1082.5 1116.6 1002.3M1218.8 1341.2 1242.1 1328.3 1271.7 1313.4 1371.1 1265 1469.9 1218.1 1517.9 1194.4M1385.5 1333.5 1357.8 1318.5 1338.7 1306.7 1317.1 1291.3 1279.8 1263 1264.1 1250.2 1251.1 1238.2 1238.1 1224 1227.7 1210.4 1219.9 1198.7 1214.7 1190.1 1204.3 1170.9 1193.8 1148.9 1183.3 1124.2 1172.7 1096.9 1162.1 1067.1 1132.4 977.4M1205.6 1332 1225.5 1319.7 1245.2 1309 1303.7 1281.3 1360.9 1252.5 1410.6 1230.2 1438.2 1217.2 1504.4 1184M1401.6 1325.5 1373.9 1310.8 1354.7 1299 1333.1 1283.5 1295.8 1254.8 1280.1 1241.9 1267 1229.6 1256.6 1217.9 1246.2 1203.9 1235.8 1187.2 1225.4 1167.6 1214.9 1145 1201.8 1112.9 1191.2 1084.4 1180.6 1053.5 1167.1 1012.4 1148.2 952.5M1192.5 1323.8 1215.6 1307.8 1222.1 1303.9 1232 1298.7 1293.6 1269.5 1347.5 1241.4 1394.2 1221 1424.8 1206.7 1491 1173.1M1417.7 1317.5 1389.8 1303.5 1381.6 1298.7 1370.7 1291.7 1351.7 1277.8 1306.4 1242.3 1290.7 1228.9 1280.3 1218.4 1269.8 1205.7 1262.1 1194.5 1251.7 1176.5 1241.2 1155.2 1230.8 1130.7 1220.3 1103.5 1209.7 1073.8 1196.4 1033.5 1164 928.8M1179.4 1315.3 1202.5 1298.9 1212.3 1292.9 1222.1 1287.6 1280.4 1259.3 1337.4 1229.6 1396.3 1202.3 1429.8 1186.2 1459.8 1170.9 1477.7 1161.3M1433.6 1309.6 1408.5 1297.7 1397.4 1291.6 1383.8 1282.5 1364.8 1268 1338.1 1246.2 1316.9 1229.7 1306.5 1220.5 1298.6 1212.6 1290.8 1203.7 1283 1193.3 1277.8 1185.3 1270 1171.4 1259.6 1149.3 1249.2 1123.8 1236 1088.1 1225.5 1056.7 1214.9 1023.3 1179.9 906.3M1166.4 1304 1192.7 1287.5 1218.9 1273.1 1273.7 1245.2 1355.4 1202.6 1383.1 1189 1434.7 1164.8 1464.5 1149.3M1449.4 1301.3 1424.3 1289.7 1413.2 1283.7 1399.5 1274.7 1380.6 1260.5 1335.3 1223.8 1324.8 1214.5 1316.9 1206.6 1309.1 1197.6 1301.3 1187.2 1296.1 1179.3 1288.3 1165.6 1277.9 1143.4 1267.5 1117.6 1254.4 1081.1 1243.9 1048.9 1233.3 1014.5 1195.7 884.6M1153.5 1293.6 1170 1283.5 1205.9 1263.1 1247.9 1239.9 1298.6 1212.6 1339.2 1189.3 1354.7 1180.8 1379.2 1168.8 1430.6 1146.6 1451.4 1135.9M1465.2 1292.8 1437.2 1279.6 1420.7 1270.2 1409.7 1263 1398.9 1255.1 1372.1 1234 1350.9 1216.3 1343 1208.9 1335.1 1200.7 1327.3 1191.4 1322.1 1184.5 1311.7 1168.4 1301.3 1148.6 1290.9 1125.1 1280.5 1097.9 1270.1 1067.4 1259.6 1034.1 1249.1 998.3 1211.6 862.3M1140.8 1284.5 1234.9 1225.9 1254 1214.6 1291.9 1193.2 1326.2 1170.8 1341.7 1161.6 1354 1155.1 1366.2 1149.4 1381.5 1143.3 1417.6 1130 1429.5 1124.7 1438.5 1120.1M1480.8 1284.4 1452.8 1271.1 1433.5 1260.4 1422.6 1253.4 1411.7 1245.8 1387.6 1227.3 1369 1211.3 1361.1 1203.7 1353.3 1195.3 1345.4 1185.8 1340.2 1178.8 1329.8 1162.6 1319.5 1143.2 1309.1 1120.3 1298.7 1093.6 1285.8 1055.5 1275.3 1021.4 1264.8 984.5 1227.5 843.8M1128.1 1275.4 1160.8 1253.7 1209.1 1218.1 1228.3 1204.5 1247.4 1191.9 1278.9 1172.3 1310.1 1149.5 1328.7 1137.6 1341.1 1131 1356.4 1124.3 1371.6 1119.1 1401.8 1110.3 1413.7 1105.9 1425.6 1100.4M1496.4 1276.3 1465.5 1261.6 1446.2 1250.9 1424.5 1236.7 1403 1220.4 1384.4 1204.1 1371.3 1190.5 1363.4 1181 1358.2 1174.1 1350.4 1162.4 1345.3 1153.8 1337.5 1139.4 1332.3 1128.7 1322 1104.7 1311.7 1077.1 1301.3 1046 1290.9 1011.5 1280.5 973.9 1243.4 829.8M1115.5 1265.9 1135 1251.6 1151.2 1238.7 1199.4 1196.4 1221.7 1177.8 1237.5 1165.5 1265.9 1144.5 1294.1 1122.7 1309.6 1111.9 1325.1 1103.1 1334.4 1098.9 1343.6 1095.4 1358.8 1091.1 1392 1083.6 1404 1079.9 1412.9 1076.4M1511.8 1268.2 1480.9 1253.7 1469.9 1248 1458.9 1241.7 1448 1234.9 1437.1 1227.5 1415.7 1211.1 1399.8 1196.9 1391.9 1188.9 1384 1180.1 1376.2 1170.2 1371 1162.9 1363.2 1150.7 1358 1141.8 1350.3 1126.8 1345.1 1115.8 1334.9 1091.2 1324.6 1063 1314.3 1031.2 1303.9 995.9 1293.5 957.3 1259.2 819.1M1102.9 1255.1 1119.2 1241.8 1135.3 1227 1148.1 1213.9 1189.5 1169.8 1214.9 1145 1233.9 1128 1265.4 1100.8 1277.9 1090.5 1290.4 1081.2 1299.8 1075 1309.1 1069.7 1318.4 1065.4 1327.7 1062 1336.9 1059.5 1346 1057.8 1370.3 1054.9 1379.3 1053.4 1388.3 1051.2 1400.3 1047M1527.2 1260 1496.2 1246.2 1476.9 1236.1 1465.9 1229.4 1455.1 1222.1 1433.6 1205.9 1415 1189.7 1407.1 1181.8 1399.2 1173.1 1391.4 1163.4 1386.2 1156.3 1378.4 1144.4 1373.3 1135.7 1365.6 1121.1 1360.4 1110.3 1350.2 1086.3 1337.4 1051.4 1327.1 1019.4 1316.8 983.7 1306.5 944.2 1296.1 901.5 1275.1 811.5M1090.4 1242.6 1106.5 1227.6 1119.3 1213.6 1132.1 1198.1 1173.3 1145.7 1186 1130.6 1201.8 1112.9 1220.8 1093.1 1246 1068.2 1261.7 1053.8 1277.4 1041.1 1289.9 1032.7 1299.3 1027.6 1308.6 1023.7 1321 1020.4 1330.2 1019.1 1339.4 1018.8 1363.6 1020.1 1372.7 1020.1 1381.7 1019.1 1387.6 1017.8M1542.5 1251.8 1514.2 1240.4 1505.9 1236.4 1494.8 1230.5 1483.8 1223.9 1473 1216.7 1451.4 1200.5 1430.1 1182.3 1422.2 1174.7 1414.4 1166.3 1406.5 1157 1398.7 1146.6 1391 1134.8 1385.8 1126 1378.1 1111.4 1373 1100.6 1360.3 1070.2 1347.5 1034.6 1337.3 1002.1 1327.1 965.5 1316.8 924.4 1290.8 807.6M1077.7 1226.6 1090.6 1213.3 1103.3 1197.3 1150.6 1127.1 1166.4 1105.2 1185.4 1080.7 1207.5 1054.4 1232.8 1026.6 1248.6 1010.4 1264.3 996.4 1276.8 987.3 1283.1 983.6 1289.4 980.5 1295.6 978 1301.8 976.1 1311.2 974.4 1320.4 974.1 1329.7 975.1 1338.8 977.1 1363 984.6 1369 985.7 1375 985.7M1557.7 1244 1532.1 1234.8 1523.8 1231 1515.4 1226.7 1504.4 1220.2 1493.5 1213.1 1482.6 1205.4 1471.9 1197.1 1445.2 1174.8 1434.7 1164.8 1426.8 1156.6 1419 1147.5 1411.2 1137.2 1403.5 1125.5 1398.3 1116.9 1393.2 1107.3 1385.5 1091.5 1372.8 1061.4 1360.1 1027.1 1347.5 987.7 1337.3 950.6 1329.7 918.9 1322 883.7 1306.5 807.2M1064.9 1204.8 1074.5 1193 1087.1 1174.6 1131 1101.9 1149.9 1073.1 1168.9 1046 1191 1016.7 1216.3 985.7 1235.3 963.8 1244.7 954 1251.1 948.1 1260.5 940.3 1266.8 935.9 1273.1 932.1 1279.4 929 1285.7 926.5 1291.9 924.6 1298.2 923.5 1304.4 923.1 1313.7 923.8 1323 926.1 1332.2 929.9 1353.4 941.4 1359.5 943.4 1362.5 943.8M1572.7 1237.2 1552.8 1230.7 1544.3 1226.9 1536 1222.6 1522.2 1214.6 1511.2 1207.6 1500.3 1200 1489.5 1191.7 1476.1 1180.8 1460.2 1167 1449.6 1157.3 1441.8 1149.4 1433.9 1140.7 1426.2 1131 1418.4 1119.8 1413.3 1111.5 1405.6 1097.6 1400.5 1087.3 1387.8 1058.3 1370.1 1013.4 1362.6 991.7 1357.5 975.5 1347.4 938.3 1339.8 905.2 1332.2 866.4 1322 809M1051.6 1171.7 1061.1 1158 1070.5 1142.9 1105 1084 1120.7 1058.2 1142.8 1023.8 1161.7 995.5 1183.9 964.5 1215.5 923.2 1228.2 907.7 1240.9 894.5 1247.2 888.9 1253.5 884 1259.9 879.7 1269.4 874.4 1275.7 871.6 1282 869.4 1288.2 867.9 1294.5 867.1 1300.8 867 1307 867.7 1313.2 869.1 1319.4 871.3 1328.6 875.9 1343.9 886.5 1346.9 888.2 1349.9 889.3M1587.6 1230.5 1573.3 1226.8 1564.9 1223.1 1556.5 1218.5 1531.6 1203.6 1523.4 1198.3 1512.5 1190.3 1496.4 1177.5 1488.4 1170.8 1467.2 1151.8 1451.4 1135.9 1443.6 1126.9 1438.5 1120.1 1430.7 1108.8 1425.6 1100.4 1418 1086.6 1410.4 1071 1385.1 1012 1377.5 992.9 1370 969.8 1360 934.3 1352.4 901.8 1344.9 861.3 1337.4 812.7M1037.9 1131.3 1050.5 1111.6 1103.9 1022.2 1151.3 947.6 1173.5 915.2 1208.4 866.7 1214.7 858.2 1224.3 847.1 1237 835 1243.4 829.8 1252.9 823.1 1262.4 817.4 1268.7 814.2 1275.1 811.5 1281.4 809.4 1287.7 808 1294 807.3 1306.5 807.2 1322 809 1334.3 812.3 1337.4 812.7" fill="none" stroke="#0a0a0a" stroke-width="1.55" stroke-linejoin="round"/>
<path d="M1286.6 1382.6 1339.8 1356.5 1436.8 1308 1554.6 1245.5 1587.6 1230.5M1587.6 1230.5 1573.3 1226.8 1564.9 1223.1 1556.5 1218.5 1531.6 1203.6 1523.4 1198.3 1512.5 1190.3 1496.4 1177.5 1488.4 1170.8 1467.2 1151.8 1451.4 1135.9 1443.6 1126.9 1438.5 1120.1 1430.7 1108.8 1425.6 1100.4 1418 1086.6 1410.4 1071 1385.1 1012 1377.5 992.9 1370 969.8 1360 934.3 1352.4 901.8 1344.9 861.3 1337.4 812.7M1037.9 1131.3 1050.5 1111.6 1103.9 1022.2 1151.3 947.6 1173.5 915.2 1208.4 866.7 1214.7 858.2 1224.3 847.1 1237 835 1243.4 829.8 1252.9 823.1 1262.4 817.4 1268.7 814.2 1275.1 811.5 1281.4 809.4 1287.7 808 1294 807.3 1306.5 807.2 1322 809 1334.3 812.3 1337.4 812.7M1286.6 1382.6 1264.6 1371.9 1251 1363.9 1240.3 1356.7 1208.2 1333.8 1182 1317.2 1176.8 1313.3 1163.8 1301.8 1153.5 1293.6 1125.6 1273.6 1115.5 1265.9 1105.4 1257.4 1095.4 1247.9 1085.3 1236.7 1077.7 1226.6 1070.1 1214.4 1064.9 1204.8 1059.6 1193.2 1054.3 1179.4 1037.9 1131.3" fill="none" stroke="#0a0a0a" stroke-width="1.8" stroke-linejoin="round" stroke-linecap="round"/>
<circle cx="1095" cy="1179.8" r="6.1" fill="#fff" stroke="#1f4a9c" stroke-width="2.5"/>
<circle cx="1093.9" cy="1168.7" r="6.1" fill="#fff" stroke="#1f4a9c" stroke-width="2.5"/>
<circle cx="1093.9" cy="1159.5" r="6.1" fill="#fff" stroke="#1f4a9c" stroke-width="2.5"/>
<circle cx="1220.6" cy="1022.8" r="6.1" fill="#fff" stroke="#1f4a9c" stroke-width="2.5"/>
<circle cx="1219.5" cy="1011.7" r="6.1" fill="#fff" stroke="#1f4a9c" stroke-width="2.5"/>
<circle cx="1219.5" cy="999.8" r="6.1" fill="#fff" stroke="#1f4a9c" stroke-width="2.5"/>
<circle cx="1219.5" cy="985.8" r="6.1" fill="#fff" stroke="#1f4a9c" stroke-width="2.5"/>
<g transform="translate(1400.5,1124.4) rotate(-27)"><path d="M-5.9 1.6A6.1 6.1 0 1 1 5.9 1.6Z" fill="#fff"/><path d="M-5.9 1.6A6.1 6.1 0 1 1 5.9 1.6" fill="none" stroke="#1f4a9c" stroke-width="2.7"/></g>
<circle cx="1398.7" cy="1109.6" r="6.1" fill="#fff" stroke="#1f4a9c" stroke-width="2.5"/>
<circle cx="1398.7" cy="1104" r="6.1" fill="#fff" stroke="#1f4a9c" stroke-width="2.5"/>
<circle cx="1155.6" cy="1259.9" r="6.1" fill="#fff" stroke="#1f4a9c" stroke-width="2.5"/>
<circle cx="1281.6" cy="1178.7" r="6.1" fill="#fff" stroke="#1f4a9c" stroke-width="2.5"/>
<circle cx="1281.6" cy="1173.5" r="6.1" fill="#fff" stroke="#1f4a9c" stroke-width="2.5"/>
<circle cx="1281.6" cy="1168.7" r="6.1" fill="#fff" stroke="#1f4a9c" stroke-width="2.5"/>
<g transform="translate(1461.5,1187.2) rotate(-27)"><path d="M-5.9 1.6A6.1 6.1 0 1 1 5.9 1.6Z" fill="#fff"/><path d="M-5.9 1.6A6.1 6.1 0 1 1 5.9 1.6" fill="none" stroke="#1f4a9c" stroke-width="2.7"/></g>
<g transform="translate(1216.9,1304.6) rotate(-27)"><path d="M-5.9 1.6A6.1 6.1 0 1 1 5.9 1.6Z" fill="#fff"/><path d="M-5.9 1.6A6.1 6.1 0 1 1 5.9 1.6" fill="none" stroke="#1f4a9c" stroke-width="2.7"/></g>
<g transform="translate(1344.4,1240.7) rotate(-27)"><path d="M-5.9 1.6A6.1 6.1 0 1 1 5.9 1.6Z" fill="#fff"/><path d="M-5.9 1.6A6.1 6.1 0 1 1 5.9 1.6" fill="none" stroke="#1f4a9c" stroke-width="2.7"/></g>
<g transform="translate(1526.2,1231.5) rotate(-27)"><path d="M-5.9 1.6A6.1 6.1 0 1 1 5.9 1.6Z" fill="#fff"/><path d="M-5.9 1.6A6.1 6.1 0 1 1 5.9 1.6" fill="none" stroke="#1f4a9c" stroke-width="2.7"/></g>
<g transform="translate(1280.5,1354.5) rotate(-27)"><path d="M-5.9 1.6A6.1 6.1 0 1 1 5.9 1.6Z" fill="#fff"/><path d="M-5.9 1.6A6.1 6.1 0 1 1 5.9 1.6" fill="none" stroke="#1f4a9c" stroke-width="2.7"/></g>
<g transform="translate(1407.9,1289.5) rotate(-27)"><path d="M-5.9 1.6A6.1 6.1 0 1 1 5.9 1.6Z" fill="#fff"/><path d="M-5.9 1.6A6.1 6.1 0 1 1 5.9 1.6" fill="none" stroke="#1f4a9c" stroke-width="2.7"/></g>
<path d="M1043.2 1240.5L1026.7 901.3M1043.2 1240.5L1286.8 1422.5M1286.8 1422.5L1585.8 1268.3M1043.2 1240.5l5.5 -2.5M1042.8 1233.2l2.9 -1.3M1042.5 1225.9l2.9 -1.3M1042.1 1218.6l2.9 -1.3M1041.8 1211.3l5.5 -2.5M1041.4 1203.9l2.9 -1.3M1041.1 1196.6l2.9 -1.3M1040.7 1189.2l2.9 -1.3M1040.3 1181.8l5.5 -2.5M1040 1174.3l2.9 -1.3M1039.6 1166.9l2.9 -1.3M1039.2 1159.4l2.9 -1.3M1038.9 1151.9l5.5 -2.4M1038.5 1144.4l2.9 -1.3M1038.1 1136.9l2.9 -1.3M1037.8 1129.3l2.9 -1.3M1037.4 1121.8l5.5 -2.4M1037 1114.2l2.9 -1.3M1036.7 1106.6l2.9 -1.3M1036.3 1098.9l2.9 -1.3M1035.9 1091.3l5.5 -2.4M1035.6 1083.6l2.9 -1.3M1035.2 1075.9l2.9 -1.3M1034.8 1068.2l2.9 -1.3M1034.4 1060.5l5.5 -2.4M1034 1052.7l2.9 -1.3M1033.7 1045l2.9 -1.2M1033.3 1037.2l2.9 -1.2M1032.9 1029.3l5.5 -2.3M1032.5 1021.5l3 -1.2M1032.1 1013.7l3 -1.2M1031.8 1005.8l3 -1.2M1031.4 997.9l5.5 -2.3M1031 989.9l3 -1.2M1030.6 982l3 -1.2M1030.2 974l3 -1.2M1029.8 966l5.6 -2.3M1029.4 958l3 -1.2M1029 950l3 -1.2M1028.7 941.9l3 -1.2M1028.3 933.9l5.6 -2.2M1027.9 925.8l3 -1.2M1027.5 917.6l3 -1.2M1027.1 909.5l3 -1.2M1026.7 901.3l5.6 -2.2M1286.8 1422.5l5.3 -2.7M1280.3 1417.6l2.8 -1.5M1273.8 1412.8l2.8 -1.5M1267.3 1408l2.8 -1.5M1260.9 1403.2l2.9 -1.5M1254.5 1398.4l5.3 -2.7M1248.1 1393.6l2.9 -1.4M1241.7 1388.8l2.9 -1.4M1235.3 1384.1l2.9 -1.4M1229 1379.3l2.9 -1.4M1222.7 1374.6l5.4 -2.7M1216.4 1369.9l2.9 -1.4M1210.1 1365.2l2.9 -1.4M1203.9 1360.6l2.9 -1.4M1197.7 1355.9l2.9 -1.4M1191.5 1351.3l5.4 -2.7M1185.3 1346.7l2.9 -1.4M1179.1 1342.1l2.9 -1.4M1173 1337.5l2.9 -1.4M1166.9 1332.9l2.9 -1.4M1160.8 1328.4l5.4 -2.6M1154.7 1323.8l2.9 -1.4M1148.7 1319.3l2.9 -1.4M1142.6 1314.8l2.9 -1.4M1136.6 1310.3l2.9 -1.4M1130.6 1305.8l5.4 -2.6M1124.7 1301.4l2.9 -1.4M1118.7 1296.9l2.9 -1.4M1112.8 1292.5l2.9 -1.4M1106.9 1288.1l2.9 -1.4M1101 1283.7l5.4 -2.6M1095.1 1279.3l2.9 -1.4M1089.3 1274.9l2.9 -1.4M1083.4 1270.6l2.9 -1.4M1077.6 1266.2l2.9 -1.4M1071.8 1261.9l5.4 -2.5M1066.1 1257.6l2.9 -1.3M1060.3 1253.3l2.9 -1.3M1054.6 1249l2.9 -1.3M1048.9 1244.7l2.9 -1.3M1043.2 1240.5l5.5 -2.5M1286.8 1422.5l-4.8 -3.6M1300 1415.7l-2.6 -1.9M1313.1 1409l-4.8 -3.6M1326.1 1402.2l-2.6 -1.9M1339.1 1395.6l-4.8 -3.5M1352 1388.9l-2.6 -1.9M1364.8 1382.3l-4.9 -3.5M1377.6 1375.7l-2.6 -1.9M1390.3 1369.1l-4.9 -3.5M1403 1362.6l-2.6 -1.8M1415.6 1356.1l-4.9 -3.5M1428.1 1349.6l-2.6 -1.8M1440.6 1343.2l-4.9 -3.4M1453 1336.8l-2.6 -1.8M1465.4 1330.4l-4.9 -3.4M1477.7 1324.1l-2.6 -1.8M1489.9 1317.8l-5 -3.4M1502.1 1311.5l-2.6 -1.8M1514.2 1305.2l-5 -3.4M1526.3 1299l-2.7 -1.8M1538.3 1292.8l-5 -3.3M1550.3 1286.7l-2.7 -1.8M1562.1 1280.5l-5 -3.3M1574 1274.4l-2.7 -1.8M1585.8 1268.3l-5 -3.3M1567.4 1277.8l-2.7 -1.8M1573 1274.9l-2.7 -1.8M1577.3 1272.7l-2.7 -1.8M1581.5 1270.5l-2.7 -1.7" stroke="#000" stroke-width="1.4" fill="none" stroke-linecap="square"/>
<text transform="translate(1023.8,1230.3) rotate(-22)" font-size="23" text-anchor="end" font-style="italic">0</text>
<text transform="translate(1020.9,1170.9) rotate(-22)" font-size="23" text-anchor="end" font-style="italic">40</text>
<text transform="translate(1017.9,1110.3) rotate(-22)" font-size="23" text-anchor="end" font-style="italic">80</text>
<text transform="translate(1014.9,1048.3) rotate(-22)" font-size="23" text-anchor="end" font-style="italic">120</text>
<text transform="translate(1011.8,985) rotate(-22)" font-size="23" text-anchor="end" font-style="italic">160</text>
<text transform="translate(1008.7,920.3) rotate(-22)" font-size="23" text-anchor="end" font-style="italic">200</text>
<text transform="translate(1058.8,1275.9) rotate(-33)" font-size="22" text-anchor="end">3000</text>
<text transform="translate(1117.6,1319.8) rotate(-33)" font-size="22" text-anchor="end">300</text>
<text transform="translate(1178.5,1365.3) rotate(-33)" font-size="22" text-anchor="end">30</text>
<text transform="translate(1241.5,1412.4) rotate(-33)" font-size="22" text-anchor="end">3</text>
<text transform="translate(1340.1,1428.6) rotate(-33)" font-size="22" text-anchor="middle">1</text>
<text transform="translate(1466.4,1363.4) rotate(-33)" font-size="22" text-anchor="middle">10</text>
<text transform="translate(1581.4,1304.1) rotate(-33)" font-size="22" text-anchor="middle">90</text></g>
<g id="pe"><path d="M155.8 2063.2L139.5 1722.3M403 2249.3L155.8 2063.2M181.6 2051.3L167 1711.3M429.5 2235.7L181.6 2051.3M207.2 2039.5L194.1 1700.4M455.6 2222.2L207.2 2039.5M232.5 2027.8L221 1689.6M481.5 2208.9L232.5 2027.8M257.7 2016.2L247.7 1678.9M507.2 2195.7L257.7 2016.2M282.6 2004.8L274.1 1668.3M532.7 2182.6L282.6 2004.8M307.3 1993.4L300.2 1657.8M557.9 2169.6L307.3 1993.4M331.7 1982.1L326.2 1647.4M582.8 2156.8L331.7 1982.1M356 1970.9L351.9 1637.1M607.6 2144L356 1970.9M380.1 1959.8L377.3 1626.9M632.1 2131.4L380.1 1959.8M403.9 1948.9L402.5 1616.8M656.4 2118.9L403.9 1948.9M427.6 1938L427.5 1606.8M680.5 2106.5L427.6 1938M451.1 1927.2L452.3 1596.9M704.3 2094.3L451.1 1927.2M704.3 2094.3L721 1751M403 2249.3L704.3 2094.3M670.9 2072.2L685.4 1730.6M370.3 2224.6L670.9 2072.2M637.9 2050.5L650.4 1710.5M338.1 2200.4L637.9 2050.5M605.5 2029.1L616 1690.8M306.4 2176.5L605.5 2029.1M573.7 2008.1L582.1 1671.4M275.3 2153.1L573.7 2008.1M542.3 1987.3L548.9 1652.3M244.7 2130.1L542.3 1987.3M511.4 1967L516.2 1633.5M214.5 2107.4L511.4 1967M481 1946.9L484 1615M184.9 2085.1L481 1946.9M451.1 1927.2L452.3 1596.9M155.8 2063.2L451.1 1927.2M154.4 2033.8L451.2 1898.6M451.2 1898.6L705.8 2064.7M151.5 1974.1L451.4 1840.6M451.4 1840.6L708.7 2004.6M148.6 1913.1L451.6 1781.5M451.6 1781.5L711.7 1943.2M145.7 1850.8L451.8 1721.2M451.8 1721.2L714.7 1880.5M142.6 1787.2L452.1 1659.6M452.1 1659.6L717.8 1816.5M139.5 1722.3L452.3 1596.9M452.3 1596.9L721 1751M139.5 1722.3L452.3 1596.9M452.3 1596.9L721 1751" stroke="#d2d2d2" stroke-width="1.1" fill="none"/>
<circle cx="338.2" cy="1985" r="6.1" fill="#fff" stroke="#1f4a9c" stroke-width="2.5"/>
<circle cx="515" cy="1972.5" r="6.1" fill="#fff" stroke="#1f4a9c" stroke-width="2.5"/>
<path d="M403 2235 508.6 2172.1 569.4 2136.5 561.5 2133.7 556.6 2132.8 547 2132.1 537.6 2132.3 520.8 2134 463.8 2143.3 435.9 2147.1 406.3 2149.6 379.5 2150.3 350.6 2148.8 339.7 2147.5 324.6 2145.1 302.4 2139.6 290.7 2135.5 283.9 2132.6 307.5 2152.4 367 2204.7 403 2235ZM618.5 2010.7 621.6 2012.2 610.8 2005.6 594.5 1996.3 572.9 1985.7 551.5 1977.5 525.1 1970 511.9 1967.3 479.5 1965.3 454.8 1965.3 429.7 1966.8 400.3 1970.5 371.8 1975.9 337.7 1984.2 299.4 1994.9 277.5 2002.3 252.2 2011.9 155.3 2053.4 184.5 2067.4 204.3 2077.9 224.3 2090 246.3 2104.6 238.7 2093.7 236.2 2088.7 234.1 2083.5 232.8 2078 232.2 2072.1 233.3 2062.5 235.2 2056.4 237.4 2051.5 243 2042.6 251.4 2033 263.3 2022.8 276.9 2013.7 291.7 2005.6 307.7 1998.4 328 1990.7 353.2 1982.8 383.1 1974.9 405.4 1970.4 424.7 1967.9 448.8 1966.8 470.8 1967.7 493.3 1970.5 524.6 1976.5 549.4 1982.7 572 1990.1 592.7 1998.4 618.5 2010.7Z" fill="#1b6441" stroke="#1b6441" stroke-width="0.6"/>
<path d="M569.4 2136.5 632.5 2100.2 706.1 2058.7 686 2049 666.2 2038.6 646.6 2027.4 621.6 2012.2 596 1999.9 579.1 1992.7 561 1986.2 545.4 1981.6 524.6 1976.5 497.9 1971.2 478.7 1968.5 456.9 1966.9 437.8 1967 415.8 1968.9 395.2 1972.3 375.5 1976.7 349.5 1983.9 324.6 1991.9 304.4 1999.7 285.7 2008.7 268.6 2019 255.8 2028.9 251.2 2033.2 244.9 2040.2 241.1 2045.2 237.4 2051.5 235.2 2056.4 233.3 2062.5 232.2 2072.1 232.8 2078 234.1 2083.5 236.2 2088.7 238.7 2093.7 246.3 2104.6 265.4 2118.2 283.9 2132.6 290.7 2135.5 302.4 2139.6 319.9 2144.1 339.7 2147.5 356.3 2149.3 374.6 2150.2 395.8 2150.1 416.4 2148.9 440.7 2146.5 468.3 2142.6 520.8 2134 537.6 2132.3 547 2132.1 556.6 2132.8 561.5 2133.7 569.4 2136.5ZM446 2045.8 435 2049.4 427.1 2051.5 418.5 2053 409.2 2054.1 398.7 2054.4 389.9 2053.8 376 2051 368.6 2048.3 362.5 2044.9 357.6 2041 353.8 2036.6 351.2 2031.7 350.2 2027.8 349.9 2023.2 350.9 2017 353.2 2012.5 355.8 2009.2 360.4 2005 365.9 2001.4 372.1 1998.3 378.8 1995.7 393.8 1991.4 419.2 1987.1 438.3 1985.7 454.9 1986.2 464.4 1987.5 473 1989.4 483.6 1993.6 488.9 1997.2 491 1999.3 493.8 2004.1 494.4 2006.9 494.2 2010.1 493 2013.8 490.2 2018.2 486.6 2022.1 476.6 2029.9 462.3 2038.4 446 2045.8Z" fill="#16873c" stroke="#16873c" stroke-width="0.6"/>
<path d="M445.5 2046 462.3 2038.4 476.6 2029.9 486.6 2022.1 490.2 2018.2 493 2013.8 494.2 2010.1 494.4 2006.9 493.8 2004.1 491 1999.3 488.9 1997.2 483.6 1993.6 473 1989.4 464.4 1987.5 454.9 1986.2 438.3 1985.7 419.2 1987.1 393.8 1991.4 378.8 1995.7 372.1 1998.3 365.9 2001.4 360.4 2005 355.8 2009.2 353.2 2012.5 350.9 2017 349.9 2023.2 350.2 2027.8 351.2 2031.7 353.8 2036.6 357.6 2041 362.5 2044.9 368.6 2048.3 376 2051 389.9 2053.8 398.7 2054.4 409 2054.1 418.5 2053 427.1 2051.5 435 2049.4 445.5 2046Z" fill="#4baf3c" stroke="#4baf3c" stroke-width="0.6"/>
<path d="M403 2235 364.3 2202.3 296.9 2143.3 278.4 2128.2 262.8 2116.3 234.5 2096.6 211.8 2082.3 186.9 2068.7 155.3 2053.4M403 2235 505.4 2174 560.1 2141.9 629.4 2102 706.1 2058.7M419.7 2225.1 378.2 2190 310.8 2129.6 292.3 2114.4 276.7 2102.7 248.4 2083.7 225.6 2070.5 203.3 2059.7 171.7 2046.7M389.1 2223.4 491.4 2162.8 546 2131.3 615.2 2092.8 691.7 2051.8M436.4 2215.1 414.1 2196.7 394.8 2179.9 340.6 2129.5 324.6 2115.2 308.8 2102.1 293.1 2090.3 280.1 2081.6 264.7 2071.9 252 2064.7 241.9 2059.5 232 2055 219.6 2050.2 188 2039.7M375.3 2211.7 477.4 2150.9 532 2119.9 569.9 2099.2 601.1 2082.8 677.5 2044.6M453 2205.3 430.7 2186.9 411.3 2169.8 392.2 2151.9 357 2117.6 341 2102.8 325.1 2089.4 309.4 2077.6 296.4 2069 281 2059.7 268.2 2052.9 258.2 2048.3 248.2 2044.4 235.8 2040.4 204.2 2032.6M361.5 2200 463.6 2138.2 489.4 2123.2 518.2 2107.3 556 2087.3 587.2 2071.8 617.9 2057.3 663.4 2037M469.4 2195.4 447.1 2177 425 2157.2 408.6 2141.3 373.4 2105.7 357.3 2090.3 341.4 2076.6 325.6 2064.9 312.6 2056.5 297.2 2047.5 284.4 2041.2 274.3 2037 264.3 2033.7 251.9 2030.7 220.3 2025.5M347.9 2188 449.9 2124.5 475.7 2109.4 504.4 2093.7 542.2 2074.4 573.4 2059.8 604.1 2046.8 649.4 2029M485.8 2185.6 463.5 2167.3 441.4 2147.2 424.9 2130.9 387 2091.3 370.9 2075.7 355 2062.1 341.8 2052.5 328.8 2044.2 313.3 2035.6 300.5 2029.7 290.4 2026.1 280.3 2023.4 267.9 2021.2 255.6 2019.9 236.3 2018.6M334.3 2176.1 357.6 2161.3 413.5 2124.5 436.2 2110 462 2094.7 490.7 2079.1 528.6 2060.5 559.6 2047 590.3 2035.6 635.5 2020.7M502.1 2175.9 479.8 2157.7 457.6 2137.4 441.2 2120.7 403.2 2080.1 387.1 2064.2 371.1 2050.4 355.3 2039.1 342.3 2031.3 329.3 2024.5 316.5 2019 306.4 2015.8 296.3 2013.6 283.9 2012.2 274 2011.9 252.2 2011.9M320.9 2164.1 344.1 2148.8 399.9 2110.3 422.6 2095.3 448.4 2079.6 477.1 2064.2 514.9 2046.3 530.5 2039.7 546 2033.8 561.4 2028.6 576.6 2024.1 621.7 2012.3M518.4 2166.3 495.9 2148.3 484.8 2138.4 473.8 2127.9 454.6 2108.1 419.3 2069.6 403.2 2053.5 387.2 2039.6 379.3 2033.7 371.4 2028.4 358.3 2020.9 345.4 2014.3 332.5 2009.2 322.3 2006.4 312.3 2004.7 299.8 2004 289.9 2004.3 268 2005.7M307.5 2152.4 330.7 2136.6 386.4 2096.3 409.1 2080.8 434.9 2064.8 447.7 2057.6 463.6 2049.4 485.7 2039.1 501.4 2032.2 517 2026.1 532.5 2020.9 547.8 2016.5 563 2012.8 608.1 2004M534.5 2156.9 512 2139 500.9 2129.2 489.9 2118.7 470.7 2098.8 435.4 2060.1 419.3 2043.8 403.3 2030 395.3 2024.1 387.4 2019 374.3 2011.6 361.3 2005.4 348.4 2000.6 338.2 1998.2 328.1 1996.9 315.6 1996.7 305.7 1997.5 283.8 2000.1M294.2 2141.1 317.4 2124.8 373 2083.1 395.7 2067.1 408.6 2058.6 421.4 2050.8 434.2 2043.7 450.1 2035.7 472.2 2025.6 487.9 2019.1 503.5 2013.5 519 2008.8 534.3 2005.1 549.5 2002.3 594.5 1996.3M550.5 2147.5 528 2129.9 516.9 2120.3 505.9 2109.9 486.6 2090.1 451.4 2051.4 435.2 2035.2 427.2 2028 419.2 2021.5 411.2 2015.8 403.3 2010.7 390.2 2003.7 377.2 1997.7 364.3 1993.2 354 1991 343.9 1990.1 331.4 1990.4 321.5 1991.5 299.4 1994.9M281.1 2130.3 304.2 2113.7 359.7 2071.1 382.3 2054.7 395.2 2046.2 408 2038.4 420.8 2031.3 436.7 2023.4 458.8 2013.7 474.5 2007.5 490.1 2002.3 505.5 1998.2 520.9 1995.1 536.1 1993 580.9 1989.4M566.5 2138.2 544 2121 532.8 2111.5 521.8 2101.3 502.5 2081.8 467.2 2043.5 451.1 2027.6 443.1 2020.5 435.1 2014.2 427.1 2008.5 419.2 2003.6 406 1996.8 393 1991.1 380 1986.9 369.8 1985 359.6 1984.2 347.1 1984.8 337.1 1986.2 315.5 1990.1M268 2120.2 291.1 2103.5 346.5 2060.5 369.1 2044.1 381.9 2035.6 394.8 2027.8 407.5 2020.8 423.4 2013.1 445.5 2003.8 461.2 1997.9 476.7 1993 492.2 1989.3 507.5 1986.8 522.7 1985.2 537.7 1984.3 567.5 1983.4M582.3 2129 559.8 2112.3 548.6 2103 537.6 2093 518.3 2073.8 483 2036.3 466.9 2020.6 458.8 2013.7 450.8 2007.5 437.5 1998.8 427 1993.2 411.3 1986.3 398.3 1982 388 1979.9 377.8 1979.1 365.2 1979.6 352.7 1981.4 334 1985.2M255 2110.7 278.1 2094.2 333.4 2051.5 355.9 2035.2 368.8 2026.8 381.6 2019.2 394.3 2012.3 410.2 2004.8 432.3 1995.9 447.9 1990.2 463.4 1985.7 478.9 1982.3 494.2 1980.1 509.4 1978.9 524.4 1978.5 554.1 1978.4M598.1 2119.9 575.5 2103.6 564.4 2094.6 553.3 2084.8 534 2066.1 498.7 2029.5 482.5 2014.3 474.5 2007.5 466.5 2001.5 453.2 1993.1 442.6 1987.7 426.9 1981 413.9 1977 403.6 1975.1 393.3 1974.4 380.7 1975.1 370.6 1976.6 352.7 1980.4M242.2 2101.7 265.2 2085.6 320.4 2043.6 342.9 2027.7 355.7 2019.5 368.5 2012 381.2 2005.4 397.1 1998.2 419.1 1989.6 434.7 1984.2 450.3 1979.9 465.7 1976.8 481 1974.8 496.1 1973.9 511.2 1973.8 540.9 1974.2M613.8 2110.9 594 2097.2 574.4 2081.8 555.1 2064.2 517 2026.1 503.5 2013.5 487.4 2000.3 479.4 1994.7 471.4 1989.9 460.8 1984.4 445 1977.8 432 1973.7 421.6 1971.6 411.3 1970.7 398.6 1971.2 386 1973 371.8 1975.9M229.4 2093.2 252.4 2077.5 307.5 2036.7 330 2021.2 342.8 2013.2 355.5 2006 368.2 1999.6 384.1 1992.6 406.1 1984.3 421.7 1979.2 437.2 1975.1 452.6 1972.2 467.8 1970.5 483 1969.8 498 1969.8 527.7 1970.6M629.4 2102 609.5 2088.9 590 2074 570.6 2057.3 535.2 2023.4 519 2008.8 502.8 1996.3 494.8 1990.9 486.8 1986.3 476.2 1981.1 460.4 1974.8 447.4 1970.8 437 1968.8 426.7 1968 416.5 1968.2 406.3 1969.3 391.5 1972M216.8 2085.3 239.7 2070.1 294.7 2030.9 317.2 2016.1 330 2008.4 342.7 2001.5 355.4 1995.4 371.2 1988.7 393.1 1980.8 408.7 1975.9 424.2 1972 439.6 1969.2 454.8 1967.6 470 1966.9 485 1967 514.6 1967.8M644.9 2093.1 625 2080.7 605.4 2066.6 586 2050.7 550.5 2018.9 537 2007.3 520.9 1995.1 512.8 1989.9 504.8 1985.3 494.2 1980.1 481 1974.8 467.8 1970.5 457.4 1968 447.1 1966.6 436.8 1966.2 426.6 1966.8 412.2 1968.7M204.3 2077.9 227.2 2063.7 278.9 2028.8 301.3 2014.6 314.1 2007.2 326.8 2000.5 339.5 1994.5 352.1 1989.1 367.8 1983.3 389.7 1976.2 405.2 1972.1 420.6 1968.9 435.8 1966.9 451 1965.8 466.1 1965.4 490.8 1965.7M660.3 2084.4 640.4 2072.6 620.7 2059.4 601.3 2044.6 565.8 2015 552.2 2004.3 536.1 1993 522.7 1985.2 512 1980.1 501.4 1975.8 488.2 1971.3 475.2 1967.9 464.8 1966.2 454.5 1965.4 444.2 1965.6 434.2 1966.4M191.9 2071.2 218 2056 266.5 2025.8 285.6 2014.4 311.1 2001 333.2 1991.3 348.9 1985.5 367.7 1979.4 383.2 1974.9 398.6 1971.2 413.9 1968.4 429.1 1966.6 444.2 1965.6 461.3 1965.1M675.6 2075.8 655.7 2064.7 636 2052.3 616.5 2038.7 570 2003.8 553.8 1993.1 540.4 1985.7 529.7 1980.7 519.1 1976.5 505.9 1972.1 495.4 1969.1 485 1967 477.2 1965.9 466.9 1965.2 457.8 1965.2M179.6 2065 205.7 2051.2 270.1 2015.2 292.4 2004.2 311.3 1995.9 323.9 1991.1 339.6 1985.8 358.3 1980.1 373.7 1975.8 398.2 1970.6 410.4 1968.8 426.1 1967.1M690.9 2067.2 668 2055.2 648.3 2043.7 628.8 2031.2 587.7 2003.3 574.2 1995 560.7 1987.7 542 1979.4 531.4 1975.7 518.2 1971.6 499.9 1967.4 483.6 1965.4M167.4 2059.1 193.6 2046.8 254.7 2016.3 270.6 2009 286.5 2002.3 308.5 1994 330.4 1987 358.2 1979.2 379.9 1974.2M706.1 2058.7 686 2049 666.2 2038.6 646.6 2027.4 602.6 2000.9 589 1993.4 578.2 1988.1 562.2 1981.3 546.2 1975.8 527.7 1970.6 511.9 1967.3M155.3 2053.4 178.2 2043.9 233.1 2019.9 255.4 2010.7 283.8 2000.1 312.7 1990.9" fill="none" stroke="#0a0a0a" stroke-width="1.55" stroke-linejoin="round"/>
<path d="M403 2235 505.4 2174 560.1 2141.9 629.4 2102 706.1 2058.7M706.1 2058.7 686 2049 666.2 2038.6 646.6 2027.4 602.6 2000.9 589 1993.4 578.2 1988.1 562.2 1981.3 546.2 1975.8 527.7 1970.6 511.9 1967.3M155.3 2053.4 178.2 2043.9 233.1 2019.9 255.4 2010.7 283.8 2000.1 312.7 1990.9M403 2235 364.3 2202.3 296.9 2143.3 278.4 2128.2 262.8 2116.3 234.5 2096.6 211.8 2082.3 186.9 2068.7 155.3 2053.4M511.9 1967.3 485.2 1965.5 462.8 1965.1 441.1 1965.9 418 1968 395.6 1971.3 371.8 1975.9 348.9 1981.3 312.7 1990.9" fill="none" stroke="#0a0a0a" stroke-width="1.8" stroke-linejoin="round" stroke-linecap="round"/>
<circle cx="211.4" cy="2045.7" r="6.1" fill="#fff" stroke="#1f4a9c" stroke-width="2.5"/>
<path d="M269.6 2039.6L271.1 2081.4" stroke="#1f4a9c" stroke-width="1.3" stroke-dasharray="2.5 2" fill="none"/>
<circle cx="269.6" cy="2039.6" r="6.1" fill="#fff" stroke="#1f4a9c" stroke-width="2.5"/>
<path d="M461.4 2002.1L461.4 2058.2" stroke="#1f4a9c" stroke-width="1.3" stroke-dasharray="2.5 2" fill="none"/>
<circle cx="461.4" cy="2002.1" r="6.1" fill="#fff" stroke="#1f4a9c" stroke-width="2.5"/>
<g transform="translate(578.6,2011.8) rotate(-27)"><path d="M-5.9 1.6A6.1 6.1 0 1 1 5.9 1.6Z" fill="#fff"/><path d="M-5.9 1.6A6.1 6.1 0 1 1 5.9 1.6" fill="none" stroke="#1f4a9c" stroke-width="2.7"/></g>
<path d="M644.3 2038.6L644.3 2052.9" stroke="#1f4a9c" stroke-width="1.3" stroke-dasharray="2.5 2" fill="none"/>
<circle cx="644.3" cy="2038.6" r="6.1" fill="#fff" stroke="#1f4a9c" stroke-width="2.5"/>
<g transform="translate(331.8,2134.3) rotate(-27)"><path d="M-5.9 1.6A6.1 6.1 0 1 1 5.9 1.6Z" fill="#fff"/><path d="M-5.9 1.6A6.1 6.1 0 1 1 5.9 1.6" fill="none" stroke="#1f4a9c" stroke-width="2.7"/></g>
<circle cx="396.4" cy="2182.5" r="6.1" fill="#fff" stroke="#1f4a9c" stroke-width="2.5"/>
<path d="M397.8 1782.5L398.8 1994.3" stroke="#1f4a9c" stroke-width="1.3" stroke-dasharray="2.5 2" fill="none"/>
<circle cx="397.8" cy="1782.5" r="6" fill="#fff" stroke="#1f4a9c" stroke-width="1.8"/>
<path d="M155.8 2063.2L139.5 1722.3M155.8 2063.2L403 2249.3M403 2249.3L704.3 2094.3M155.8 2063.2l2.9 -1.3M154.4 2033.8l5.5 -2.5M153 2004.1l2.9 -1.3M151.5 1974.1l5.5 -2.4M150.1 1943.7l2.9 -1.3M148.6 1913.1l5.5 -2.4M147.2 1882.1l2.9 -1.3M145.7 1850.8l5.5 -2.3M144.2 1819.2l3 -1.2M142.6 1787.2l5.5 -2.3M141.1 1754.9l3 -1.2M139.5 1722.3l5.6 -2.2M403 2249.3l5.3 -2.7M396.4 2244.3l2.8 -1.5M389.9 2239.4l2.8 -1.5M383.3 2234.4l2.9 -1.5M376.8 2229.5l2.9 -1.5M370.3 2224.6l5.4 -2.7M363.8 2219.7l2.9 -1.4M357.3 2214.9l2.9 -1.4M350.9 2210l2.9 -1.4M344.5 2205.2l2.9 -1.4M338.1 2200.4l5.4 -2.7M331.7 2195.6l2.9 -1.4M325.3 2190.8l2.9 -1.4M319 2186l2.9 -1.4M312.7 2181.3l2.9 -1.4M306.4 2176.5l5.4 -2.7M300.1 2171.8l2.9 -1.4M293.9 2167.1l2.9 -1.4M287.7 2162.4l2.9 -1.4M281.5 2157.8l2.9 -1.4M275.3 2153.1l5.4 -2.6M269.1 2148.5l2.9 -1.4M263 2143.8l2.9 -1.4M256.8 2139.2l2.9 -1.4M250.7 2134.6l2.9 -1.4M244.7 2130.1l5.4 -2.6M238.6 2125.5l2.9 -1.4M232.5 2121l2.9 -1.4M226.5 2116.4l2.9 -1.4M220.5 2111.9l2.9 -1.4M214.5 2107.4l5.4 -2.6M208.6 2102.9l2.9 -1.4M202.6 2098.4l2.9 -1.4M196.7 2094l2.9 -1.4M190.8 2089.5l2.9 -1.4M184.9 2085.1l5.4 -2.5M179.1 2080.7l2.9 -1.4M173.2 2076.3l2.9 -1.3M167.4 2071.9l2.9 -1.3M161.6 2067.5l2.9 -1.3M155.8 2063.2l5.4 -2.5M403 2249.3l-4.8 -3.6M416.3 2242.5l-2.6 -1.9M429.5 2235.7l-4.8 -3.6M442.6 2229l-2.6 -1.9M455.6 2222.2l-4.8 -3.6M468.6 2215.6l-2.6 -1.9M481.5 2208.9l-4.9 -3.5M494.4 2202.3l-2.6 -1.9M507.2 2195.7l-4.9 -3.5M520 2189.1l-2.6 -1.9M532.7 2182.6l-4.9 -3.5M545.3 2176.1l-2.6 -1.8M557.9 2169.6l-4.9 -3.5M570.4 2163.2l-2.6 -1.8M582.8 2156.8l-4.9 -3.4M595.2 2150.4l-2.6 -1.8M607.6 2144l-4.9 -3.4M619.9 2137.7l-2.6 -1.8M632.1 2131.4l-5 -3.4M644.3 2125.2l-2.6 -1.8M656.4 2118.9l-5 -3.4M668.5 2112.7l-2.7 -1.8M680.5 2106.5l-5 -3.3M692.4 2100.4l-2.7 -1.8M704.3 2094.3l-5 -3.3M685.7 2103.8l-2.7 -1.8M691.5 2100.9l-2.7 -1.8M695.8 2098.7l-2.7 -1.8M700.1 2096.5l-2.7 -1.8" stroke="#000" stroke-width="1.4" fill="none" stroke-linecap="square"/>
<text transform="translate(133.5,1993.1) rotate(-22)" font-size="23" text-anchor="end" font-style="italic">2</text>
<text transform="translate(130.6,1932.1) rotate(-22)" font-size="23" text-anchor="end" font-style="italic">4</text>
<text transform="translate(127.7,1869.8) rotate(-22)" font-size="23" text-anchor="end" font-style="italic">6</text>
<text transform="translate(124.6,1806.2) rotate(-22)" font-size="23" text-anchor="end" font-style="italic">8</text>
<text transform="translate(121.5,1741.3) rotate(-22)" font-size="23" text-anchor="end" font-style="italic">10</text>
<text transform="translate(171.9,2099.1) rotate(-33)" font-size="22" text-anchor="end">3000</text>
<text transform="translate(231.7,2144.1) rotate(-33)" font-size="22" text-anchor="end">300</text>
<text transform="translate(293.4,2190.5) rotate(-33)" font-size="22" text-anchor="end">30</text>
<text transform="translate(357.3,2238.6) rotate(-33)" font-size="22" text-anchor="end">3</text>
<text transform="translate(456.6,2255.2) rotate(-33)" font-size="22" text-anchor="middle">1</text>
<text transform="translate(583.8,2189.8) rotate(-33)" font-size="22" text-anchor="middle">10</text>
<text transform="translate(699.9,2130.1) rotate(-33)" font-size="22" text-anchor="middle">90</text></g>
<text transform="translate(50.6,209) rotate(86.7)" font-size="31" text-anchor="start" font-weight="bold" textLength="255.5" lengthAdjust="spacingAndGlyphs">ingested particles</text>
<text transform="translate(16.7,301) rotate(86.7)" font-size="31" text-anchor="start" font-weight="bold" textLength="120.3" lengthAdjust="spacingAndGlyphs">per hour</text>
<g transform="translate(70.3,523.3) rotate(37.4)" font-weight="bold" font-style="italic"><text font-size="30" textLength="257" lengthAdjust="spacingAndGlyphs">concentration [P mL</text></g>
<text transform="translate(292.9,696.7) rotate(64)" font-size="34" font-weight="bold">]</text>
<text transform="translate(295,685) rotate(30)" font-size="15" font-style="italic">-1</text>
<text transform="translate(576,654) rotate(-27.5)" font-size="34" text-anchor="start" font-weight="bold" textLength="134" lengthAdjust="spacingAndGlyphs">size [µm]</text>
<text transform="translate(929.8,206.1) rotate(86.7)" font-size="31" text-anchor="start" font-weight="bold" textLength="255.5" lengthAdjust="spacingAndGlyphs">ingested particles</text>
<text transform="translate(895.9,298.1) rotate(86.7)" font-size="31" text-anchor="start" font-weight="bold" textLength="120.3" lengthAdjust="spacingAndGlyphs">per hour</text>
<g transform="translate(941.1,528.3) rotate(37.4)" font-weight="bold" font-style="italic"><text font-size="30" textLength="257" lengthAdjust="spacingAndGlyphs">concentration [P mL</text></g>
<text transform="translate(1163.7,701.7) rotate(64)" font-size="34" font-weight="bold">]</text>
<text transform="translate(1165.8,690) rotate(30)" font-size="15" font-style="italic">-1</text>
<text transform="translate(1446.8,659) rotate(-27.5)" font-size="34" text-anchor="start" font-weight="bold" textLength="134" lengthAdjust="spacingAndGlyphs">size [µm]</text>
<text transform="translate(54.3,972.2) rotate(86.7)" font-size="31" text-anchor="start" font-weight="bold" textLength="255.5" lengthAdjust="spacingAndGlyphs">ingested particles</text>
<text transform="translate(20.2,1064.2) rotate(86.7)" font-size="31" text-anchor="start" font-weight="bold" textLength="120.3" lengthAdjust="spacingAndGlyphs">per hour</text>
<g transform="translate(56.6,1305.9) rotate(37.4)" font-weight="bold" font-style="italic"><text font-size="30" textLength="257" lengthAdjust="spacingAndGlyphs">concentration [P mL</text></g>
<text transform="translate(279.2,1479.3) rotate(64)" font-size="34" font-weight="bold">]</text>
<text transform="translate(281.3,1467.6) rotate(30)" font-size="15" font-style="italic">-1</text>
<text transform="translate(562.3,1436.6) rotate(-27.5)" font-size="34" text-anchor="start" font-weight="bold" textLength="134" lengthAdjust="spacingAndGlyphs">size [µm]</text>
<text transform="translate(927.1,976.1) rotate(86.7)" font-size="31" text-anchor="start" font-weight="bold" textLength="255.5" lengthAdjust="spacingAndGlyphs">ingested particles</text>
<text transform="translate(893.8,1068.1) rotate(86.7)" font-size="31" text-anchor="start" font-weight="bold" textLength="120.3" lengthAdjust="spacingAndGlyphs">per hour</text>
<g transform="translate(939.6,1298.9) rotate(37.4)" font-weight="bold" font-style="italic"><text font-size="30" textLength="257" lengthAdjust="spacingAndGlyphs">concentration [P mL</text></g>
<text transform="translate(1162.2,1472.3) rotate(64)" font-size="34" font-weight="bold">]</text>
<text transform="translate(1164.3,1460.6) rotate(30)" font-size="15" font-style="italic">-1</text>
<text transform="translate(1445.3,1429.6) rotate(-27.5)" font-size="34" text-anchor="start" font-weight="bold" textLength="134" lengthAdjust="spacingAndGlyphs">size [µm]</text>
<text transform="translate(54.3,1792.2) rotate(86.7)" font-size="31" text-anchor="start" font-weight="bold" textLength="255.5" lengthAdjust="spacingAndGlyphs">ingested particles</text>
<text transform="translate(20.2,1884.2) rotate(86.7)" font-size="31" text-anchor="start" font-weight="bold" textLength="120.3" lengthAdjust="spacingAndGlyphs">per hour</text>
<g transform="translate(56.6,2125.9) rotate(37.4)" font-weight="bold" font-style="italic"><text font-size="30" textLength="257" lengthAdjust="spacingAndGlyphs">concentration [P mL</text></g>
<text transform="translate(279.2,2299.3) rotate(64)" font-size="34" font-weight="bold">]</text>
<text transform="translate(281.3,2287.6) rotate(30)" font-size="15" font-style="italic">-1</text>
<text transform="translate(562.3,2256.6) rotate(-27.5)" font-size="34" text-anchor="start" font-weight="bold" textLength="134" lengthAdjust="spacingAndGlyphs">size [µm]</text>
<text transform="translate(92,63.5) rotate(0)" font-size="44" text-anchor="start" font-weight="bold">a</text>
<text transform="translate(950,63.5) rotate(0)" font-size="44" text-anchor="start" font-weight="bold">b</text>
<text transform="translate(92,833.5) rotate(0)" font-size="44" text-anchor="start" font-weight="bold">c</text>
<text transform="translate(950,810.6) rotate(0)" font-size="44" text-anchor="start" font-weight="bold">d</text>
<text transform="translate(92,1627.6) rotate(0)" font-size="44" text-anchor="start" font-weight="bold">e</text>
<text transform="translate(950,1641.6) rotate(0)" font-size="44" text-anchor="start" font-weight="bold">f</text>
<g id="pf"><rect x="1054" y="1677.2" width="589.4" height="588.9" fill="none" stroke="#000" stroke-width="1.5"/>
<path d="M1054 1677.2h-10" stroke="#000" stroke-width="1.5"/>
<text transform="translate(1040,1686.2) rotate(0)" font-size="25.5" text-anchor="end" font-weight="bold">10000</text>
<path d="M1054 1795.7h-10" stroke="#000" stroke-width="1.5"/>
<text transform="translate(1040,1804.7) rotate(0)" font-size="25.5" text-anchor="end" font-weight="bold">1000</text>
<path d="M1054 1913.3h-10" stroke="#000" stroke-width="1.5"/>
<text transform="translate(1040,1922.3) rotate(0)" font-size="25.5" text-anchor="end" font-weight="bold">100</text>
<path d="M1054 2030.5h-10" stroke="#000" stroke-width="1.5"/>
<text transform="translate(1040,2039.5) rotate(0)" font-size="25.5" text-anchor="end" font-weight="bold">10</text>
<path d="M1054 2148.5h-10" stroke="#000" stroke-width="1.5"/>
<text transform="translate(1040,2157.5) rotate(0)" font-size="25.5" text-anchor="end" font-weight="bold">1</text>
<path d="M1054 2266.1h-10" stroke="#000" stroke-width="1.5"/>
<text transform="translate(1040,2275.1) rotate(0)" font-size="25.5" text-anchor="end" font-weight="bold">0.1</text>
<path d="M1126.6 2266.1v10" stroke="#000" stroke-width="1.5"/>
<text transform="translate(1129.6,2303.1) rotate(0)" font-size="25.5" text-anchor="middle" font-style="italic">D. magna</text>
<path d="M1272.6 2266.1v10" stroke="#000" stroke-width="1.5"/>
<text transform="translate(1275.6,2303.1) rotate(0)" font-size="25.5" text-anchor="middle" font-style="italic">C. riparius</text>
<path d="M1418.6 2266.1v10" stroke="#000" stroke-width="1.5"/>
<text transform="translate(1421.6,2303.1) rotate(0)" font-size="25.5" text-anchor="middle" font-style="italic">G. pulex</text>
<path d="M1564.2 2266.1v10" stroke="#000" stroke-width="1.5"/>
<text transform="translate(1567.2,2303.1) rotate(0)" font-size="25.5" text-anchor="middle" font-style="italic">P. acuta</text>
<path d="M1198.6 1679.2V2266.1" stroke="#000" stroke-width="1.3" stroke-dasharray="5 2.5"/>
<path d="M1346.1 1679.2V2266.1" stroke="#000" stroke-width="1.3" stroke-dasharray="5 2.5"/>
<path d="M1491.7 1679.2V2266.1" stroke="#000" stroke-width="1.3" stroke-dasharray="5 2.5"/>
<rect x="1073.5" y="1773.5" width="27" height="145.1" fill="#ffffff" stroke="#000" stroke-width="1.4"/>
<path d="M1073.5 1799.1H1100.5" stroke="#000" stroke-width="1.4"/>
<rect x="1113.3" y="1791.5" width="27" height="44.6" fill="#a9a9b2" stroke="#000" stroke-width="1.4"/>
<path d="M1113.3 1807.6H1140.3" stroke="#000" stroke-width="1.4"/>
<rect x="1219.5" y="2027.6" width="27" height="85.8" fill="#ffffff" stroke="#000" stroke-width="1.4"/>
<path d="M1219.5 2064.1H1246.5" stroke="#000" stroke-width="1.4"/>
<rect x="1259.3" y="1946.5" width="27" height="55" fill="#a9a9b2" stroke="#000" stroke-width="1.4"/>
<path d="M1259.3 1971.7H1286.4" stroke="#000" stroke-width="1.4"/>
<rect x="1299.2" y="2169.4" width="27" height="36" fill="#5b5d59" stroke="#000" stroke-width="1.4"/>
<path d="M1299.2 2184.6H1326.2" stroke="#000" stroke-width="1.4"/>
<rect x="1365.5" y="2113.4" width="27" height="92" fill="#ffffff" stroke="#000" stroke-width="1.4"/>
<path d="M1365.5 2146.1H1392.6" stroke="#000" stroke-width="1.4"/>
<rect x="1405.4" y="2077.9" width="27" height="127.5" fill="#a9a9b2" stroke="#000" stroke-width="1.4"/>
<path d="M1405.4 2133.8H1432.4" stroke="#000" stroke-width="1.4"/>
<rect x="1445.2" y="2027.6" width="27" height="177.8" fill="#5b5d59" stroke="#000" stroke-width="1.4"/>
<path d="M1445.2 2097.8H1472.2" stroke="#000" stroke-width="1.4"/>
<rect x="1511.6" y="2069.8" width="27" height="22.8" fill="#ffffff" stroke="#000" stroke-width="1.4"/>
<path d="M1511.6 2083.1H1538.6" stroke="#000" stroke-width="1.4"/>
<rect x="1551.4" y="1984.5" width="27" height="21.3" fill="#a9a9b2" stroke="#000" stroke-width="1.4"/>
<path d="M1551.4 1997.7H1578.4" stroke="#000" stroke-width="1.4"/>
<rect x="1590.8" y="1968.3" width="27.5" height="40.3" fill="#5b5d59" stroke="#000" stroke-width="1.4"/>
<path d="M1590.8 1980.7H1618.3" stroke="#000" stroke-width="1.4"/>
<rect x="1501.1" y="1695.2" width="39.4" height="15.2" fill="#ffffff" stroke="#000" stroke-width="1.4"/>
<text transform="translate(1562.8,1711.8) rotate(0)" font-size="25.5" text-anchor="start">1 µm</text>
<rect x="1501.1" y="1723.7" width="39.4" height="14.2" fill="#a9a9b2" stroke="#000" stroke-width="1.4"/>
<text transform="translate(1562.8,1740.3) rotate(0)" font-size="25.5" text-anchor="start">10 µm</text>
<rect x="1501.1" y="1753.5" width="39.4" height="14.7" fill="#5b5d59" stroke="#000" stroke-width="1.4"/>
<text transform="translate(1562.8,1769.7) rotate(0)" font-size="25.5" text-anchor="start">90 µm</text>
<text transform="translate(1377.9,2044.9) rotate(0)" font-size="11" text-anchor="middle">★</text>
<text transform="translate(1377.9,2062) rotate(0)" font-size="11" text-anchor="middle">★</text>
<text transform="translate(1377.9,2079.5) rotate(0)" font-size="11" text-anchor="middle">★</text>
<text transform="translate(1409.6,2009.3) rotate(0)" font-size="11" text-anchor="middle">★</text>
<text transform="translate(1409.6,2026.9) rotate(0)" font-size="11" text-anchor="middle">★</text>
<text transform="translate(1409.6,2043.9) rotate(0)" font-size="11" text-anchor="middle">★</text>
<text transform="translate(1429.1,2043) rotate(0)" font-size="11" text-anchor="middle">★</text>
<text transform="translate(1523.4,2032.1) rotate(0)" font-size="11" text-anchor="middle">★</text>
<text transform="translate(1604.5,1900.7) rotate(0)" font-size="11" text-anchor="middle">★</text>
<text transform="translate(1604.5,1918.3) rotate(0)" font-size="11" text-anchor="middle">★</text>
<text transform="translate(1604.5,1934.9) rotate(0)" font-size="11" text-anchor="middle">★</text>
<text transform="translate(1378.8,2105.2) rotate(0)" font-size="21" text-anchor="middle">m</text>
<text transform="translate(1409.6,2069.6) rotate(0)" font-size="21" text-anchor="middle">m</text>
<text transform="translate(1426.2,2069.6) rotate(0)" font-size="21" text-anchor="middle">r</text>
<text transform="translate(1524.9,2057.8) rotate(0)" font-size="21" text-anchor="middle">m</text>
<text transform="translate(1604.5,1960.6) rotate(0)" font-size="21" text-anchor="middle">r</text>
<text transform="translate(927,1971) rotate(-90)" font-size="36" text-anchor="middle" font-weight="bold" textLength="462" lengthAdjust="spacingAndGlyphs">ingested particles per hour</text></g>
</svg>
</body></html>
